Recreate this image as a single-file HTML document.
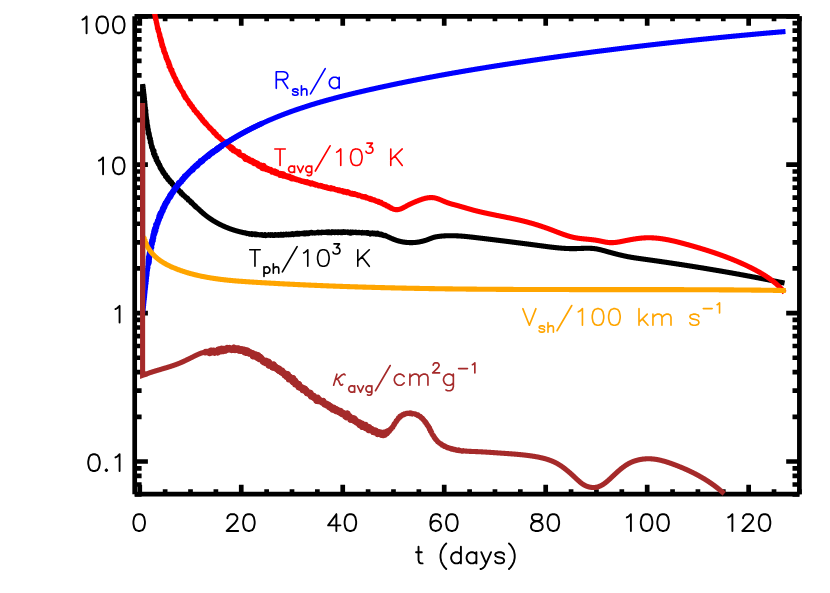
<!DOCTYPE html>
<html><head><meta charset="utf-8"><title>plot</title><style>html,body{margin:0;padding:0;background:#fff;font-family:"Liberation Sans",sans-serif;overflow:hidden}svg{display:block}</style></head><body>
<svg width="830" height="593" viewBox="0 0 830 593">
<rect width="830" height="593" fill="#fff"/>
<g stroke="#000" stroke-width="4.7" fill="none" stroke-linecap="butt">
<path d="M134.7 16.3 H799.4 M799.4 16.3 V494.2 M799.4 494.2 H134.7 M134.7 494.2 V16.3"/>
<path d="M139.77 494.2 v-9.4 M139.77 16.3 v9.4 M165.14 494.2 v-4.9 M165.14 16.3 v4.9 M190.51 494.2 v-4.9 M190.51 16.3 v4.9 M215.88 494.2 v-4.9 M215.88 16.3 v4.9 M241.25 494.2 v-9.4 M241.25 16.3 v9.4 M266.63 494.2 v-4.9 M266.63 16.3 v4.9 M292 494.2 v-4.9 M292 16.3 v4.9 M317.37 494.2 v-4.9 M317.37 16.3 v4.9 M342.74 494.2 v-9.4 M342.74 16.3 v9.4 M368.11 494.2 v-4.9 M368.11 16.3 v4.9 M393.48 494.2 v-4.9 M393.48 16.3 v4.9 M418.85 494.2 v-4.9 M418.85 16.3 v4.9 M444.22 494.2 v-9.4 M444.22 16.3 v9.4 M469.59 494.2 v-4.9 M469.59 16.3 v4.9 M494.96 494.2 v-4.9 M494.96 16.3 v4.9 M520.33 494.2 v-4.9 M520.33 16.3 v4.9 M545.7 494.2 v-9.4 M545.7 16.3 v9.4 M571.07 494.2 v-4.9 M571.07 16.3 v4.9 M596.44 494.2 v-4.9 M596.44 16.3 v4.9 M621.81 494.2 v-4.9 M621.81 16.3 v4.9 M647.18 494.2 v-9.4 M647.18 16.3 v9.4 M672.55 494.2 v-4.9 M672.55 16.3 v4.9 M697.92 494.2 v-4.9 M697.92 16.3 v4.9 M723.29 494.2 v-4.9 M723.29 16.3 v4.9 M748.66 494.2 v-9.4 M748.66 16.3 v9.4 M774.03 494.2 v-4.9 M774.03 16.3 v4.9 M799.4 494.2 v-4.9 M799.4 16.3 v4.9 M134.7 494.42 h6.9 M799.4 494.42 h-6.9 M134.7 484.49 h6.9 M799.4 484.49 h-6.9 M134.7 475.88 h6.9 M799.4 475.88 h-6.9 M134.7 468.29 h6.9 M799.4 468.29 h-6.9 M134.7 461.5 h13.2 M799.4 461.5 h-13.2 M134.7 416.83 h6.9 M799.4 416.83 h-6.9 M134.7 390.7 h6.9 M799.4 390.7 h-6.9 M134.7 372.15 h6.9 M799.4 372.15 h-6.9 M134.7 357.77 h6.9 M799.4 357.77 h-6.9 M134.7 346.02 h6.9 M799.4 346.02 h-6.9 M134.7 336.09 h6.9 M799.4 336.09 h-6.9 M134.7 327.48 h6.9 M799.4 327.48 h-6.9 M134.7 319.89 h6.9 M799.4 319.89 h-6.9 M134.7 313.1 h13.2 M799.4 313.1 h-13.2 M134.7 268.43 h6.9 M799.4 268.43 h-6.9 M134.7 242.3 h6.9 M799.4 242.3 h-6.9 M134.7 223.75 h6.9 M799.4 223.75 h-6.9 M134.7 209.37 h6.9 M799.4 209.37 h-6.9 M134.7 197.62 h6.9 M799.4 197.62 h-6.9 M134.7 187.69 h6.9 M799.4 187.69 h-6.9 M134.7 179.08 h6.9 M799.4 179.08 h-6.9 M134.7 171.49 h6.9 M799.4 171.49 h-6.9 M134.7 164.7 h13.2 M799.4 164.7 h-13.2 M134.7 120.03 h6.9 M799.4 120.03 h-6.9 M134.7 93.9 h6.9 M799.4 93.9 h-6.9 M134.7 75.35 h6.9 M799.4 75.35 h-6.9 M134.7 60.97 h6.9 M799.4 60.97 h-6.9 M134.7 49.22 h6.9 M799.4 49.22 h-6.9 M134.7 39.29 h6.9 M799.4 39.29 h-6.9 M134.7 30.68 h6.9 M799.4 30.68 h-6.9 M134.7 23.09 h6.9 M799.4 23.09 h-6.9 M134.7 16.3 h13.2 M799.4 16.3 h-13.2"/>
</g>
<defs><clipPath id="cp"><rect x="132.35" y="13.950000000000001" width="669.4000000000001" height="482.59999999999997"/></clipPath></defs>
<g clip-path="url(#cp)">
<path d="M142.6 313 L142.6 84.3 L142.93 86.1 L143 86.39 L143 86.69 L143.06 86.99 L143.15 87.28 L143.05 87.59 L143.08 87.89 L143.06 88.2 L143.21 88.48 L143.27 88.78 L143.31 89.07 L143.42 89.36 L143.28 89.68 L143.46 89.96 L143.5 90.26 L143.46 90.57 L143.37 90.88 L143.5 91.17" stroke="#000" stroke-width="5.1" fill="none" stroke-linejoin="bevel"/>
<path d="M143.28 89.68 L143.46 89.96 L143.5 90.26 L143.46 90.57 L143.37 90.88 L143.5 91.17 L143.62 91.46 L143.63 91.76 L143.57 92.07 L143.66 92.36 L143.74 92.65 L143.73 92.95 L143.68 93.26 L143.62 93.57 L143.9 93.84 L143.89 94.15 L143.93 94.44 L144.09 94.73 L144 95.04 L144.04 95.34 L143.9 95.65 L144.03 95.94 L144.19 96.23 L144.03 96.54 L144.14 96.83 L144.29 97.12 L144.23 97.43 L144.26 97.73 L144.31 98.02 L144.26 98.33 L144.49 98.61 L144.35 98.93 L144.26 99.24 L144.31 99.53 L144.31 99.83 L144.34 100.13 L144.34 100.44 L144.61 100.71 L144.45 101.03 L144.74 101.3 L144.65 101.61 L144.81 101.9 L144.55 102.22 L144.55 102.53 L144.73 102.81 L144.57 103.13 L144.84 103.4 L144.79 103.71 L144.81 104.01 L144.97 104.29 L144.85 104.61 L144.72 104.92 L145.05 105.19 L144.89 105.51 L145.03 105.8 L144.85 106.11 L145.02 106.4 L145.03 106.7 L145.06 107 L145.13 107.29 L145.34 107.57 L145.07 107.9 L145.4 108.17 L145.26 108.49 L145.25 108.79 L145.44 109.07 L145.36 109.38 L145.28 109.69 L145.44 109.98 L145.57 110.27 L145.83 110.54 L145.65 110.86 L145.63 111.16 L145.66 111.46 L145.74 111.76 L145.62 112.07 L145.76 112.36 L145.74 112.66 L145.68 112.97 L145.9 113.25 L145.86 113.55 L145.6 113.89 L145.79 114.17 L146.09 114.44 L145.97 114.75 L145.93 115.06 L145.88 115.37 L146.05 115.65 L146.17 115.94 L146.23 116.23 L146.09 116.55 L146.17 116.84 L146.31 117.13 L146.31 117.43 L146.37 117.73 L146.26 118.04 L146.48 118.32 L146.37 118.63 L146.35 118.94 L146.44 119.23 L146.66 119.5 L146.4 119.84 L146.71 120.1 L146.6 120.42 L146.8 120.7 L146.98 120.97 L146.75 121.31 L146.78 121.61 L146.87 121.9 L146.86 122.2 L147.04 122.48 L147.09 122.78 L147.05 123.08 L146.79 123.43 L146.99 123.7 L147.23 123.97 L147.12 124.29 L147.32 124.56 L147.36 124.86 L147.2 125.19 L147.46 125.45 L147.68 125.72 L147.61 126.03 L147.5 126.36 L147.54 126.65 L147.42 126.98 L147.77 127.22 L147.59 127.56 L147.69 127.85 L147.83 128.13 L147.72 128.45 L147.83 128.74 L148.1 128.99 L147.83 129.35 L148.26 129.58 L148.1 129.91 L148.16 130.2 L148.14 130.51 L148.39 130.77 L148.33 131.09 L148.4 131.38 L148.26 131.71 L148.62 131.95 L148.53 132.27 L148.64 132.55 L148.88 132.81 L148.23 133.25 L148.78 133.44 L149.1 133.69 L148.63 134.09 L149.14 134.29 L148.94 134.64 L148.91 134.95 L149.25 135.19 L149.27 135.49 L149.35 135.78 L149.34 136.09 L149.69 136.32 L149.68 136.63 L149.53 136.97 L149.37 137.31 L149.51 137.59 L149.36 137.93 L149.63 138.18 L149.94 138.41 L149.93 138.72 L150.38 138.92 L150.24 139.27 L150.32 139.55 L150.13 139.91 L150.12 140.22 L150.44 140.45 L150.52 140.74 L150.8 140.98 L150.57 141.35 L150.57 141.66 L150.6 141.96 L150.94 142.18 L150.41 142.63 L150.66 142.88 L151.02 143.09 L151.2 143.35 L151.23 143.65 L151.21 143.97 L151.32 144.25 L151.29 144.57 L151.31 144.88 L151.25 145.21 L151.38 145.49 L151.76 145.69 L151.72 146.01 L151.99 146.25 L152.13 146.52 L151.61 146.99 L152.27 147.1 L151.77 147.57 L152.42 147.68 L152.36 148.01 L152.25 148.36 L152.6 148.57 L152.6 148.88 L152.84 149.12 L152.99 149.39 L153.01 149.7 L153.22 149.94 L152.77 150.41 L153.3 150.55 L152.95 150.99 L154.09 150.92 L153.54 151.42 L153.51 151.75 L153.81 151.96 L153.59 152.36 L153.79 152.6 L154.11 152.81 L154.05 153.15 L153.59 153.64 L154.29 153.7 L154.39 153.99 L154.67 154.2 L154.64 154.54 L155.08 154.69 L154.93 155.07 L154.42 155.59 L154.85 155.74 L155.06 155.98 L155.06 156.31 L154.99 156.66 L155.4 156.82 L155.17 157.23 L155.52 157.42 L155.84 157.61 L155.6 158.04 L156.65 157.92 L156.36 158.37 L156.28 158.73 L156.67 158.89 L156.61 159.24 L156.84 159.47 L156.97 159.74 L156.32 160.35 L156.92 160.42 L157.19 160.62 L157 161.04 L157.48 161.15 L157.35 161.54 L157.6 161.76 L157.44 162.17 L158.25 162.11 L157.89 162.62 L158.16 162.82 L158.58 162.95 L158.21 163.47 L158.78 163.52 L158.35 164.07 L158.73 164.22 L158.82 164.5 L159.1 164.7 L159.05 165.07 L159.8 165.02 L159.51 165.51 L159.8 165.69 L159.74 166.06 L159.95 166.29 L159.94 166.63 L160.4 166.73 L159.96 167.31 L160 167.63 L160.69 167.59 L160.8 167.88 L160.88 168.18 L160.81 168.56 L160.82 168.9 L161.64 168.78 L161.66 169.11 L161.91 169.32 L162.07 169.57 L162.33 169.76 L162.05 170.27 L162.54 170.34 L162.12 170.94 L162.4 171.12 L162.97 171.12 L163.13 171.38 L163.2 171.69 L162.93 172.21 L163.56 172.16 L163.86 172.33 L163.71 172.78 L163.79 173.09 L164.17 173.2 L163.85 173.76 L164.31 173.82 L164.43 174.1 L164.87 174.17 L164.87 174.53 L165.06 174.77 L165.66 174.72 L165.31 175.33 L165.9 175.27 L165.71 175.77 L166.18 175.81 L165.64 176.56 L166.16 176.56 L166.23 176.88 L166.39 177.13 L167.02 177.04 L167.39 177.14 L167.18 177.67 L167.12 178.1 L167.46 178.22 L167.5 178.56 L167.65 178.82 L168.32 178.69 L168.15 179.2 L168.01 179.69 L168.69 179.54 L169.16 179.54 L169 180.06 L169.23 180.25 L169.25 180.63 L169.7 180.65 L169.7 181.04 L170.33 180.9 L169.94 181.62 L169.99 181.97 L170.24 182.15 L170.97 181.92 L170.82 182.45 L171.64 182.14 L171.22 182.9 L171.48 183.07 L171.86 183.14 L171.8 183.58 L172.04 183.77 L172.09 184.13 L172.45 184.22 L172.63 184.46 L173.23 184.31 L173.29 184.67 L173.37 185 L173.43 185.35 L173.69 185.52 L173.62 186 L174.26 185.81 L174.35 186.14 L174.47 186.44 L174.76 186.57 L174.84 186.91 L175.24 186.95 L175.09 187.51 L175.61 187.42 L175.56 187.89 L175.98 187.9 L175.92 188.38 L176.64 188.09 L176.52 188.64 L176.9 188.68 L176.99 189.01 L177.03 189.39 L177.66 189.19 L177.9 189.37 L178.06 189.64 L178.05 190.07 L178.64 189.9 L178.51 190.46 L178.97 190.42 L179.16 190.66 L179.24 191.01 L179.32 191.35 L179.72 191.37 L179.91 191.61 L180.05 191.9 L180.3 192.06 L180.94 191.83 L180.77 192.45 L180.9 192.75 L180.94 193.14 L181 193.51 L181.45 193.47 L181.77 193.57 L182.17 193.58 L182.21 193.98 L182.31 194.31 L182.45 194.61 L183.03 194.42 L183.06 194.83 L183.18 195.14 L183.22 195.53 L183.72 195.44 L184.07 195.5 L184.32 195.68 L184.48 195.94 L184.75 196.09 L184.72 196.57 L184.9 196.81 L185.18 196.95 L185.32 197.24 L185.82 197.14 L185.9 197.5 L186.25 197.56 L186.4 197.84 L186.42 198.27 L186.86 198.24 L187.39 198.1 L187.34 198.6 L187.63 198.72 L187.99 198.78 L188.09 199.11 L188.01 199.64 L188.11 199.97 L188.7 199.78 L188.67 200.26 L188.86 200.49 L189.48 200.27 L189.51 200.68 L189.73 200.88 L189.91 201.12 L190.43 201 L190.44 201.43 L190.42 201.9 L190.61 202.14 L190.73 202.45 L191.32 202.25 L191.16 202.86 L191.59 202.85 L192.15 202.68 L192.01 203.27 L192.42 203.28 L192.49 203.64 L192.81 203.73 L192.8 204.18 L193.19 204.21 L193.49 204.32 L193.51 204.74 L193.84 204.83 L194.17 204.92 L194.12 205.4 L194.6 205.34 L194.85 205.51 L195.05 205.74 L195.4 205.81 L195.48 206.15 L195.38 206.7 L195.96 206.52 L196.06 206.85 L196.42 206.91 L196.57 207.18 L196.54 207.66 L196.83 207.78 L197.22 207.81 L197.37 208.08 L197.68 208.2 L197.89 208.41 L198.12 208.6 L198.34 208.81 L198.44 209.14 L198.64 209.37 L198.87 209.56 L199.15 209.7 L199.46 209.8 L199.58 210.12 L199.86 210.25 L199.96 210.6 L200.2 210.77 L200.42 210.98 L200.71 211.11 L201.01 211.22 L201.08 211.59 L201.3 211.8 L201.66 211.85 L201.8 212.13 L201.99 212.38 L202.3 212.48 L202.43 212.79 L202.73 212.9 L202.98 213.07 L203.14 213.34 L203.4 213.51 L203.64 213.68 L203.85 213.9 L204.12 214.05 L204.31 214.29 L204.56 214.45 L204.79 214.65 L205.02 214.84 L205.26 215.02 L205.49 215.21 L205.73 215.4 L205.96 215.58 L206.2 215.77 L206.44 215.95 L206.68 216.13 L206.91 216.32 L207.15 216.5 L207.39 216.68 L207.64 216.86 L207.88 217.03 L208.12 217.21 L208.36 217.39 L208.61 217.56 L208.85 217.74 L209.09 217.91 L209.34 218.08 L209.59 218.26 L209.83 218.43 L210.08 218.6 L210.33 218.77 L210.58 218.93 L210.83 219.1 L211.08 219.27 L211.33 219.43 L211.58 219.6 L211.83 219.76 L212.08 219.92 L212.33 220.09 L212.59 220.25 L212.84 220.41 L213.09 220.57 L213.35 220.73 L213.61 220.88 L213.86 221.04 L214.12 221.19 L214.38 221.35 L214.63 221.5 L214.89 221.66 L215.15 221.81 L215.41 221.96 L215.67 222.11 L215.93 222.26 L216.19 222.41 L216.45 222.55 L216.71 222.7 L216.98 222.85 L217.24 222.99 L217.5 223.14 L217.77 223.28 L218.03 223.42 L218.3 223.56 L218.56 223.7 L218.83 223.84 L219.09 223.98 L219.36 224.12 L219.63 224.25 L219.9 224.39 L220.16 224.52 L220.43 224.66 L220.7 224.79 L220.97 224.92 L221.24 225.05 L221.51 225.18 L221.78 225.31 L222.05 225.44 L222.32 225.57 L222.6 225.7 L222.87 225.82 L223.14 225.95 L223.42 226.07 L223.69 226.2 L223.96 226.32 L224.24 226.44 L224.51 226.56 L224.79 226.68 L225.06 226.8 L225.34 226.92 L225.62 227.03 L225.89 227.15 L226.17 227.27 L226.45 227.38 L226.73 227.49 L227 227.61 L227.28 227.72 L227.56 227.83 L227.84 227.94 L228.12 228.05 L228.4 228.16 L228.68 228.26 L228.96 228.37 L229.24 228.48 L229.52 228.58 L229.8 228.68 L230.09 228.79 L230.37 228.89 L230.65 228.99 L230.93 229.09 L231.22 229.19 L231.5 229.29 L231.78 229.39 L232.07 229.48 L232.35 229.58 L232.64 229.68 L232.92 229.77 L233.21 229.86 L233.49 229.96 L233.78 230.05 L234.06 230.14 L234.35 230.23 L234.64 230.32 L234.92 230.41 L235.21 230.49 L235.5 230.58 L235.79 230.67 L236.07 230.75 L236.36 230.84 L236.65 230.92 L236.94 231 L237.23 231.08 L237.52 231.16 L237.81 231.24 L238.1 231.32 L238.39 231.4 L238.68 231.48 L238.97 231.55 L239.26 231.63 L239.55 231.7 L239.84 231.78 L240.13 231.85 L240.42 231.92 L240.71 231.99 L241 232.07 L241.3 232.11 L241.6 232.15 L241.88 232.29 L242.17 232.36 L242.48 232.35 L242.75 232.52 L243.06 232.48 L243.34 232.61 L243.66 232.57 L243.94 232.72 L244.24 232.72 L244.53 232.79 L244.81 232.92 L245.1 233.01 L245.42 232.92 L245.67 233.22 L246.01 233.03 L246.32 233 L246.59 233.19 L246.84 233.51 L247.19 233.27 L247.51 233.2 L247.79 233.34 L248.06 233.53 L248.35 233.61 L248.65 233.65 L248.93 233.8 L249.2 234.01 L249.54 233.74 L249.83 233.84 L250.14 233.82 L250.43 233.93 L250.7 234.13 L251.02 234.02 L251.36 233.78 L251.6 234.21 L251.88 234.39 L252.22 234.15 L252.47 234.55 L252.79 234.4 L253.15 233.9 L253.42 234.15 L253.74 234.04 L254.02 234.2 L254.33 234.16 L254.6 234.42 L254.89 234.54 L255.25 234.02 L255.49 234.64 L255.8 234.47 L256.08 234.74 L256.4 234.49 L256.74 234.09 L257 234.58 L257.29 234.71 L257.59 234.74 L257.89 234.67 L258.21 234.48 L258.51 234.53 L258.8 234.58 L259.11 234.55 L259.39 234.8 L259.68 234.89 L259.98 235.01 L260.28 234.93 L260.59 234.84 L260.88 235.02 L261.19 234.9 L261.5 234.71 L261.78 235.13 L262.09 234.94 L262.39 234.95 L262.67 235.25 L262.98 235.11 L263.28 235.15 L263.57 235.45 L263.88 235.29 L264.18 235.23 L264.48 235.08 L264.8 234.63 L265.1 234.54 L265.39 234.88 L265.67 235.59 L265.99 235.06 L266.29 235 L266.58 235.22 L266.88 235.36 L267.18 235.2 L267.48 235.24 L267.79 235.2 L268.09 235.05 L268.39 235.01 L268.69 234.64 L268.99 235.12 L269.29 235.12 L269.59 235.19 L269.89 235.34 L270.19 234.84 L270.49 234.87 L270.79 235.28 L271.09 234.78 L271.39 235.16 L271.69 235.12 L271.99 235.22 L272.29 234.93 L272.59 235.23 L272.88 234.84 L273.19 235.26 L273.49 235.08 L273.79 234.99 L274.09 235.11 L274.39 235.34 L274.68 234.83 L274.99 235.01 L275.28 234.78 L275.59 235.24 L275.89 235.18 L276.18 234.83 L276.49 234.96 L276.78 234.76 L277.09 235 L277.4 235.2 L277.68 234.85 L277.99 234.96 L278.28 234.59 L278.6 235.3 L278.88 234.67 L279.19 234.94 L279.48 234.82 L279.8 235.12 L280.09 234.83 L280.38 234.78 L280.67 234.56 L281 235.1 L281.27 234.45 L281.6 235.14 L281.9 235.07 L282.21 235.18 L282.48 234.57 L282.78 234.6 L283.09 234.78 L283.4 234.97 L283.67 234.49 L284 234.96 L284.27 234.44 L284.59 234.82 L284.89 234.66 L285.19 234.68 L285.48 234.61 L285.79 234.75 L286.06 234.21 L286.4 234.79 L286.68 234.43 L286.98 234.49 L287.27 234.34 L287.59 234.64 L287.89 234.56 L288.18 234.38 L288.47 234.24 L288.8 234.81 L289.08 234.35 L289.39 234.5 L289.67 234.3 L289.99 234.57 L290.3 234.62 L290.59 234.53 L290.9 234.64 L291.2 234.64 L291.44 233.8 L291.77 234.09 L292.06 233.95 L292.38 234.33 L292.68 234.24 L292.96 233.9 L293.3 234.48 L293.57 234.15 L293.9 234.44 L294.16 233.94 L294.48 234.23 L294.79 234.3 L295.06 233.94 L295.37 234.06 L295.67 233.97 L295.96 233.87 L296.27 234 L296.54 233.49 L296.88 234.04 L297.17 233.88 L297.45 233.57 L297.77 233.97 L298.03 233.38 L298.35 233.53 L298.68 234.01 L298.97 233.85 L299.25 233.57 L299.58 234 L299.86 233.6 L300.16 233.61 L300.46 233.64 L300.77 233.75 L301.07 233.7 L301.34 233.36 L301.65 233.46 L301.96 233.65 L302.27 233.75 L302.56 233.54 L302.87 233.66 L303.17 233.63 L303.44 233.21 L303.75 233.36 L304.08 233.84 L304.35 233.31 L304.66 233.51 L304.93 233.05 L305.29 233.96 L305.54 233.13 L305.86 233.42 L306.16 233.36 L306.43 232.9 L306.75 233.17 L307.06 233.44 L307.34 233.04 L307.66 233.36 L307.94 233.08 L308.26 233.39 L308.57 233.59 L308.83 232.86 L309.15 233.14 L309.44 232.91 L309.73 232.83 L310.04 233.02 L310.35 233.05 L310.65 233.08 L310.95 233.06 L311.22 232.48 L311.54 232.83 L311.82 232.46 L312.15 232.97 L312.45 233.07 L312.74 232.93 L313.04 232.74 L313.35 232.92 L313.65 233 L313.95 232.93 L314.23 232.68 L314.54 232.7 L314.85 233.04 L315.14 232.75 L315.44 232.77 L315.74 232.73 L316.05 232.84 L316.34 232.81 L316.64 232.62 L316.94 232.59 L317.24 232.59 L317.54 232.67 L317.84 232.75 L318.13 232.31 L318.45 232.93 L318.73 232.36 L319.04 232.6 L319.33 232.33 L319.63 232.44 L319.94 232.52 L320.24 232.65 L320.54 232.57 L320.84 232.69 L321.14 232.43 L321.45 232.83 L321.73 232.13 L322.04 232.52 L322.34 232.52 L322.63 232.35 L322.94 232.43 L323.23 232.24 L323.54 232.5 L323.83 232.32 L324.14 232.56 L324.44 232.47 L324.74 232.47 L325.04 232.39 L325.33 232.18 L325.64 232.51 L325.94 232.52 L326.24 232.27 L326.53 232.1 L326.83 232.19 L327.14 232.54 L327.43 231.96 L327.74 232.38 L328.04 232.22 L328.34 232.45 L328.63 231.97 L328.94 232.37 L329.23 232.05 L329.54 232.38 L329.85 232.62 L330.14 232.21 L330.45 232.65 L330.74 232.25 L331.04 232.39 L331.35 232.72 L331.64 232.44 L331.94 232.33 L332.23 231.72 L332.54 232.04 L332.84 232.29 L333.14 232.05 L333.44 232 L333.74 232.3 L334.04 231.89 L334.34 231.95 L334.64 232.34 L334.94 232.62 L335.24 232.02 L335.54 232.2 L335.84 232.3 L336.14 232.04 L336.44 231.99 L336.74 232.26 L337.04 231.94 L337.34 232.01 L337.64 232.57 L337.94 231.76 L338.24 232.58 L338.54 232.47 L338.84 232.04 L339.14 232.41 L339.44 232.21 L339.74 231.97 L340.04 232.05 L340.34 232.01 L340.64 232.5 L340.95 231.91 L341.25 231.89 L341.55 232.09 L341.85 232.03 L342.14 232.63 L342.45 232.06 L342.75 232.02 L343.05 232.01 L343.35 232 L343.65 231.74 L343.95 232.19 L344.25 232.02 L344.55 232.12 L344.84 232.44 L345.14 232.41 L345.44 232.36 L345.75 232 L346.05 232.18 L346.35 232.09 L346.65 232.14 L346.95 232.18 L347.25 232.1 L347.54 232.45 L347.85 232.07 L348.14 232.53 L348.45 232.33 L348.75 232.22 L349.05 232.36 L349.35 232.19 L349.65 232.2 L349.94 232.49 L350.25 232.23 L350.53 233.21 L350.86 232.04 L351.16 232.02 L351.44 232.59 L351.75 232.21 L352.05 232.19 L352.36 232.11 L352.65 232.29 L352.95 232.18 L353.24 232.52 L353.55 232.23 L353.85 232.37 L354.15 232.52 L354.45 232.44 L354.75 232.3 L355.06 232.19 L355.36 232.1 L355.66 232.1 L355.94 232.6 L356.25 232.33 L356.55 232.37 L356.85 232.51 L357.15 232.56 L357.44 232.72 L357.75 232.61 L358.05 232.47 L358.36 232.29 L358.64 232.65 L358.95 232.54 L359.25 232.57 L359.56 232.4 L359.85 232.67 L360.14 232.8 L360.45 232.6 L360.74 232.8 L361.05 232.68 L361.35 232.61 L361.63 232.96 L361.95 232.66 L362.24 232.79 L362.56 232.42 L362.84 232.95 L363.15 232.69 L363.45 232.77 L363.75 232.73 L364.04 232.89 L364.35 232.72 L364.66 232.63 L364.94 232.91 L365.24 232.96 L365.55 232.81 L365.83 233.08 L366.13 233.18 L366.45 232.81 L366.74 233.09 L367.04 233.11 L367.36 232.69 L367.66 232.78 L367.97 232.58 L368.22 233.38 L368.55 233.01 L368.84 233.04 L369.13 233.28 L369.41 233.51 L369.73 233.29 L370.01 233.56 L370.32 233.51 L370.58 234.06 L370.95 233.07 L371.24 233.2 L371.55 233.15 L371.82 233.48 L372.15 233.18 L372.42 233.56 L372.76 233 L373.01 233.65 L373.32 233.57 L373.6 233.81 L373.91 233.66 L374.22 233.57 L374.52 233.65 L374.87 233.16 L375.13 233.57 L375.42 233.69 L375.68 234.08 L376.01 233.75 L376.36 233.42 L376.55 234.28 L376.94 233.63 L377.21 233.89 L377.54 233.7 L377.91 233.2 L378.07 234.17 L378.41 233.94 L378.67 234.26 L379.01 234 L379.26 234.32 L379.52 234.59 L379.85 234.43 L380.18 234.32 L380.49 234.3 L380.76 234.47 L381.12 234.25 L381.34 234.62 L381.61 234.8 L382.01 234.41 L382.29 234.53 L382.42 235.26 L382.81 234.94 L382.99 235.41 L383.36 235.22 L383.64 235.33 L383.95 235.31 L384.15 235.68 L384.46 235.7 L384.83 235.53 L385.22 235.31 L385.47 235.52 L385.68 235.82 L386.01 235.79 L386.2 236.13 L386.49 236.22 L386.77 236.34 L387.04 236.46 L387.34 236.52 L387.6 236.67 L387.89 236.76 L388.23 236.73 L388.45 236.97 L388.73 237.1 L388.96 237.32 L389.29 237.31 L389.58 237.39 L389.74 237.77 L390.06 237.79 L390.32 237.94 L390.58 238.1 L390.91 238.09 L391.15 238.3 L391.45 238.37 L391.75 238.42 L391.99 238.62 L392.27 238.73 L392.54 238.87 L392.83 238.95 L393.1 239.07 L393.39 239.16 L393.65 239.33 L393.95 239.38 L394.21 239.53 L394.5 239.63 L394.78 239.74 L395.06 239.85 L395.34 239.95 L395.62 240.05 L395.91 240.14 L396.19 240.24 L396.48 240.33 L396.76 240.43 L397.05 240.52 L397.33 240.6 L397.62 240.69 L397.91 240.77 L398.2 240.86 L398.49 240.94 L398.78 241.02 L399.07 241.09 L399.36 241.17 L399.65 241.24 L399.94 241.31 L400.23 241.38 L400.53 241.45 L400.82 241.51 L401.11 241.58 L401.41 241.64 L401.7 241.7 L401.99 241.76 L402.29 241.81 L402.58 241.87 L402.88 241.92 L403.18 241.97 L403.47 242.02 L403.77 242.06 L404.07 242.11 L404.36 242.15 L404.66 242.19 L404.96 242.23 L405.26 242.27 L405.55 242.31 L405.85 242.34 L406.15 242.37 L406.45 242.4 L406.75 242.43 L407.05 242.45 L407.35 242.48 L407.65 242.5 L407.94 242.52 L408.24 242.54 L408.54 242.56 L408.84 242.57 L409.14 242.58 L409.44 242.6 L409.74 242.61 L410.04 242.61 L410.34 242.62 L410.64 242.62 L410.94 242.62 L411.24 242.62 L411.54 242.62 L411.84 242.62 L412.14 242.61 L412.44 242.6 L412.74 242.59 L413.04 242.58 L413.34 242.57 L413.64 242.55 L413.94 242.54 L414.24 242.52 L414.54 242.5 L414.84 242.47 L415.14 242.45 L415.44 242.42 L415.74 242.4 L416.04 242.36 L416.34 242.33 L416.63 242.3 L416.93 242.26 L417.23 242.22 L417.53 242.18 L417.82 242.14 L418.12 242.1 L418.42 242.05 L418.71 242.01 L419.01 241.96 L419.31 241.9 L419.6 241.85 L419.9 241.8 L420.19 241.74 L420.49 241.68 L420.78 241.62 L421.07 241.55 L421.37 241.49 L421.66 241.42 L421.95 241.35 L422.24 241.28 L422.53 241.21 L422.82 241.14 L423.12 241.06 L423.41 240.98 L423.69 240.9 L423.98 240.82 L424.27 240.74 L424.56 240.65 L424.85 240.57 L425.13 240.48 L425.42 240.39 L425.71 240.29 L425.99 240.2 L426.27 240.1 L426.56 240.01 L426.84 239.91 L427.12 239.81 L427.41 239.7 L427.69 239.6 L427.97 239.49 L428.25 239.39 L428.53 239.28 L428.81 239.17 L429.09 239.06 L429.37 238.95 L429.65 238.84 L429.93 238.73 L430.2 238.62 L430.48 238.51 L430.76 238.4 L431.04 238.29 L431.32 238.18 L431.61 238.08 L431.89 237.98 L432.17 237.88 L432.45 237.78 L432.74 237.68 L433.02 237.59 L433.31 237.5 L433.6 237.41 L433.89 237.33 L434.18 237.25 L434.47 237.18 L434.76 237.1 L435.05 237.04 L435.34 236.97 L435.64 236.91 L435.93 236.85 L436.23 236.79 L436.52 236.74 L436.82 236.69 L437.11 236.64 L437.41 236.59 L437.71 236.55 L438 236.5 L438.3 236.46 L438.6 236.42 L438.9 236.39 L439.19 236.35 L439.49 236.31 L439.79 236.28 L440.09 236.25 L440.39 236.21 L440.69 236.18 L440.98 236.15 L441.28 236.12 L441.58 236.1 L441.88 236.07 L442.18 236.04 L442.48 236.02 L442.78 235.99 L443.08 235.97 L443.38 235.95 L443.68 235.93 L443.98 235.91 L444.27 235.89 L444.57 235.87 L444.87 235.85 L445.17 235.84 L445.47 235.82 L445.77 235.81 L446.07 235.79 L446.37 235.78 L446.67 235.77 L446.97 235.76 L447.27 235.75 L447.57 235.74 L447.87 235.73 L448.17 235.72 L448.47 235.72 L448.77 235.71 L449.07 235.71 L449.37 235.7 L449.67 235.7 L449.97 235.7 L450.27 235.7 L450.57 235.7 L450.87 235.7 L451.17 235.7 L451.47 235.7 L451.78 235.7 L452.08 235.7 L452.38 235.71 L452.68 235.71 L452.98 235.72 L453.28 235.72 L453.58 235.73 L453.88 235.74 L454.18 235.74 L454.48 235.75 L454.78 235.76 L455.08 235.77 L455.38 235.78 L455.68 235.79 L455.98 235.81 L456.28 235.82 L456.58 235.83 L456.88 235.85 L457.18 235.86 L457.47 235.87 L457.77 235.89 L458.07 235.91 L458.37 235.92 L458.67 235.94 L458.97 235.96 L459.27 235.98 L459.57 235.99 L459.87 236.01 L460.17 236.03 L460.47 236.05 L460.77 236.08 L461.07 236.1 L461.37 236.12 L461.67 236.14 L461.97 236.16 L462.27 236.19 L462.57 236.21 L462.87 236.23 L463.16 236.26 L463.46 236.28 L463.76 236.31 L464.06 236.33 L464.36 236.36 L464.66 236.39 L464.96 236.41 L465.26 236.44 L465.56 236.47 L465.86 236.5 L466.15 236.53 L466.45 236.55 L466.75 236.58 L467.05 236.61 L467.35 236.64 L467.65 236.67 L467.95 236.7 L468.25 236.73 L468.54 236.76 L468.84 236.79 L469.14 236.83 L469.44 236.86 L469.74 236.89 L470.04 236.92 L470.33 236.95 L470.63 236.99 L470.93 237.02 L471.23 237.05 L471.53 237.09 L471.83 237.12 L472.12 237.15 L472.42 237.19 L472.72 237.22 L473.02 237.25 L473.32 237.29 L473.62 237.32 L473.91 237.36 L474.21 237.39 L474.51 237.43 L474.81 237.46 L475.11 237.5 L475.4 237.53 L475.7 237.57 L476 237.6 L476.3 237.64 L476.6 237.67 L476.89 237.71 L477.19 237.75 L477.49 237.78 L477.79 237.82 L478.09 237.85 L478.39 237.89 L478.68 237.92 L478.98 237.96 L479.28 238 L479.58 238.03 L479.88 238.07 L480.17 238.1 L480.47 238.14 L480.77 238.17 L481.07 238.21 L481.37 238.25 L481.66 238.28 L481.96 238.32 L482.26 238.35 L482.56 238.39 L482.86 238.43 L483.15 238.46 L483.45 238.5 L483.75 238.53 L484.05 238.57 L484.35 238.61 L484.64 238.64 L484.94 238.68 L485.24 238.71 L485.54 238.75 L485.84 238.79 L486.13 238.82 L486.43 238.86 L486.73 238.89 L487.03 238.93 L487.32 238.97 L487.62 239 L487.92 239.04 L488.22 239.07 L488.52 239.11 L488.81 239.15 L489.11 239.18 L489.41 239.22 L489.71 239.26 L490.01 239.29 L490.3 239.33 L490.6 239.37 L490.9 239.4 L491.2 239.44 L491.5 239.47 L491.79 239.51 L492.09 239.55 L492.39 239.58 L492.69 239.62 L492.99 239.66 L493.28 239.69 L493.58 239.73 L493.88 239.77 L494.18 239.8 L494.48 239.84 L494.77 239.88 L495.07 239.91 L495.37 239.95 L495.67 239.99 L495.97 240.02 L496.26 240.06 L496.56 240.1 L496.86 240.13 L497.16 240.17 L497.45 240.21 L497.75 240.24 L498.05 240.28 L498.35 240.32 L498.65 240.35 L498.94 240.39 L499.24 240.43 L499.54 240.46 L499.84 240.5 L500.14 240.54 L500.43 240.57 L500.73 240.61 L501.03 240.65 L501.33 240.68 L501.63 240.72 L501.92 240.76 L502.22 240.8 L502.52 240.83 L502.82 240.87 L503.11 240.91 L503.41 240.94 L503.71 240.98 L504.01 241.02 L504.31 241.05 L504.6 241.09 L504.9 241.13 L505.2 241.17 L505.5 241.2 L505.8 241.24 L506.09 241.28 L506.39 241.32 L506.69 241.35 L506.99 241.39 L507.28 241.43 L507.58 241.46 L507.88 241.5 L508.18 241.54 L508.48 241.58 L508.77 241.61 L509.07 241.65 L509.37 241.69 L509.67 241.73 L509.96 241.76 L510.26 241.8 L510.56 241.84 L510.86 241.88 L511.16 241.91 L511.45 241.95 L511.75 241.99 L512.05 242.03 L512.35 242.06 L512.64 242.1 L512.94 242.14 L513.24 242.18 L513.54 242.22 L513.84 242.25 L514.13 242.29 L514.43 242.33 L514.73 242.37 L515.03 242.4 L515.32 242.44 L515.62 242.48 L515.92 242.52 L516.22 242.56 L516.52 242.59 L516.81 242.63 L517.11 242.67 L517.41 242.71 L517.71 242.75 L518 242.78 L518.3 242.82 L518.6 242.86 L518.9 242.9 L519.2 242.94 L519.49 242.98 L519.79 243.01 L520.09 243.05 L520.39 243.09 L520.68 243.13 L520.98 243.17 L521.28 243.2 L521.58 243.24 L521.87 243.28 L522.17 243.32 L522.47 243.36 L522.77 243.4 L523.07 243.43 L523.36 243.47 L523.66 243.51 L523.96 243.55 L524.26 243.59 L524.55 243.63 L524.85 243.67 L525.15 243.7 L525.45 243.74 L525.74 243.78 L526.04 243.82 L526.34 243.86 L526.64 243.9 L526.94 243.94 L527.23 243.97 L527.53 244.01 L527.83 244.05 L528.13 244.09 L528.42 244.13 L528.72 244.17 L529.02 244.21 L529.32 244.25 L529.61 244.29 L529.91 244.32 L530.21 244.36 L530.51 244.4 L530.8 244.44 L531.1 244.48 L531.4 244.52 L531.7 244.56 L532 244.6 L532.29 244.64 L532.59 244.68 L532.89 244.72 L533.19 244.75 L533.48 244.79 L533.78 244.83 L534.08 244.87 L534.38 244.91 L534.67 244.95 L534.97 244.99 L535.27 245.03 L535.57 245.07 L535.86 245.11 L536.16 245.15 L536.46 245.19 L536.76 245.23 L537.05 245.27 L537.35 245.31 L537.65 245.35 L537.95 245.39 L538.24 245.42 L538.54 245.46 L538.84 245.5 L539.14 245.54 L539.43 245.58 L539.73 245.62 L540.03 245.66 L540.33 245.7 L540.62 245.74 L540.92 245.78 L541.22 245.82 L541.52 245.86 L541.81 245.9 L542.11 245.94 L542.41 245.98 L542.71 246.02 L543 246.06 L543.3 246.1 L543.6 246.14 L543.9 246.18 L544.19 246.22 L544.49 246.26 L544.79 246.3 L545.09 246.34 L545.38 246.38 L545.68 246.41 L545.98 246.45 L546.28 246.49 L546.58 246.53 L546.87 246.57 L547.17 246.61 L547.47 246.65 L547.77 246.68 L548.06 246.72 L548.36 246.76 L548.66 246.8 L548.96 246.84 L549.25 246.87 L549.55 246.91 L549.85 246.95 L550.15 246.98 L550.45 247.02 L550.74 247.06 L551.04 247.09 L551.34 247.13 L551.64 247.16 L551.94 247.2 L552.23 247.23 L552.53 247.27 L552.83 247.3 L553.13 247.34 L553.43 247.37 L553.73 247.4 L554.02 247.44 L554.32 247.47 L554.62 247.5 L554.92 247.54 L555.22 247.57 L555.52 247.6 L555.81 247.63 L556.11 247.66 L556.41 247.69 L556.71 247.72 L557.01 247.75 L557.31 247.78 L557.61 247.81 L557.91 247.84 L558.2 247.87 L558.5 247.9 L558.8 247.93 L559.1 247.95 L559.4 247.98 L559.7 248.01 L560 248.03 L560.3 248.06 L560.6 248.08 L560.89 248.11 L561.19 248.13 L561.49 248.16 L561.79 248.18 L562.09 248.2 L562.39 248.22 L562.69 248.25 L562.99 248.27 L563.29 248.29 L563.59 248.31 L563.89 248.33 L564.19 248.35 L564.49 248.36 L564.79 248.38 L565.09 248.4 L565.39 248.42 L565.69 248.43 L565.99 248.45 L566.29 248.46 L566.59 248.48 L566.89 248.49 L567.19 248.51 L567.49 248.52 L567.79 248.53 L568.08 248.54 L568.38 248.55 L568.68 248.56 L568.98 248.57 L569.28 248.58 L569.58 248.59 L569.89 248.6 L570.19 248.61 L570.49 248.61 L570.79 248.62 L571.09 248.62 L571.39 248.63 L571.69 248.63 L571.99 248.63 L572.29 248.63 L572.59 248.64 L572.89 248.64 L573.19 248.64 L573.49 248.63 L573.79 248.63 L574.09 248.63 L574.39 248.63 L574.69 248.62 L574.99 248.62 L575.29 248.61 L575.59 248.61 L575.89 248.6 L576.19 248.59 L576.49 248.58 L576.79 248.58 L577.09 248.57 L577.39 248.56 L577.69 248.55 L577.99 248.54 L578.29 248.53 L578.59 248.51 L578.89 248.5 L579.19 248.49 L579.49 248.48 L579.79 248.47 L580.09 248.46 L580.39 248.45 L580.69 248.43 L580.99 248.42 L581.29 248.41 L581.59 248.4 L581.89 248.39 L582.19 248.38 L582.49 248.37 L582.79 248.36 L583.09 248.35 L583.39 248.34 L583.69 248.33 L583.99 248.32 L584.29 248.31 L584.59 248.3 L584.89 248.29 L585.19 248.29 L585.49 248.28 L585.79 248.28 L586.09 248.27 L586.39 248.27 L586.69 248.27 L586.99 248.26 L587.29 248.26 L587.59 248.26 L587.89 248.26 L588.19 248.27 L588.49 248.27 L588.79 248.27 L589.09 248.28 L589.39 248.29 L589.69 248.3 L589.99 248.31 L590.29 248.32 L590.59 248.33 L590.89 248.34 L591.19 248.36 L591.49 248.37 L591.79 248.39 L592.09 248.41 L592.39 248.44 L592.69 248.46 L592.98 248.48 L593.28 248.51 L593.58 248.54 L593.88 248.57 L594.18 248.6 L594.48 248.64 L594.78 248.68 L595.07 248.71 L595.37 248.76 L595.67 248.8 L595.96 248.84 L596.26 248.89 L596.56 248.94 L596.85 248.99 L597.15 249.05 L597.44 249.1 L597.74 249.16 L598.03 249.22 L598.33 249.28 L598.62 249.34 L598.91 249.4 L599.21 249.47 L599.5 249.53 L599.79 249.6 L600.08 249.67 L600.37 249.74 L600.67 249.81 L600.96 249.89 L601.25 249.96 L601.54 250.03 L601.83 250.11 L602.12 250.18 L602.41 250.26 L602.7 250.34 L602.99 250.42 L603.28 250.49 L603.57 250.57 L603.86 250.65 L604.15 250.73 L604.44 250.81 L604.73 250.89 L605.02 250.97 L605.31 251.05 L605.6 251.13 L605.88 251.21 L606.17 251.29 L606.46 251.37 L606.75 251.45 L607.04 251.53 L607.33 251.61 L607.62 251.69 L607.91 251.77 L608.2 251.85 L608.49 251.93 L608.78 252.01 L609.07 252.09 L609.36 252.17 L609.65 252.25 L609.94 252.33 L610.23 252.41 L610.51 252.49 L610.8 252.57 L611.09 252.64 L611.38 252.72 L611.67 252.8 L611.96 252.88 L612.25 252.96 L612.54 253.03 L612.83 253.11 L613.12 253.19 L613.41 253.27 L613.7 253.34 L613.99 253.42 L614.28 253.5 L614.57 253.57 L614.87 253.65 L615.16 253.72 L615.45 253.8 L615.74 253.87 L616.03 253.95 L616.32 254.02 L616.61 254.1 L616.9 254.17 L617.19 254.24 L617.48 254.32 L617.77 254.39 L618.06 254.46 L618.36 254.54 L618.65 254.61 L618.94 254.68 L619.23 254.75 L619.52 254.82 L619.81 254.89 L620.11 254.96 L620.4 255.03 L620.69 255.1 L620.98 255.17 L621.27 255.24 L621.57 255.31 L621.86 255.37 L622.15 255.44 L622.44 255.51 L622.74 255.57 L623.03 255.64 L623.32 255.71 L623.62 255.77 L623.91 255.84 L624.2 255.9 L624.5 255.96 L624.79 256.03 L625.08 256.09 L625.38 256.15 L625.67 256.21 L625.96 256.27 L626.26 256.33 L626.55 256.39 L626.85 256.45 L627.14 256.51 L627.43 256.57 L627.73 256.63 L628.02 256.69 L628.32 256.74 L628.61 256.8 L628.91 256.85 L629.2 256.91 L629.5 256.96 L629.79 257.02 L630.09 257.07 L630.39 257.12 L630.68 257.17 L630.98 257.23 L631.27 257.28 L631.57 257.33 L631.86 257.38 L632.16 257.43 L632.46 257.48 L632.75 257.52 L633.05 257.57 L633.35 257.62 L633.64 257.67 L633.94 257.72 L634.23 257.76 L634.53 257.81 L634.83 257.85 L635.12 257.9 L635.42 257.94 L635.72 257.99 L636.01 258.03 L636.31 258.08 L636.61 258.12 L636.91 258.17 L637.2 258.21 L637.5 258.25 L637.8 258.3 L638.09 258.34 L638.39 258.38 L638.69 258.42 L638.98 258.47 L639.28 258.51 L639.58 258.55 L639.88 258.59 L640.17 258.63 L640.47 258.68 L640.77 258.72 L641.07 258.76 L641.36 258.8 L641.66 258.84 L641.96 258.88 L642.25 258.92 L642.55 258.96 L642.85 259 L643.15 259.05 L643.44 259.09 L643.74 259.13 L644.04 259.17 L644.34 259.21 L644.63 259.25 L644.93 259.29 L645.23 259.33 L645.53 259.37 L645.82 259.41 L646.12 259.46 L646.42 259.5 L646.72 259.54 L647.01 259.58 L647.31 259.62 L647.61 259.66 L647.9 259.7 L648.2 259.75 L648.5 259.79 L648.8 259.83 L649.09 259.87 L649.39 259.91 L649.69 259.95 L649.99 260 L650.28 260.04 L650.58 260.08 L650.88 260.12 L651.17 260.16 L651.47 260.2 L651.77 260.25 L652.07 260.29 L652.36 260.33 L652.66 260.37 L652.96 260.41 L653.25 260.46 L653.55 260.5 L653.85 260.54 L654.15 260.58 L654.44 260.63 L654.74 260.67 L655.04 260.71 L655.33 260.75 L655.63 260.8 L655.93 260.84 L656.23 260.88 L656.52 260.92 L656.82 260.97 L657.12 261.01 L657.41 261.05 L657.71 261.09 L658.01 261.14 L658.31 261.18 L658.6 261.22 L658.9 261.26 L659.2 261.31 L659.49 261.35 L659.79 261.39 L660.09 261.44 L660.39 261.48 L660.68 261.52 L660.98 261.57 L661.28 261.61 L661.57 261.65 L661.87 261.69 L662.17 261.74 L662.46 261.78 L662.76 261.82 L663.06 261.87 L663.36 261.91 L663.65 261.96 L663.95 262 L664.25 262.04 L664.54 262.09 L664.84 262.13 L665.14 262.17 L665.43 262.22 L665.73 262.26 L666.03 262.3 L666.33 262.35 L666.62 262.39 L666.92 262.44 L667.22 262.48 L667.51 262.52 L667.81 262.57 L668.11 262.61 L668.4 262.66 L668.7 262.7 L669 262.74 L669.29 262.79 L669.59 262.83 L669.89 262.88 L670.18 262.92 L670.48 262.97 L670.78 263.01 L671.08 263.05 L671.37 263.1 L671.67 263.14 L671.97 263.19 L672.26 263.23 L672.56 263.28 L672.86 263.32 L673.15 263.37 L673.45 263.41 L673.75 263.46 L674.04 263.5 L674.34 263.55 L674.64 263.59 L674.93 263.64 L675.23 263.68 L675.53 263.73 L675.82 263.77 L676.12 263.82 L676.42 263.86 L676.71 263.91 L677.01 263.95 L677.31 264 L677.6 264.04 L677.9 264.09 L678.2 264.13 L678.49 264.18 L678.79 264.22 L679.09 264.27 L679.38 264.31 L679.68 264.36 L679.98 264.41 L680.28 264.45 L680.57 264.5 L680.87 264.54 L681.16 264.59 L681.46 264.63 L681.76 264.68 L682.05 264.73 L682.35 264.77 L682.65 264.82 L682.94 264.86 L683.24 264.91 L683.54 264.96 L683.83 265 L684.13 265.05 L684.43 265.09 L684.72 265.14 L685.02 265.19 L685.32 265.23 L685.61 265.28 L685.91 265.33 L686.21 265.37 L686.5 265.42 L686.8 265.47 L687.1 265.51 L687.39 265.56 L687.69 265.6 L687.99 265.65 L688.28 265.7 L688.58 265.74 L688.88 265.79 L689.17 265.84 L689.47 265.89 L689.77 265.93 L690.06 265.98 L690.36 266.03 L690.65 266.07 L690.95 266.12 L691.25 266.17 L691.54 266.21 L691.84 266.26 L692.14 266.31 L692.43 266.36 L692.73 266.4 L693.03 266.45 L693.32 266.5 L693.62 266.55 L693.92 266.59 L694.21 266.64 L694.51 266.69 L694.8 266.74 L695.1 266.78 L695.4 266.83 L695.69 266.88 L695.99 266.93 L696.29 266.97 L696.58 267.02 L696.88 267.07 L697.17 267.12 L697.47 267.17 L697.77 267.21 L698.06 267.26 L698.36 267.31 L698.66 267.36 L698.95 267.41 L699.25 267.45 L699.55 267.5 L699.84 267.55 L700.14 267.6 L700.43 267.65 L700.73 267.7 L701.03 267.74 L701.32 267.79 L701.62 267.84 L701.92 267.89 L702.21 267.94 L702.51 267.99 L702.8 268.03 L703.1 268.08 L703.4 268.13 L703.69 268.18 L703.99 268.23 L704.28 268.28 L704.58 268.33 L704.88 268.38 L705.17 268.43 L705.47 268.47 L705.77 268.52 L706.06 268.57 L706.36 268.62 L706.65 268.67 L706.95 268.72 L707.25 268.77 L707.54 268.82 L707.84 268.87 L708.13 268.92 L708.43 268.97 L708.73 269.02 L709.02 269.07 L709.32 269.12 L709.61 269.16 L709.91 269.21 L710.21 269.26 L710.5 269.31 L710.8 269.36 L711.09 269.41 L711.39 269.46 L711.69 269.51 L711.98 269.56 L712.28 269.61 L712.57 269.66 L712.87 269.71 L713.17 269.76 L713.46 269.81 L713.76 269.86 L714.05 269.91 L714.35 269.96 L714.65 270.01 L714.94 270.06 L715.24 270.11 L715.53 270.16 L715.83 270.21 L716.13 270.27 L716.42 270.32 L716.72 270.37 L717.01 270.42 L717.31 270.47 L717.6 270.52 L717.9 270.57 L718.2 270.62 L718.49 270.67 L718.79 270.72 L719.08 270.77 L719.38 270.82 L719.68 270.87 L719.97 270.93 L720.27 270.98 L720.56 271.03 L720.86 271.08 L721.15 271.13 L721.45 271.18 L721.75 271.23 L722.04 271.28 L722.34 271.33 L722.63 271.39 L722.93 271.44 L723.22 271.49 L723.52 271.54 L723.82 271.59 L724.11 271.64 L724.41 271.69 L724.7 271.75 L725 271.8 L725.29 271.85 L725.59 271.9 L725.89 271.95 L726.18 272.01 L726.48 272.06 L726.77 272.11 L727.07 272.16 L727.36 272.21 L727.66 272.26 L727.96 272.32 L728.25 272.37 L728.55 272.42 L728.84 272.47 L729.14 272.53 L729.43 272.58 L729.73 272.63 L730.02 272.68 L730.32 272.74 L730.62 272.79 L730.91 272.84 L731.21 272.89 L731.5 272.95 L731.8 273 L732.09 273.05 L732.39 273.1 L732.68 273.16 L732.98 273.21 L733.27 273.26 L733.57 273.31 L733.87 273.37 L734.16 273.42 L734.46 273.47 L734.75 273.53 L735.05 273.58 L735.34 273.63 L735.64 273.69 L735.93 273.74 L736.23 273.79 L736.52 273.85 L736.82 273.9 L737.12 273.95 L737.41 274.01 L737.71 274.06 L738 274.11 L738.3 274.17 L738.59 274.22 L738.89 274.27 L739.18 274.33 L739.48 274.38 L739.77 274.43 L740.07 274.49 L740.36 274.54 L740.66 274.6 L740.95 274.65 L741.25 274.7 L741.55 274.76 L741.84 274.81 L742.14 274.87 L742.43 274.92 L742.73 274.97 L743.02 275.03 L743.32 275.08 L743.61 275.14 L743.91 275.19 L744.2 275.24 L744.5 275.3 L744.79 275.35 L745.09 275.41 L745.38 275.46 L745.68 275.52 L745.97 275.57 L746.27 275.63 L746.56 275.68 L746.86 275.74 L747.15 275.79 L747.45 275.85 L747.74 275.9 L748.04 275.96 L748.33 276.01 L748.63 276.06 L748.92 276.12 L749.22 276.18 L749.51 276.23 L749.81 276.29 L750.1 276.34 L750.4 276.4 L750.69 276.45 L750.99 276.51 L751.28 276.56 L751.58 276.62 L751.87 276.67 L752.17 276.73 L752.46 276.78 L752.76 276.84 L753.05 276.89 L753.35 276.95 L753.64 277.01 L753.94 277.06 L754.23 277.12 L754.53 277.17 L754.82 277.23 L755.12 277.28 L755.41 277.34 L755.71 277.4 L756 277.45 L756.3 277.51 L756.59 277.57 L756.89 277.62 L757.18 277.68 L757.48 277.73 L757.77 277.79 L758.07 277.85 L758.36 277.9 L758.66 277.96 L758.95 278.02 L759.25 278.07 L759.54 278.13 L759.84 278.18 L760.13 278.24 L760.43 278.3 L760.72 278.35 L761.02 278.41 L761.31 278.47 L761.6 278.53 L761.9 278.58 L762.19 278.64 L762.49 278.7 L762.78 278.75 L763.08 278.81 L763.37 278.87 L763.67 278.92 L763.96 278.98 L764.26 279.04 L764.55 279.1 L764.85 279.15 L765.14 279.21 L765.44 279.27 L765.73 279.33 L766.02 279.38 L766.32 279.44 L766.61 279.5 L766.91 279.56 L767.2 279.61 L767.5 279.67 L767.79 279.73 L768.09 279.79 L768.38 279.84 L768.68 279.9 L768.97 279.96 L769.27 280.02 L769.56 280.08 L769.85 280.13 L770.15 280.19 L770.44 280.25 L770.74 280.31 L771.03 280.37 L771.33 280.42 L771.62 280.48 L771.92 280.54 L772.21 280.6 L772.5 280.66 L772.8 280.72 L773.09 280.77 L773.39 280.83 L773.68 280.89 L773.98 280.95 L774.27 281.01 L774.57 281.07 L774.86 281.13 L775.15 281.18 L775.45 281.24 L775.74 281.3 L776.04 281.36 L776.33 281.42 L776.63 281.48 L776.92 281.54 L777.21 281.6 L777.51 281.66 L777.8 281.72 L778.1 281.77 L778.39 281.83 L778.69 281.89 L778.98 281.95 L779.27 282.01 L779.57 282.07 L779.86 282.13 L780.16 282.19 L780.45 282.25 L780.74 282.31 L781.04 282.37 L781.33 282.43 L781.63 282.49 L781.92 282.55 L782.22 282.61 L782.51 282.67 L782.8 282.73 L783.1 282.79 L783.39 282.85 L783.69 282.91 L783.98 282.97 L784.27 283.03 L784.57 283.09" stroke="#000" stroke-width="5.1" fill="none" stroke-linejoin="round"/>
<path d="M153.82 9.98 L154.04 10.24 L153.97 10.56 L154.1 10.84 L154.08 11.15 L154.03 11.47 L154.3 11.72 L154.36 12.01 L154.35 12.32 L154.51 12.6 L154.51 12.9 L154.43 13.22 L154.64 13.49 L154.58 13.81 L154.65 14.1 L155.05 14.33 L155 14.64 L154.87 14.97 L154.83 15.29 L155 15.56 L155.07 15.85 L155.22 16.13 L155.17 16.44 L155.27 16.73 L155.19 17.05 L155.2 17.36 L155.39 17.62 L155.75 17.85 L155.54 18.21 L155.51 18.52 L155.69 18.79 L155.54 19.13 L155.89 19.36 L156.05 19.63 L155.8 19.99 L156.06 20.24 L156.17 20.53 L156.15 20.84 L156.31 21.11 L156.28 21.42 L156.4 21.71 L156.42 22.01 L156.3 22.34 L156.64 22.57 L156.51 22.91 L156.54 23.21 L156.75 23.47 L156.94 23.74 L156.74 24.09 L156.75 24.39 L157.03 24.64 L157.1 24.93 L157.15 25.23 L157.14 25.54 L157.21 25.83 L157.34 26.11 L157.25 26.44 L157.36 26.72 L157.55 26.98 L157.37 27.33 L157.51 27.61 L157.43 27.94 L157.86 28.14 L157.6 28.52 L157.95 28.74 L158.05 29.02 L158.07 29.33 L158.43 29.55 L158.07 29.95 L158.17 30.23 L158.5 30.46 L158.48 30.77 L158.28 31.13 L158.6 31.36 L158.69 31.65 L158.61 31.98 L158.82 32.23 L159.07 32.48 L159.04 32.8 L159.31 33.04 L159.22 33.37 L159.2 33.68 L159.31 33.97 L159.39 34.26 L159.77 34.47 L159.46 34.86 L159.41 35.18 L159.7 35.42 L159.88 35.68 L159.59 36.07 L160.04 36.26 L159.77 36.64 L160.23 36.83 L160.3 37.12 L160.34 37.42 L160.03 37.82 L160.07 38.12 L160.71 38.25 L160.35 38.66 L160.36 38.97 L161.03 39.1 L160.83 39.46 L160.99 39.73 L160.58 40.16 L161.16 40.3 L161.51 40.52 L161.39 40.86 L161.08 41.26 L161.55 41.44 L161.16 41.87 L161.39 42.11 L161.35 42.44 L161.82 42.61 L161.61 42.99 L161.96 43.2 L161.96 43.51 L162.08 43.79 L161.92 44.15 L162.24 44.37 L161.8 44.81 L162.64 44.87 L162.41 45.25 L162.38 45.58 L162.68 45.8 L162.17 46.27 L162.73 46.41 L162.59 46.77 L162.76 47.03 L162.97 47.28 L163.37 47.47 L163.48 47.75 L163.55 48.04 L163.41 48.4 L163.49 48.69 L163.28 49.07 L164.03 49.15 L164.02 49.46 L163.63 49.9 L163.62 50.23 L163.97 50.43 L164.12 50.69 L163.76 51.13 L164.35 51.25 L164.44 51.54 L164.26 51.91 L164.31 52.21 L164.84 52.35 L164.45 52.8 L164.96 52.94 L164.78 53.32 L164.96 53.58 L165.5 53.71 L165.13 54.16 L165.46 54.36 L165.57 54.64 L165.68 54.92 L165.65 55.25 L165.95 55.46 L166.01 55.76 L166.09 56.04 L165.8 56.47 L166.17 56.65 L166.47 56.87 L165.97 57.36 L166.39 57.53 L166.67 57.75 L166.9 57.99 L166.83 58.33 L166.53 58.76 L167.11 58.87 L167.26 59.13 L167.35 59.42 L167.08 59.84 L167.11 60.15 L167.39 60.36 L167.41 60.67 L167.96 60.79 L167.72 61.2 L168.32 61.3 L167.91 61.77 L168.6 61.83 L168.72 62.11 L168.42 62.54 L168.51 62.83 L168.44 63.18 L168.9 63.32 L168.44 63.82 L169.29 63.81 L168.89 64.29 L169.03 64.56 L169.3 64.77 L169.58 64.98 L169.33 65.41 L169.49 65.67 L169.87 65.84 L169.53 66.3 L169.22 66.75 L170.2 66.68 L169.77 67.18 L169.86 67.46 L170.28 67.62 L170.12 68.01 L170.29 68.26 L170.6 68.46 L170.52 68.82 L171.07 68.91 L171.28 69.15 L171.3 69.46 L171.33 69.78 L170.9 70.29 L172.04 70.13 L171.41 70.72 L171.92 70.83 L171.68 71.26 L171.66 71.6 L172.2 71.69 L172.11 72.06 L172.01 72.43 L172.5 72.54 L172.86 72.71 L172.72 73.1 L172.64 73.47 L172.98 73.64 L173.27 73.84 L172.88 74.34 L173.39 74.44 L173.71 74.63 L173.88 74.88 L173.84 75.23 L173.62 75.66 L173.94 75.84 L174 76.15 L174.3 76.33 L174.36 76.64 L174.14 77.07 L174.54 77.22 L174.7 77.47 L174.69 77.81 L175.21 77.9 L175.24 78.21 L175.53 78.41 L175.27 78.86 L175.29 79.19 L175.48 79.43 L175.6 79.71 L176.17 79.76 L176.07 80.15 L175.81 80.61 L176.15 80.78 L176.04 81.17 L176.4 81.32 L176.23 81.75 L176.96 81.71 L177.31 81.87 L177.4 82.16 L177.46 82.47 L177.42 82.82 L177.61 83.06 L177.5 83.46 L177.79 83.65 L177.78 83.99 L177.69 84.38 L178.16 84.47 L178.78 84.48 L178.36 85.04 L178.43 85.35 L178.46 85.67 L178.79 85.83 L178.93 86.1 L179.12 86.34 L179.09 86.7 L179.1 87.03 L180.02 86.87 L179.79 87.34 L179.78 87.69 L180.25 87.77 L180.02 88.25 L180.17 88.5 L180.34 88.75 L180.49 89.02 L180.76 89.21 L180.95 89.44 L181.05 89.73 L181.2 89.99 L181.3 90.28 L181.4 90.57 L181.79 90.69 L181.83 91.01 L181.96 91.29 L182.31 91.43 L182.26 91.81 L182.44 92.05 L182.8 92.19 L182.71 92.59 L182.89 92.83 L183.5 92.81 L183.28 93.3 L183.48 93.52 L183.8 93.68 L183.84 94.01 L183.62 94.5 L183.61 94.85 L184.17 94.86 L184.31 95.13 L184.66 95.26 L184.88 95.48 L184.87 95.84 L185.03 96.09 L184.96 96.49 L184.82 96.94 L185.51 96.85 L185.67 97.11 L185.52 97.56 L186.17 97.5 L185.57 98.24 L186.03 98.3 L186.3 98.48 L186.43 98.76 L186.59 99.02 L186.94 99.14 L187.01 99.46 L187.04 99.8 L187.24 100.02 L187.77 100.03 L187.81 100.36 L187.87 100.69 L188.22 100.81 L188.13 101.24 L188.62 101.27 L188.59 101.65 L188.66 101.97 L188.98 102.11 L188.99 102.47 L189.47 102.5 L189.36 102.94 L189.28 103.36 L189.57 103.53 L189.45 103.98 L190.43 103.65 L190.24 104.16 L190.43 104.39 L190.43 104.76 L190.61 105 L191.16 104.98 L191.07 105.41 L191.5 105.47 L191.61 105.76 L191.75 106.03 L191.89 106.3 L192.39 106.3 L192 106.97 L192.67 106.84 L192.54 107.31 L192.65 107.6 L192.89 107.8 L192.91 108.16 L193.39 108.18 L193.45 108.51 L193.7 108.69 L193.67 109.09 L194.26 109.02 L194.19 109.45 L194.19 109.83 L194.09 110.28 L194.49 110.35 L195.16 110.22 L195.23 110.54 L195.08 111.04 L195.6 111.02 L195.85 111.2 L195.72 111.68 L195.99 111.85 L196.25 112.03 L196.21 112.45 L196.9 112.28 L197.13 112.48 L196.71 113.2 L197.49 112.96 L197.44 113.38 L197.72 113.54 L197.76 113.9 L198.11 114 L198.11 114.38 L198.11 114.77 L198.4 114.92 L198.71 115.05 L199.03 115.19 L198.88 115.7 L199.71 115.4 L199.83 115.69 L199.67 116.21 L199.91 116.4 L199.77 116.91 L200.01 117.1 L200.72 116.9 L200.71 117.3 L201.09 117.37 L200.79 118.01 L201.35 117.94 L201.41 118.28 L201.57 118.53 L201.46 119.02 L201.8 119.13 L202.32 119.08 L202.28 119.51 L202.29 119.89 L202.97 119.7 L203.02 120.06 L202.71 120.72 L203.03 120.84 L203.41 120.91 L203.66 121.09 L203.83 121.34 L204.17 121.44 L204.6 121.47 L204.13 122.27 L204.66 122.21 L205.06 122.26 L204.9 122.8 L205.46 122.71 L205.17 123.36 L205.61 123.37 L205.83 123.58 L206.34 123.52 L206.23 124.03 L206.23 124.44 L206.55 124.55 L206.95 124.59 L207.05 124.91 L207.3 125.08 L207.41 125.39 L207.61 125.61 L207.98 125.68 L207.91 126.15 L208.15 126.34 L208.48 126.45 L208.69 126.66 L208.91 126.86 L209.15 127.05 L209.49 127.15 L209.64 127.41 L209.78 127.69 L209.59 128.28 L210.35 127.98 L210.45 128.3 L210.5 128.67 L210.6 128.99 L210.97 129.05 L211.28 129.17 L211.59 129.29 L211.62 129.67 L211.66 130.05 L211.92 130.21 L212.08 130.47 L212.3 130.68 L212.46 130.94 L212.8 131.04 L213.3 130.97 L212.99 131.69 L213.18 131.92 L213.56 131.97 L214.23 131.74 L214.25 132.14 L213.94 132.86 L214.16 133.06 L214.78 132.88 L214.85 133.23 L215.28 133.22 L215.16 133.76 L215.55 133.8 L215.89 133.89 L216.27 133.93 L216 134.62 L216.51 134.54 L216.55 134.92 L216.5 135.4 L216.97 135.35 L216.91 135.84 L217.13 136.05 L217.52 136.08 L217.71 136.31 L218.02 136.43 L218.29 136.58 L218.73 136.56 L218.53 137.19 L218.97 137.17 L219.19 137.38 L219.25 137.75 L219.77 137.64 L219.81 138.03 L219.93 138.34 L220.36 138.32 L220.44 138.68 L220.8 138.73 L220.89 139.07 L221.22 139.16 L221.51 139.29 L221.6 139.63 L221.73 139.94 L222.07 140.01 L222.35 140.14 L222.56 140.36 L222.73 140.61 L222.87 140.91 L223.06 141.15 L223.15 141.49 L223.64 141.4 L223.57 141.93 L224.19 141.69 L224.61 141.67 L224.68 142.04 L224.62 142.55 L225 142.58 L225.2 142.8 L225.1 143.38 L225.73 143.1 L225.96 143.3 L225.88 143.85 L226.2 143.94 L226.42 144.15 L226.74 144.23 L226.55 144.92 L227.24 144.57 L227.76 144.43 L227.87 144.75 L228.08 144.97 L228.27 145.21 L228.37 145.56 L228.84 145.46 L228.43 146.43 L228.72 146.55 L229.67 145.87 L229.69 146.31 L229.39 147.16 L230.18 146.66 L230.08 147.27 L230.43 147.3 L230.26 148 L230.91 147.67 L231.75 147.08 L231.41 148 L231.61 148.23 L231.23 149.21 L231.94 148.78 L232.6 148.42 L232.35 149.24 L233.35 148.42 L233.44 148.8 L232.92 149.98 L233.01 150.37 L233.69 149.95 L233.36 150.9 L233.67 150.99 L234.15 150.86 L234.71 150.6 L235.08 150.6 L235.47 150.58 L235.84 150.58 L235.7 151.28 L236.06 151.29 L236.28 151.49 L236.17 152.17 L236.5 152.22 L237.19 151.77 L237.47 151.89 L237.49 152.38 L237.53 152.85 L237.79 153 L239.08 151.66 L238.16 153.52 L238.5 153.56 L238.5 154.09 L238.69 154.35 L239.12 154.25 L239.55 154.15 L239.66 154.53 L239.87 154.76 L239.94 155.19 L240.46 154.95 L240.76 155.05 L240.9 155.38 L241.35 155.23 L241.48 155.6 L241.94 155.42 L242.31 155.42 L242.53 155.62 L242.84 155.69 L243.25 155.61 L242.98 156.59 L243.25 156.72 L243.9 156.26 L244.29 156.19 L244.08 157.1 L244.41 157.13 L244.6 157.4 L244.5 158.15 L245.13 157.69 L245.53 157.61 L246.05 157.33 L245.23 159.28 L246.53 157.69 L245.76 159.57 L246.09 159.6 L247.2 158.32 L247.07 159.12 L247.74 158.57 L248.06 158.62 L248 159.32 L248.49 159.07 L248.91 158.95 L248.56 160.16 L249.14 159.74 L248.93 160.73 L249.69 160 L249.77 160.47 L250.44 159.87 L250.37 160.61 L250.48 161.03 L250.46 161.7 L251.06 161.23 L251.45 161.14 L251.74 161.24 L252.45 160.55 L251.94 162.13 L252.38 161.95 L252.49 162.37 L253.51 161.1 L253 162.71 L253.3 162.78 L253.78 162.51 L254.31 162.14 L253.85 163.67 L254.29 163.48 L255.04 162.69 L255.51 162.43 L255.36 163.38 L255.76 163.26 L255.82 163.8 L256.55 163.03 L256.43 163.92 L256.66 164.13 L256.86 164.4 L257.74 163.32 L257.37 164.73 L257.5 165.15 L257.87 165.09 L258.31 164.87 L258.45 165.26 L258.76 165.31 L258.6 166.33 L259.48 165.19 L259.69 165.45 L259.97 165.57 L260.16 165.86 L260.93 164.94 L260.9 165.71 L261.17 165.84 L260.9 167.12 L261.67 166.17 L261.35 167.57 L261.65 167.65 L262.48 166.58 L262.68 166.87 L262.21 168.6 L263.95 165.51 L263.71 166.76 L264.1 166.63 L264.48 166.51 L264.64 166.9 L264.69 167.5 L264.33 169.05 L264.97 168.36 L265.51 167.89 L265.67 168.26 L266.2 167.78 L265.97 169.07 L266.59 168.4 L266.36 169.69 L267.12 168.68 L267.6 168.33 L267.88 168.43 L267.6 169.86 L267.98 169.74 L268.17 170.04 L268.41 170.25 L268.98 169.68 L268.96 170.49 L269.38 170.29 L269.67 170.35 L270.16 169.96 L270.33 170.34 L271 169.5 L270.99 170.32 L271.02 171.02 L271.48 170.71 L271.95 170.34 L272.17 170.58 L271.81 172.29 L272.36 171.73 L272.67 171.77 L273.24 171.15 L273.31 171.78 L273.81 171.35 L274.08 171.47 L274.36 171.56 L274.91 170.98 L274.58 172.67 L275.41 171.34 L275.03 173.16 L275.54 172.69 L275.87 172.67 L276.38 172.18 L276.39 172.99 L277.13 171.89 L276.9 173.35 L277.39 172.88 L277.3 173.99 L277.93 173.16 L277.95 173.96 L278.45 173.49 L278.69 173.71 L279.07 173.52 L279.34 173.68 L279.66 173.68 L280.04 173.5 L279.88 174.82 L279.94 175.55 L280.87 173.84 L280.78 174.99 L281.57 173.67 L281.91 173.6 L281.87 174.61 L281.82 175.65 L282.42 174.87 L282.63 175.18 L283.15 174.58 L283.69 173.95 L283.22 176.22 L283.89 175.19 L283.98 175.87 L284.36 175.69 L284.75 175.48 L285 175.65 L285.43 175.33 L285.37 176.43 L285.95 175.66 L286.09 176.19 L286.24 176.69 L286.79 176 L286.83 176.82 L287.12 176.91 L287.76 175.92 L287.96 176.27 L288.21 176.48 L288.22 177.39 L288.82 176.55 L288.92 177.2 L289.56 176.19 L289.67 176.84 L289.62 177.94 L290.03 177.68 L290.17 178.23 L290.76 177.34 L290.9 177.89 L291.48 177.08 L291.65 177.54 L291.9 177.71 L291.8 179.06 L292.45 177.99 L292.67 178.28 L292.96 178.36 L293.39 177.98 L293.59 178.34 L293.85 178.51 L294.09 178.76 L294.53 178.36 L294.78 178.57 L294.99 178.9 L295.25 179.07 L295.46 179.42 L295.84 179.21 L296.04 179.57 L296.43 179.31 L296.63 179.71 L296.89 179.89 L297.16 180.02 L297.58 179.67 L297.89 179.69 L298.12 179.96 L298.49 179.76 L298.72 180.06 L299.03 180.05 L299.27 180.3 L299.49 180.64 L299.91 180.27 L300.08 180.74 L300.38 180.78 L300.67 180.89 L300.93 181.07 L301.23 181.09 L301.47 181.35 L301.92 180.86 L302.17 181.09 L302.39 181.43 L302.7 181.42 L302.97 181.59 L303.34 181.36 L303.65 181.35 L303.83 181.83 L304.27 181.39 L304.47 181.78 L304.72 181.99 L304.98 182.2 L305.46 181.58 L305.52 182.51 L305.91 182.22 L306.27 182.03 L306.49 182.37 L306.85 182.19 L307.26 181.8 L307.28 182.91 L307.69 182.53 L307.9 182.9 L308.38 182.27 L308.54 182.84 L308.93 182.52 L309.11 183.03 L309.39 183.12 L309.61 183.5 L310.08 182.87 L310.28 183.28 L310.69 182.91 L310.67 184.16 L311.11 183.68 L311.54 183.23 L311.91 182.99 L312 183.83 L312.28 183.95 L312.6 183.9 L312.86 184.1 L313.25 183.78 L313.49 184.06 L313.91 183.65 L314.15 183.92 L314.27 184.65 L314.74 184.02 L314.99 184.27 L315.19 184.71 L315.55 184.48 L315.72 185.05 L316.17 184.49 L316.36 184.95 L316.66 185.01 L316.96 185.04 L317.32 184.84 L317.58 185.04 L317.9 185.01 L318.1 185.44 L318.31 185.82 L318.76 185.25 L319.08 185.23 L319.3 185.56 L319.64 185.46 L319.87 185.79 L320.25 185.5 L320.46 185.89 L320.73 186.07 L321.08 185.89 L321.41 185.8 L321.54 186.52 L322.03 185.78 L322.29 185.99 L322.45 186.61 L322.77 186.54 L323.01 186.83 L323.4 186.51 L323.69 186.58 L324.02 186.49 L324.15 187.22 L324.49 187.11 L324.84 186.93 L325.04 187.39 L325.4 187.18 L325.67 187.35 L326.08 186.93 L326.41 186.82 L326.45 187.94 L326.9 187.36 L327.09 187.83 L327.5 187.42 L327.75 187.66 L328 187.91 L328.22 188.29 L328.64 187.83 L328.92 187.95 L329.24 187.89 L329.51 188.05 L329.75 188.33 L330.07 188.31 L330.38 188.3 L330.67 188.37 L331.15 187.68 L331.15 188.93 L331.54 188.59 L331.85 188.58 L332.17 188.55 L332.39 188.91 L332.7 188.89 L333.01 188.92 L333.34 188.81 L333.73 188.48 L333.96 188.82 L334.28 188.77 L334.56 188.88 L334.71 189.53 L335.09 189.23 L335.35 189.45 L335.57 189.82 L335.86 189.9 L336.2 189.78 L336.52 189.72 L336.86 189.59 L337.09 189.9 L337.37 190.02 L337.65 190.13 L338.03 189.84 L338.27 190.14 L338.47 190.59 L338.89 190.13 L339.11 190.51 L339.55 189.98 L339.72 190.54 L339.94 190.87 L340.28 190.75 L340.63 190.59 L340.89 190.79 L341.13 191.06 L341.51 190.79 L341.84 190.7 L342.04 191.14 L342.3 191.36 L342.75 190.8 L342.92 191.33 L343.3 191.04 L343.35 192.09 L343.75 191.72 L344.13 191.44 L344.25 192.19 L344.62 191.95 L344.91 192.05 L345.36 191.48 L345.52 192.09 L345.76 192.34 L346.14 192.07 L346.51 191.86 L346.86 191.67 L347.04 192.2 L347.18 192.87 L347.61 192.38 L347.89 192.49 L348.33 192 L348.5 192.54 L348.73 192.86 L348.99 193.06 L349.42 192.57 L349.56 193.22 L349.91 193.07 L350.08 193.63 L350.47 193.3 L350.74 193.46 L350.93 193.94 L351.39 193.35 L351.72 193.28 L351.92 193.69 L352.12 194.12 L352.59 193.52 L352.79 193.92 L353.14 193.77 L353.28 194.43 L353.79 193.68 L354.14 193.54 L354.2 194.46 L354.53 194.41 L354.83 194.45 L355.29 193.88 L355.36 194.79 L355.8 194.31 L356.02 194.64 L356.38 194.46 L356.68 194.49 L356.93 194.74 L357.15 195.07 L357.4 195.3 L357.81 194.92 L357.98 195.45 L358.25 195.57 L358.71 195.06 L359 195.11 L359.27 195.26 L359.57 195.31 L359.81 195.56 L360.09 195.68 L360.35 195.89 L360.66 195.88 L360.98 195.85 L361.2 196.16 L361.48 196.3 L361.85 196.08 L362.11 196.27 L362.22 196.96 L362.56 196.88 L362.86 196.93 L363.22 196.75 L363.42 197.15 L363.77 197.01 L364.19 196.66 L364.33 197.24 L364.79 196.73 L365.11 196.73 L365.2 197.47 L365.71 196.81 L365.82 197.5 L366.03 197.84 L366.39 197.68 L366.78 197.41 L366.99 197.77 L367.18 198.17 L367.52 198.1 L367.9 197.89 L368.07 198.33 L368.44 198.17 L368.67 198.42 L368.96 198.52 L369.27 198.52 L369.51 198.78 L369.86 198.64 L369.97 199.31 L370.54 198.49 L370.55 199.45 L371.12 198.65 L371.19 199.41 L371.63 199.04 L371.66 199.9 L371.99 199.88 L372.43 199.5 L372.58 199.98 L372.98 199.73 L373.36 199.55 L373.62 199.71 L373.86 199.93 L374.11 200.13 L374.54 199.81 L374.78 200.05 L374.9 200.62 L375.26 200.5 L375.57 200.52 L375.83 200.7 L375.96 201.19 L376.38 200.92 L376.5 201.46 L376.9 201.24 L377.25 201.17 L377.46 201.48 L377.72 201.62 L378.09 201.5 L378.32 201.73 L378.8 201.34 L378.95 201.78 L378.96 202.55 L379.53 201.94 L379.72 202.27 L379.96 202.48 L380.17 202.74 L380.63 202.44 L380.84 202.71 L381.27 202.48 L381.37 202.98 L381.59 203.23 L381.94 203.19 L382.23 203.29 L382.45 203.52 L382.69 203.71 L382.96 203.83 L383.33 203.77 L383.39 204.33 L383.84 204.09 L383.94 204.56 L384.39 204.32 L384.51 204.75 L384.83 204.79 L385.14 204.84 L385.56 204.68 L385.6 205.25 L385.9 205.33 L386.16 205.46 L386.32 205.81 L386.79 205.57 L387.13 205.59 L387.29 205.9 L387.64 205.91 L387.83 206.17 L388.01 206.45 L388.51 206.2 L388.51 206.79 L388.8 206.89 L388.99 207.16 L389.34 207.16 L389.68 207.17 L389.85 207.47 L390.06 207.72 L390.38 207.76 L390.62 207.94 L390.87 208.12 L391.12 208.28 L391.52 208.16 L391.69 208.49 L392.01 208.53 L392.26 208.7 L392.59 208.7 L392.85 208.84 L393.11 209 L393.4 209.09 L393.69 209.17 L393.96 209.32 L394.26 209.36 L394.55 209.43 L394.84 209.49 L395.14 209.55 L395.43 209.59 L395.73 209.62 L396.03 209.65 L396.33 209.66 L396.63 209.67 L396.93 209.67 L397.23 209.65 L397.53 209.63 L397.83 209.6 L398.13 209.56 L398.42 209.51 L398.72 209.45 L399.01 209.39 L399.3 209.32 L399.59 209.24 L399.88 209.16 L400.17 209.07 L400.45 208.98 L400.74 208.88 L401.02 208.77 L401.3 208.66 L401.57 208.55 L401.85 208.43 L402.12 208.3 L402.4 208.18 L402.67 208.05 L402.94 207.92 L403.21 207.78 L403.47 207.65 L403.74 207.51 L404 207.37 L404.27 207.22 L404.53 207.08 L404.79 206.94 L405.06 206.79 L405.32 206.64 L405.58 206.5 L405.84 206.35 L406.1 206.2 L406.36 206.05 L406.63 205.91 L406.89 205.76 L407.15 205.62 L407.41 205.47 L407.68 205.33 L407.94 205.18 L408.21 205.04 L408.47 204.9 L408.74 204.77 L409.01 204.63 L409.27 204.5 L409.54 204.36 L409.81 204.23 L410.08 204.1 L410.35 203.97 L410.62 203.84 L410.9 203.71 L411.17 203.58 L411.44 203.46 L411.71 203.34 L411.99 203.21 L412.26 203.09 L412.54 202.97 L412.81 202.85 L413.09 202.73 L413.36 202.61 L413.64 202.49 L413.91 202.37 L414.19 202.26 L414.47 202.14 L414.75 202.03 L415.02 201.91 L415.3 201.8 L415.58 201.68 L415.86 201.57 L416.13 201.46 L416.41 201.34 L416.69 201.23 L416.97 201.12 L417.25 201.01 L417.53 200.9 L417.8 200.79 L418.08 200.68 L418.36 200.57 L418.64 200.46 L418.92 200.35 L419.2 200.24 L419.49 200.14 L419.77 200.03 L420.05 199.93 L420.33 199.83 L420.61 199.73 L420.9 199.63 L421.18 199.53 L421.46 199.43 L421.75 199.33 L422.03 199.24 L422.32 199.15 L422.61 199.06 L422.89 198.97 L423.18 198.88 L423.47 198.8 L423.76 198.71 L424.04 198.63 L424.33 198.56 L424.62 198.48 L424.92 198.41 L425.21 198.33 L425.5 198.26 L425.79 198.2 L426.09 198.14 L426.38 198.07 L426.67 198.02 L426.97 197.96 L427.26 197.91 L427.56 197.86 L427.86 197.82 L428.15 197.78 L428.45 197.74 L428.75 197.7 L429.05 197.67 L429.35 197.65 L429.65 197.62 L429.95 197.6 L430.25 197.59 L430.55 197.58 L430.85 197.57 L431.15 197.57 L431.45 197.57 L431.75 197.58 L432.05 197.59 L432.35 197.61 L432.65 197.63 L432.95 197.66 L433.24 197.69 L433.54 197.72 L433.84 197.77 L434.14 197.81 L434.43 197.86 L434.73 197.92 L435.02 197.98 L435.31 198.04 L435.61 198.11 L435.9 198.18 L436.19 198.26 L436.48 198.34 L436.76 198.43 L437.05 198.52 L437.34 198.61 L437.62 198.7 L437.91 198.8 L438.19 198.9 L438.47 199 L438.75 199.1 L439.03 199.21 L439.31 199.32 L439.59 199.43 L439.87 199.54 L440.15 199.65 L440.43 199.77 L440.7 199.89 L440.98 200 L441.26 200.12 L441.53 200.24 L441.81 200.36 L442.08 200.48 L442.36 200.6 L442.63 200.72 L442.91 200.84 L443.18 200.96 L443.46 201.08 L443.73 201.2 L444.01 201.32 L444.28 201.44 L444.56 201.56 L444.84 201.67 L445.11 201.79 L445.39 201.9 L445.67 202.02 L445.95 202.13 L446.23 202.24 L446.51 202.35 L446.79 202.45 L447.07 202.56 L447.35 202.66 L447.63 202.76 L447.92 202.86 L448.2 202.96 L448.48 203.05 L448.77 203.15 L449.06 203.24 L449.34 203.33 L449.63 203.42 L449.92 203.5 L450.2 203.59 L450.49 203.68 L450.78 203.76 L451.07 203.84 L451.36 203.93 L451.64 204.01 L451.93 204.09 L452.22 204.17 L452.51 204.25 L452.8 204.33 L453.09 204.4 L453.38 204.48 L453.67 204.56 L453.96 204.64 L454.25 204.71 L454.54 204.79 L454.83 204.87 L455.12 204.94 L455.41 205.02 L455.7 205.1 L455.99 205.17 L456.28 205.25 L456.57 205.33 L456.86 205.41 L457.15 205.49 L457.44 205.56 L457.73 205.64 L458.02 205.72 L458.31 205.8 L458.6 205.89 L458.89 205.97 L459.18 206.05 L459.47 206.13 L459.75 206.21 L460.04 206.3 L460.33 206.38 L460.62 206.46 L460.91 206.54 L461.2 206.63 L461.48 206.71 L461.77 206.8 L462.06 206.88 L462.35 206.97 L462.64 207.05 L462.92 207.13 L463.21 207.22 L463.5 207.3 L463.79 207.39 L464.08 207.47 L464.36 207.56 L464.65 207.64 L464.94 207.73 L465.23 207.81 L465.52 207.9 L465.8 207.98 L466.09 208.07 L466.38 208.15 L466.67 208.24 L466.96 208.32 L467.24 208.41 L467.53 208.49 L467.82 208.57 L468.11 208.66 L468.4 208.74 L468.68 208.83 L468.97 208.91 L469.26 208.99 L469.55 209.07 L469.84 209.16 L470.13 209.24 L470.42 209.32 L470.71 209.4 L471 209.48 L471.28 209.56 L471.57 209.64 L471.86 209.72 L472.15 209.8 L472.44 209.88 L472.73 209.96 L473.02 210.03 L473.31 210.11 L473.6 210.19 L473.89 210.26 L474.18 210.34 L474.47 210.42 L474.76 210.49 L475.05 210.57 L475.35 210.64 L475.64 210.72 L475.93 210.79 L476.22 210.86 L476.51 210.94 L476.8 211.01 L477.09 211.08 L477.38 211.15 L477.67 211.23 L477.97 211.3 L478.26 211.37 L478.55 211.44 L478.84 211.51 L479.13 211.58 L479.42 211.65 L479.72 211.72 L480.01 211.79 L480.3 211.86 L480.59 211.93 L480.88 212 L481.18 212.06 L481.47 212.13 L481.76 212.2 L482.05 212.27 L482.35 212.33 L482.64 212.4 L482.93 212.47 L483.23 212.53 L483.52 212.6 L483.81 212.67 L484.1 212.73 L484.4 212.8 L484.69 212.86 L484.98 212.93 L485.28 212.99 L485.57 213.06 L485.86 213.12 L486.16 213.18 L486.45 213.25 L486.74 213.31 L487.04 213.37 L487.33 213.44 L487.62 213.5 L487.92 213.56 L488.21 213.63 L488.5 213.69 L488.8 213.75 L489.09 213.81 L489.38 213.88 L489.68 213.94 L489.97 214 L490.27 214.06 L490.56 214.12 L490.85 214.18 L491.15 214.24 L491.44 214.3 L491.73 214.37 L492.03 214.43 L492.32 214.49 L492.62 214.55 L492.91 214.61 L493.2 214.67 L493.5 214.73 L493.79 214.79 L494.09 214.85 L494.38 214.91 L494.68 214.97 L494.97 215.03 L495.26 215.09 L495.56 215.15 L495.85 215.21 L496.15 215.26 L496.44 215.32 L496.73 215.38 L497.03 215.44 L497.32 215.5 L497.62 215.56 L497.91 215.62 L498.21 215.68 L498.5 215.74 L498.79 215.8 L499.09 215.86 L499.38 215.91 L499.68 215.97 L499.97 216.03 L500.27 216.09 L500.56 216.15 L500.86 216.21 L501.15 216.27 L501.44 216.33 L501.74 216.38 L502.03 216.44 L502.33 216.5 L502.62 216.56 L502.92 216.62 L503.21 216.68 L503.5 216.74 L503.8 216.8 L504.09 216.86 L504.39 216.92 L504.68 216.98 L504.98 217.03 L505.27 217.09 L505.56 217.15 L505.86 217.21 L506.15 217.27 L506.45 217.33 L506.74 217.39 L507.03 217.45 L507.33 217.51 L507.62 217.57 L507.92 217.63 L508.21 217.69 L508.5 217.75 L508.8 217.81 L509.09 217.87 L509.39 217.93 L509.68 218 L509.97 218.06 L510.27 218.12 L510.56 218.18 L510.86 218.24 L511.15 218.3 L511.44 218.36 L511.74 218.43 L512.03 218.49 L512.32 218.55 L512.62 218.61 L512.91 218.67 L513.21 218.74 L513.5 218.8 L513.79 218.86 L514.09 218.93 L514.38 218.99 L514.67 219.05 L514.97 219.12 L515.26 219.18 L515.55 219.25 L515.85 219.31 L516.14 219.38 L516.43 219.44 L516.72 219.51 L517.02 219.57 L517.31 219.64 L517.6 219.7 L517.9 219.77 L518.19 219.84 L518.48 219.9 L518.77 219.97 L519.07 220.04 L519.36 220.11 L519.65 220.17 L519.94 220.24 L520.24 220.31 L520.53 220.38 L520.82 220.45 L521.11 220.52 L521.4 220.59 L521.7 220.66 L521.99 220.73 L522.28 220.8 L522.57 220.87 L522.86 220.94 L523.15 221.01 L523.45 221.08 L523.74 221.16 L524.03 221.23 L524.32 221.3 L524.61 221.37 L524.9 221.45 L525.19 221.52 L525.48 221.6 L525.77 221.67 L526.06 221.75 L526.35 221.82 L526.65 221.9 L526.94 221.97 L527.23 222.05 L527.52 222.13 L527.81 222.2 L528.1 222.28 L528.39 222.36 L528.68 222.44 L528.96 222.52 L529.25 222.6 L529.54 222.68 L529.83 222.76 L530.12 222.84 L530.41 222.92 L530.7 223 L530.99 223.08 L531.28 223.16 L531.57 223.24 L531.86 223.33 L532.14 223.41 L532.43 223.49 L532.72 223.58 L533.01 223.66 L533.3 223.74 L533.58 223.83 L533.87 223.91 L534.16 224 L534.45 224.09 L534.74 224.17 L535.02 224.26 L535.31 224.34 L535.6 224.43 L535.88 224.52 L536.17 224.61 L536.46 224.7 L536.74 224.78 L537.03 224.87 L537.32 224.96 L537.6 225.05 L537.89 225.14 L538.18 225.23 L538.46 225.32 L538.75 225.42 L539.04 225.51 L539.32 225.6 L539.61 225.69 L539.89 225.78 L540.18 225.88 L540.46 225.97 L540.75 226.06 L541.03 226.16 L541.32 226.25 L541.6 226.35 L541.89 226.44 L542.17 226.54 L542.46 226.63 L542.74 226.73 L543.03 226.82 L543.31 226.92 L543.59 227.02 L543.88 227.11 L544.16 227.21 L544.45 227.31 L544.73 227.41 L545.01 227.51 L545.3 227.61 L545.58 227.7 L545.86 227.8 L546.15 227.9 L546.43 228 L546.71 228.11 L546.99 228.21 L547.28 228.31 L547.56 228.41 L547.84 228.51 L548.12 228.61 L548.41 228.72 L548.69 228.82 L548.97 228.92 L549.25 229.02 L549.53 229.13 L549.81 229.23 L550.1 229.34 L550.38 229.44 L550.66 229.55 L550.94 229.65 L551.22 229.76 L551.5 229.86 L551.78 229.97 L552.06 230.08 L552.34 230.18 L552.62 230.29 L552.9 230.4 L553.18 230.5 L553.46 230.61 L553.74 230.72 L554.02 230.83 L554.3 230.94 L554.58 231.04 L554.86 231.15 L555.14 231.26 L555.42 231.37 L555.7 231.48 L555.98 231.59 L556.26 231.7 L556.54 231.8 L556.82 231.91 L557.1 232.02 L557.38 232.13 L557.66 232.24 L557.94 232.34 L558.22 232.45 L558.5 232.56 L558.78 232.67 L559.06 232.77 L559.35 232.88 L559.63 232.99 L559.91 233.09 L560.19 233.2 L560.47 233.3 L560.75 233.41 L561.03 233.51 L561.31 233.62 L561.59 233.72 L561.88 233.83 L562.16 233.93 L562.44 234.03 L562.72 234.13 L563 234.23 L563.29 234.34 L563.57 234.44 L563.85 234.54 L564.14 234.63 L564.42 234.73 L564.7 234.83 L564.99 234.93 L565.27 235.02 L565.56 235.12 L565.84 235.22 L566.13 235.31 L566.41 235.4 L566.7 235.49 L566.98 235.59 L567.27 235.68 L567.56 235.77 L567.84 235.86 L568.13 235.94 L568.42 236.03 L568.7 236.12 L568.99 236.2 L569.28 236.29 L569.57 236.37 L569.86 236.45 L570.15 236.53 L570.44 236.61 L570.73 236.69 L571.02 236.76 L571.31 236.84 L571.6 236.91 L571.89 236.99 L572.18 237.06 L572.47 237.13 L572.76 237.2 L573.06 237.27 L573.35 237.33 L573.64 237.4 L573.94 237.46 L574.23 237.52 L574.52 237.59 L574.82 237.64 L575.11 237.7 L575.41 237.76 L575.7 237.81 L576 237.87 L576.29 237.92 L576.59 237.97 L576.89 238.02 L577.18 238.06 L577.48 238.11 L577.77 238.16 L578.07 238.2 L578.37 238.24 L578.67 238.29 L578.96 238.33 L579.26 238.37 L579.56 238.41 L579.86 238.45 L580.15 238.48 L580.45 238.52 L580.75 238.55 L581.05 238.59 L581.35 238.62 L581.64 238.66 L581.94 238.69 L582.24 238.72 L582.54 238.75 L582.84 238.79 L583.14 238.82 L583.44 238.85 L583.73 238.88 L584.03 238.91 L584.33 238.94 L584.63 238.96 L584.93 238.99 L585.23 239.02 L585.53 239.05 L585.83 239.08 L586.12 239.11 L586.42 239.13 L586.72 239.16 L587.02 239.19 L587.32 239.22 L587.62 239.25 L587.92 239.28 L588.22 239.3 L588.51 239.33 L588.81 239.36 L589.11 239.39 L589.41 239.42 L589.71 239.45 L590.01 239.48 L590.31 239.51 L590.61 239.54 L590.9 239.57 L591.2 239.61 L591.5 239.64 L591.8 239.67 L592.1 239.71 L592.4 239.74 L592.69 239.78 L592.99 239.81 L593.29 239.85 L593.59 239.89 L593.88 239.93 L594.18 239.97 L594.48 240.01 L594.78 240.05 L595.07 240.09 L595.37 240.13 L595.67 240.18 L595.96 240.22 L596.26 240.27 L596.56 240.32 L596.85 240.37 L597.15 240.42 L597.44 240.47 L597.74 240.52 L598.04 240.58 L598.33 240.63 L598.62 240.69 L598.92 240.75 L599.21 240.81 L599.51 240.87 L599.8 240.93 L600.1 240.99 L600.39 241.05 L600.68 241.12 L600.98 241.18 L601.27 241.24 L601.56 241.3 L601.86 241.37 L602.15 241.43 L602.44 241.49 L602.74 241.55 L603.03 241.61 L603.33 241.68 L603.62 241.74 L603.91 241.79 L604.21 241.85 L604.5 241.91 L604.8 241.97 L605.09 242.02 L605.39 242.08 L605.68 242.13 L605.98 242.18 L606.28 242.23 L606.57 242.27 L606.87 242.32 L607.17 242.36 L607.46 242.4 L607.76 242.44 L608.06 242.47 L608.36 242.51 L608.66 242.54 L608.96 242.56 L609.25 242.59 L609.55 242.61 L609.85 242.63 L610.15 242.64 L610.45 242.65 L610.75 242.66 L611.05 242.66 L611.35 242.67 L611.65 242.66 L611.95 242.66 L612.25 242.65 L612.55 242.64 L612.85 242.63 L613.15 242.62 L613.45 242.6 L613.75 242.58 L614.05 242.56 L614.35 242.53 L614.65 242.51 L614.95 242.48 L615.25 242.45 L615.55 242.42 L615.84 242.38 L616.14 242.34 L616.44 242.31 L616.74 242.27 L617.03 242.23 L617.33 242.18 L617.63 242.14 L617.93 242.09 L618.22 242.04 L618.52 242 L618.81 241.95 L619.11 241.9 L619.41 241.84 L619.7 241.79 L620 241.74 L620.29 241.68 L620.59 241.63 L620.88 241.57 L621.18 241.51 L621.47 241.46 L621.76 241.4 L622.06 241.34 L622.35 241.28 L622.65 241.22 L622.94 241.16 L623.24 241.1 L623.53 241.04 L623.82 240.98 L624.12 240.92 L624.41 240.86 L624.71 240.8 L625 240.74 L625.3 240.68 L625.59 240.62 L625.88 240.56 L626.18 240.51 L626.47 240.45 L626.77 240.39 L627.06 240.33 L627.36 240.27 L627.65 240.21 L627.94 240.16 L628.24 240.1 L628.53 240.04 L628.83 239.99 L629.12 239.93 L629.42 239.88 L629.71 239.82 L630.01 239.77 L630.3 239.71 L630.6 239.66 L630.9 239.6 L631.19 239.55 L631.49 239.5 L631.78 239.45 L632.08 239.4 L632.37 239.34 L632.67 239.29 L632.97 239.24 L633.26 239.19 L633.56 239.15 L633.85 239.1 L634.15 239.05 L634.45 239 L634.74 238.96 L635.04 238.91 L635.34 238.87 L635.63 238.82 L635.93 238.78 L636.23 238.73 L636.52 238.69 L636.82 238.65 L637.12 238.61 L637.42 238.57 L637.71 238.53 L638.01 238.49 L638.31 238.45 L638.61 238.42 L638.91 238.38 L639.2 238.35 L639.5 238.31 L639.8 238.28 L640.1 238.25 L640.4 238.21 L640.7 238.18 L640.99 238.15 L641.29 238.13 L641.59 238.1 L641.89 238.07 L642.19 238.05 L642.49 238.02 L642.79 238 L643.09 237.97 L643.39 237.95 L643.69 237.93 L643.99 237.91 L644.29 237.9 L644.59 237.88 L644.88 237.86 L645.18 237.85 L645.48 237.83 L645.78 237.82 L646.08 237.81 L646.38 237.8 L646.68 237.79 L646.98 237.78 L647.28 237.78 L647.58 237.77 L647.88 237.77 L648.18 237.77 L648.49 237.77 L648.79 237.77 L649.09 237.77 L649.39 237.77 L649.69 237.77 L649.99 237.78 L650.29 237.78 L650.59 237.79 L650.89 237.8 L651.19 237.8 L651.49 237.81 L651.79 237.83 L652.09 237.84 L652.39 237.85 L652.69 237.86 L652.99 237.88 L653.29 237.9 L653.58 237.91 L653.88 237.93 L654.18 237.95 L654.48 237.97 L654.78 237.99 L655.08 238.02 L655.38 238.04 L655.68 238.06 L655.98 238.09 L656.28 238.12 L656.58 238.14 L656.88 238.17 L657.18 238.2 L657.47 238.23 L657.77 238.26 L658.07 238.29 L658.37 238.33 L658.67 238.36 L658.97 238.39 L659.26 238.43 L659.56 238.47 L659.86 238.5 L660.16 238.54 L660.45 238.58 L660.75 238.62 L661.05 238.66 L661.35 238.7 L661.64 238.74 L661.94 238.79 L662.24 238.83 L662.54 238.87 L662.83 238.92 L663.13 238.97 L663.42 239.01 L663.72 239.06 L664.02 239.11 L664.31 239.16 L664.61 239.21 L664.91 239.26 L665.2 239.31 L665.5 239.36 L665.79 239.41 L666.09 239.46 L666.38 239.52 L666.68 239.57 L666.97 239.63 L667.27 239.68 L667.56 239.74 L667.86 239.8 L668.15 239.85 L668.45 239.91 L668.74 239.97 L669.04 240.03 L669.33 240.09 L669.62 240.15 L669.92 240.21 L670.21 240.27 L670.51 240.33 L670.8 240.4 L671.09 240.46 L671.39 240.52 L671.68 240.59 L671.97 240.65 L672.27 240.72 L672.56 240.78 L672.85 240.85 L673.14 240.91 L673.44 240.98 L673.73 241.05 L674.02 241.12 L674.31 241.18 L674.61 241.25 L674.9 241.32 L675.19 241.39 L675.48 241.46 L675.77 241.53 L676.07 241.6 L676.36 241.67 L676.65 241.75 L676.94 241.82 L677.23 241.89 L677.52 241.96 L677.81 242.03 L678.1 242.11 L678.4 242.18 L678.69 242.26 L678.98 242.33 L679.27 242.4 L679.56 242.48 L679.85 242.55 L680.14 242.63 L680.43 242.7 L680.72 242.78 L681.01 242.86 L681.3 242.93 L681.59 243.01 L681.88 243.09 L682.17 243.16 L682.46 243.24 L682.75 243.32 L683.04 243.4 L683.33 243.47 L683.62 243.55 L683.91 243.63 L684.2 243.71 L684.49 243.79 L684.78 243.87 L685.07 243.95 L685.36 244.02 L685.65 244.1 L685.94 244.18 L686.23 244.26 L686.52 244.34 L686.81 244.42 L687.1 244.5 L687.39 244.58 L687.67 244.66 L687.96 244.74 L688.25 244.82 L688.54 244.9 L688.83 244.98 L689.12 245.07 L689.41 245.15 L689.7 245.23 L689.99 245.31 L690.28 245.39 L690.57 245.47 L690.85 245.55 L691.14 245.63 L691.43 245.72 L691.72 245.8 L692.01 245.88 L692.3 245.96 L692.59 246.04 L692.88 246.13 L693.16 246.21 L693.45 246.29 L693.74 246.37 L694.03 246.46 L694.32 246.54 L694.61 246.62 L694.89 246.71 L695.18 246.79 L695.47 246.87 L695.76 246.96 L696.05 247.04 L696.34 247.13 L696.62 247.21 L696.91 247.29 L697.2 247.38 L697.49 247.46 L697.78 247.55 L698.06 247.63 L698.35 247.72 L698.64 247.8 L698.93 247.89 L699.21 247.98 L699.5 248.06 L699.79 248.15 L700.08 248.23 L700.36 248.32 L700.65 248.41 L700.94 248.49 L701.23 248.58 L701.51 248.67 L701.8 248.75 L702.09 248.84 L702.38 248.93 L702.66 249.02 L702.95 249.1 L703.24 249.19 L703.52 249.28 L703.81 249.37 L704.1 249.46 L704.38 249.55 L704.67 249.64 L704.96 249.72 L705.24 249.81 L705.53 249.9 L705.82 249.99 L706.1 250.08 L706.39 250.17 L706.68 250.26 L706.96 250.35 L707.25 250.44 L707.53 250.54 L707.82 250.63 L708.11 250.72 L708.39 250.81 L708.68 250.9 L708.96 250.99 L709.25 251.08 L709.53 251.18 L709.82 251.27 L710.11 251.36 L710.39 251.45 L710.68 251.55 L710.96 251.64 L711.25 251.73 L711.53 251.83 L711.82 251.92 L712.1 252.02 L712.39 252.11 L712.67 252.21 L712.96 252.3 L713.24 252.4 L713.53 252.49 L713.81 252.59 L714.1 252.68 L714.38 252.78 L714.66 252.87 L714.95 252.97 L715.23 253.07 L715.52 253.16 L715.8 253.26 L716.08 253.36 L716.37 253.45 L716.65 253.55 L716.94 253.65 L717.22 253.75 L717.5 253.85 L717.79 253.95 L718.07 254.04 L718.35 254.14 L718.64 254.24 L718.92 254.34 L719.2 254.44 L719.49 254.54 L719.77 254.64 L720.05 254.74 L720.33 254.84 L720.62 254.95 L720.9 255.05 L721.18 255.15 L721.46 255.25 L721.75 255.35 L722.03 255.45 L722.31 255.56 L722.59 255.66 L722.88 255.76 L723.16 255.87 L723.44 255.97 L723.72 256.07 L724 256.18 L724.28 256.28 L724.56 256.39 L724.85 256.49 L725.13 256.6 L725.41 256.7 L725.69 256.81 L725.97 256.91 L726.25 257.02 L726.53 257.13 L726.81 257.23 L727.09 257.34 L727.37 257.45 L727.65 257.55 L727.93 257.66 L728.21 257.77 L728.49 257.88 L728.77 257.99 L729.05 258.1 L729.33 258.2 L729.61 258.31 L729.89 258.42 L730.17 258.53 L730.45 258.64 L730.73 258.75 L731.01 258.87 L731.29 258.98 L731.57 259.09 L731.84 259.2 L732.12 259.31 L732.4 259.42 L732.68 259.54 L732.96 259.65 L733.24 259.76 L733.51 259.88 L733.79 259.99 L734.07 260.1 L734.35 260.22 L734.62 260.33 L734.9 260.45 L735.18 260.56 L735.46 260.68 L735.73 260.79 L736.01 260.91 L736.29 261.03 L736.56 261.14 L736.84 261.26 L737.11 261.38 L737.39 261.49 L737.67 261.61 L737.94 261.73 L738.22 261.85 L738.49 261.97 L738.77 262.09 L739.05 262.21 L739.32 262.33 L739.6 262.45 L739.87 262.57 L740.15 262.69 L740.42 262.81 L740.7 262.93 L740.97 263.05 L741.24 263.17 L741.52 263.29 L741.79 263.42 L742.07 263.54 L742.34 263.66 L742.61 263.79 L742.89 263.91 L743.16 264.03 L743.43 264.16 L743.71 264.28 L743.98 264.41 L744.25 264.53 L744.52 264.66 L744.8 264.79 L745.07 264.91 L745.34 265.04 L745.61 265.17 L745.88 265.29 L746.16 265.42 L746.43 265.55 L746.7 265.68 L746.97 265.81 L747.24 265.93 L747.51 266.06 L747.78 266.19 L748.05 266.32 L748.32 266.45 L748.59 266.58 L748.86 266.71 L749.13 266.85 L749.4 266.98 L749.67 267.11 L749.94 267.24 L750.21 267.37 L750.48 267.51 L750.75 267.64 L751.02 267.77 L751.29 267.91 L751.56 268.04 L751.82 268.18 L752.09 268.31 L752.36 268.45 L752.63 268.58 L752.9 268.72 L753.16 268.86 L753.43 268.99 L753.7 269.13 L753.96 269.27 L754.23 269.41 L754.5 269.55 L754.76 269.69 L755.03 269.83 L755.29 269.97 L755.56 270.11 L755.82 270.25 L756.09 270.39 L756.35 270.53 L756.62 270.67 L756.88 270.82 L757.14 270.96 L757.41 271.1 L757.67 271.25 L757.93 271.39 L758.2 271.54 L758.46 271.68 L758.72 271.83 L758.98 271.98 L759.24 272.12 L759.5 272.27 L759.77 272.42 L760.03 272.57 L760.29 272.72 L760.55 272.87 L760.81 273.02 L761.07 273.17 L761.32 273.32 L761.58 273.48 L761.84 273.63 L762.1 273.78 L762.36 273.94 L762.61 274.09 L762.87 274.25 L763.13 274.4 L763.38 274.56 L763.64 274.72 L763.89 274.88 L764.15 275.03 L764.4 275.19 L764.66 275.35 L764.91 275.51 L765.16 275.68 L765.42 275.84 L765.67 276 L765.92 276.16 L766.17 276.33 L766.42 276.49 L766.67 276.66 L766.92 276.82 L767.17 276.99 L767.42 277.16 L767.67 277.33 L767.92 277.49 L768.17 277.66 L768.41 277.83 L768.66 278.01 L768.91 278.18 L769.15 278.35 L769.4 278.52 L769.64 278.7 L769.88 278.87 L770.13 279.05 L770.37 279.22 L770.61 279.4 L770.86 279.58 L771.1 279.76 L771.34 279.94 L771.58 280.12 L771.82 280.3 L772.05 280.48 L772.29 280.66 L772.53 280.85 L772.77 281.03 L773 281.22 L773.24 281.4 L773.47 281.59 L773.71 281.78 L773.94 281.97 L774.17 282.16 L774.41 282.35 L774.64 282.54 L774.87 282.73 L775.1 282.92 L775.33 283.11 L775.56 283.31 L775.79 283.5 L776.01 283.7 L776.24 283.9 L776.46 284.1 L776.69 284.29 L776.91 284.49 L777.14 284.69 L777.36 284.9 L777.58 285.1 L777.8 285.3 L778.02 285.51 L778.24 285.71 L778.46 285.92 L778.68 286.12 L778.89 286.33 L779.11 286.54 L779.32 286.75 L779.54 286.96 L779.75 287.17 L779.96 287.38 L780.17 287.6 L780.38 287.81 L780.59 288.03 L780.8 288.24 L781.01 288.46 L781.22 288.68 L781.42 288.9 L781.63 289.12 L781.83 289.34 L782.03 289.56 L782.23 289.78 L782.43 290 L782.63 290.23 L782.83 290.45 L783.03 290.68 L783.23 290.91 L783.42 291.13 L783.62 291.36 L783.81 291.59 L784 291.82 L784.19 292.06 L784.38 292.29 L784.57 292.52" stroke="#f00" stroke-width="5.1" fill="none" stroke-linejoin="round"/>
<path d="M142.6 312.78 L142.74 312.39 L142.73 311.98 L142.83 311.59 L142.89 311.2 L142.84 310.79 L142.98 310.4 L143.08 310.01 L143.04 309.6 L143.12 309.21 L143.02 308.79 L143.24 308.42 L143.23 308.01 L143.37 307.63 L143.4 307.23 L143.4 306.82 L143.36 306.42 L143.41 306.02 L143.46 305.62 L143.67 305.24 L143.62 304.83 L143.61 304.43 L143.57 304.02 L143.72 303.64 L143.75 303.24 L143.89 302.85 L143.76 302.43 L143.9 302.05 L143.85 301.64 L144 301.25 L143.99 300.85 L144 300.45 L144.11 300.06 L144.15 299.66 L144.33 299.27 L144.15 298.85 L144.31 298.47 L144.29 298.06 L144.41 297.67 L144.32 297.26 L144.56 296.88 L144.44 296.47 L144.6 296.08 L144.57 295.68 L144.53 295.27 L144.7 294.89 L144.55 294.47 L144.77 294.09 L144.68 293.68 L144.74 293.28 L144.92 292.9 L144.91 292.49 L144.95 292.09 L145.02 291.7 L145.01 291.3 L145.02 290.9 L145 290.49 L145.18 290.11 L145.18 289.7 L145.34 289.32 L145.24 288.91 L145.25 288.5 L145.2 288.1 L145.47 287.72 L145.55 287.33 L145.52 286.92 L145.58 286.53 L145.61 286.13 L145.49 285.71 L145.59 285.32 L145.57 284.92 L145.82 284.54 L145.83 284.14 L145.73 283.73 L146.05 283.36 L145.88 282.94 L145.87 282.53 L145.91 282.13 L146.02 281.74 L145.93 281.33 L146.32 280.97 L146.16 280.55 L146.14 280.15 L146.23 279.75 L146.28 279.36 L146.35 278.96 L146.44 278.57 L146.53 278.18 L146.52 277.77 L146.42 277.36 L146.46 276.96 L146.39 276.55 L146.52 276.16 L146.85 275.8 L146.86 275.39 L146.93 275 L146.71 274.57 L146.97 274.2 L147.02 273.8 L147 273.4 L147.11 273.01 L147.08 272.6 L146.98 272.18 L146.95 271.78 L147.01 271.38 L147.29 271.01 L147.36 270.62 L147.46 270.23 L147.49 269.83 L147.47 269.42 L147.39 269.01 L147.69 268.64 L147.72 268.24 L147.91 267.86 L147.95 267.47 L147.81 267.04 L147.75 266.63 L147.72 266.22 L147.9 265.84 L148.02 265.46 L148.07 265.06 L148.31 264.69 L148.23 264.27 L148.33 263.88 L148.26 263.47 L148.37 263.08 L148.66 262.72 L148.48 262.29 L148.37 261.87 L148.34 261.46 L148.82 261.12 L148.68 260.7 L148.83 260.32 L148.65 259.88 L148.81 259.5 L148.98 259.12 L148.82 258.7 L148.93 258.31 L148.97 257.91 L149.2 257.54 L148.91 257.09 L149.23 256.73 L149.25 256.33 L149.36 255.94 L149.69 255.59 L149.62 255.17 L149.5 254.75 L149.82 254.4 L150.1 254.04 L149.77 253.58 L149.7 253.16 L149.91 252.79 L150.18 252.43 L150.35 252.05 L150.29 251.64 L150.05 251.19 L150.59 250.88 L150.51 250.46 L150.31 250.01 L150.27 249.6 L150.53 249.24 L150.41 248.81 L150.8 248.48 L150.75 248.06 L150.85 247.67 L151.24 247.34 L150.87 246.86 L150.99 246.47 L150.91 246.05 L151.07 245.67 L151.3 245.31 L151.54 244.95 L151.58 244.55 L151.42 244.11 L151.8 243.78 L151.48 243.3 L151.85 242.97 L151.84 242.56 L152.07 242.2 L151.97 241.77 L152.38 241.45 L152.62 241.09 L152.75 240.71 L152.34 240.21 L152.72 239.88 L152.55 239.44 L152.65 239.05 L152.71 238.65 L153.08 238.33 L153.29 237.97 L153.13 237.51 L153.16 237.11 L153.27 236.73 L153.34 236.33 L153.32 235.91 L153.59 235.57 L153.59 235.15 L153.49 234.71 L154.01 234.43 L154.11 234.05 L154.35 233.7 L154.11 233.22 L154.58 232.93 L154.55 232.51 L154.63 232.12 L154.31 231.61 L154.77 231.32 L154.71 230.89 L155.39 230.67 L154.71 230.06 L155.38 229.83 L155.16 229.35 L155.43 229.02 L155.18 228.52 L155.7 228.26 L155.65 227.83 L156.16 227.56 L155.9 227.07 L156.21 226.74 L156.23 226.33 L156.31 225.93 L156.62 225.62 L156.53 225.16 L156.25 224.65 L156.7 224.38 L156.93 224.03 L157.31 223.74 L157.49 223.37 L157.3 222.89 L157.73 222.61 L157.6 222.14 L157.67 221.75 L157.94 221.42 L157.85 220.96 L158.3 220.7 L158.51 220.35 L158.75 220.01 L158.6 219.53 L158.87 219.2 L159.05 218.84 L159.03 218.4 L159.05 217.99 L159.46 217.71 L159.56 217.33 L159.64 216.93 L160.14 216.69 L159.52 216.01 L160.22 215.86 L159.99 215.34 L160.26 215.02 L160.2 214.56 L160.94 214.43 L160.41 213.78 L161.08 213.63 L160.85 213.09 L161.62 212.99 L161.49 212.5 L161.52 212.07 L161.77 211.75 L162.13 211.47 L162.19 211.06 L162.2 210.62 L162.81 210.46 L162.72 209.98 L162.78 209.57 L162.79 209.13 L163.03 208.8 L163.07 208.38 L163.18 207.98 L163.66 207.77 L164.09 207.54 L163.99 207.04 L164.16 206.68 L164.55 206.43 L164.35 205.88 L164.71 205.61 L164.79 205.21 L164.79 204.75 L165.36 204.6 L165.52 204.23 L165.72 203.89 L165.87 203.51 L165.75 202.99 L166.29 202.83 L166.4 202.43 L166.7 202.14 L166.8 201.74 L166.87 201.32 L167.48 201.21 L167.37 200.69 L167.41 200.25 L167.75 199.98 L167.83 199.56 L168.17 199.3 L168.38 198.96 L168.43 198.52 L168.85 198.31 L169.16 198.03 L169.33 197.67 L169.44 197.26 L169.95 197.11 L169.77 196.53 L170.04 196.22 L169.99 195.71 L170.37 195.48 L170.91 195.35 L170.65 194.71 L171.06 194.5 L171.37 194.22 L171.77 194.01 L171.75 193.51 L171.88 193.11 L172.25 192.89 L172.61 192.65 L172.93 192.38 L172.95 191.91 L173.01 191.46 L173.16 191.08 L173.64 190.93 L173.91 190.63 L173.95 190.17 L174.33 189.95 L174.28 189.41 L174.83 189.32 L174.88 188.86 L175.35 188.71 L175.56 188.37 L175.58 187.88 L175.67 187.45 L176.43 187.52 L176.55 187.11 L176.76 186.77 L176.89 186.36 L176.98 185.92 L177.46 185.79 L177.77 185.52 L177.65 184.92 L178.07 184.74 L178.36 184.45 L178.53 184.09 L179.01 183.95 L179.07 183.49 L178.94 182.86 L179.7 182.97 L180 182.69 L179.98 182.16 L180.45 182.03 L180.76 181.77 L181.26 181.66 L181.32 181.19 L181.64 180.94 L181.74 180.5 L182.06 180.25 L182.1 179.75 L182.35 179.44 L182.95 179.43 L183.15 179.07 L183.25 178.63 L183.4 178.23 L183.74 177.99 L184.11 177.79 L184.38 177.49 L184.75 177.28 L185.01 176.98 L184.87 176.31 L185.55 176.4 L185.81 176.08 L185.73 175.47 L186.13 175.29 L186.59 175.18 L186.93 174.95 L187.08 174.53 L187.21 174.11 L187.65 173.97 L187.94 173.69 L188.35 173.54 L188.47 173.1 L188.87 172.93 L189.01 172.5 L189.38 172.3 L189.45 171.81 L189.87 171.66 L190.34 171.56 L190.48 171.14 L190.7 170.79 L191.04 170.56 L191.21 170.16 L191.54 169.94 L192.02 169.85 L192.57 169.85 L192.53 169.22 L192.6 168.72 L193.08 168.64 L193.5 168.5 L193.53 167.96 L194.03 167.9 L194.09 167.38 L194.53 167.26 L194.83 166.99 L194.94 166.53 L195.49 166.53 L195.79 166.26 L195.88 165.77 L196.45 165.8 L196.45 165.2 L197.03 165.25 L197.2 164.84 L197.83 164.96 L197.78 164.29 L198.15 164.11 L198.17 163.52 L198.64 163.45 L198.99 163.24 L199.42 163.12 L199.57 162.69 L199.76 162.29 L200.41 162.44 L200.42 161.84 L200.89 161.77 L200.77 161.01 L201.67 161.45 L201.95 161.16 L201.96 160.56 L202.51 160.59 L202.53 159.99 L202.84 159.74 L203.29 159.65 L203.59 159.38 L203.9 159.14 L204.23 158.9 L204.32 158.38 L204.78 158.31 L205.09 158.06 L205.31 157.69 L205.89 157.78 L206.04 157.33 L206.29 156.99 L206.63 156.77 L206.93 156.52 L207.47 156.55 L207.59 156.06 L208.14 156.11 L208.11 155.42 L208.71 155.54 L209.01 155.27 L209.43 155.16 L209.4 154.47 L209.91 154.48 L210.23 154.24 L210.31 153.68 L210.66 153.47 L211.11 153.41 L211.19 152.85 L211.59 152.72 L212.13 152.76 L212.59 152.71 L212.65 152.12 L213.17 152.15 L213.33 151.7 L213.61 151.4 L213.93 151.16 L214.24 150.9 L214.78 150.97 L215.08 150.7 L215.41 150.48 L215.85 150.4 L215.91 149.8 L216.23 149.56 L216.49 149.24 L217.13 149.44 L217.2 148.85 L217.72 148.9 L217.85 148.39 L218.1 148.03 L218.55 147.99 L218.95 147.86 L219.41 147.82 L219.55 147.32 L219.91 147.13 L220.18 146.82 L220.42 146.46 L220.86 146.4 L221.12 146.07 L221.64 146.12 L221.8 145.65 L222.19 145.5 L222.44 145.16 L222.79 144.96 L223.13 144.76 L223.42 144.47 L223.86 144.4 L224.22 144.23 L224.6 144.07 L224.76 143.59 L225.11 143.39 L225.44 143.17 L225.93 143.18 L226.34 143.08 L226.55 142.66 L226.88 142.44 L227.17 142.15 L227.57 142.02 L227.91 141.83 L228.16 141.46 L228.6 141.42 L228.96 141.23 L229.24 140.93 L229.61 140.77 L229.99 140.62 L230.3 140.35 L230.57 140.03 L230.96 139.91 L231.37 139.81 L231.62 139.44 L232.04 139.36 L232.33 139.08 L232.66 138.85 L232.99 138.61 L233.37 138.47 L233.7 138.25 L234.05 138.05 L234.39 137.84 L234.74 137.64 L235.08 137.44 L235.43 137.24 L235.77 137.03 L236.12 136.83 L236.47 136.63 L236.81 136.43 L237.16 136.23 L237.5 136.03 L237.85 135.83 L238.2 135.63 L238.55 135.43 L238.89 135.23 L239.24 135.04 L239.59 134.84 L239.94 134.64 L240.29 134.45 L240.64 134.25 L240.99 134.06 L241.34 133.86 L241.69 133.67 L242.04 133.47 L242.39 133.28 L242.74 133.09 L243.09 132.9 L243.44 132.7 L243.79 132.51 L244.14 132.32 L244.5 132.13 L244.85 131.94 L245.2 131.75 L245.55 131.57 L245.91 131.38 L246.26 131.19 L246.62 131 L246.97 130.81 L247.32 130.63 L247.68 130.44 L248.03 130.26 L248.39 130.07 L248.74 129.89 L249.1 129.7 L249.45 129.52 L249.81 129.34 L250.17 129.15 L250.52 128.97 L250.88 128.79 L251.24 128.61 L251.59 128.43 L251.95 128.25 L252.31 128.07 L252.67 127.89 L253.02 127.71 L253.38 127.53 L253.74 127.36 L254.1 127.18 L254.46 127 L254.82 126.82 L255.18 126.65 L255.54 126.47 L255.9 126.3 L256.26 126.12 L256.62 125.95 L256.98 125.77 L257.34 125.6 L257.7 125.43 L258.06 125.26 L258.42 125.08 L258.78 124.91 L259.15 124.74 L259.51 124.57 L259.87 124.4 L260.23 124.23 L260.6 124.06 L260.96 123.89 L261.32 123.73 L261.69 123.56 L262.05 123.39 L262.41 123.22 L262.78 123.06 L263.14 122.89 L263.51 122.72 L263.87 122.56 L264.23 122.39 L264.6 122.23 L264.97 122.07 L265.33 121.9 L265.7 121.74 L266.06 121.58 L266.43 121.42 L266.79 121.25 L267.16 121.09 L267.53 120.93 L267.89 120.77 L268.26 120.61 L268.63 120.45 L268.99 120.29 L269.36 120.13 L269.73 119.98 L270.1 119.82 L270.47 119.66 L270.83 119.5 L271.2 119.35 L271.57 119.19 L271.94 119.03 L272.31 118.88 L272.68 118.72 L273.05 118.57 L273.42 118.42 L273.79 118.26 L274.15 118.11 L274.52 117.96 L274.89 117.8 L275.27 117.65 L275.64 117.5 L276.01 117.35 L276.38 117.2 L276.75 117.05 L277.12 116.9 L277.49 116.75 L277.86 116.6 L278.23 116.45 L278.6 116.3 L278.98 116.15 L279.35 116 L279.72 115.86 L280.09 115.71 L280.47 115.56 L280.84 115.42 L281.21 115.27 L281.58 115.13 L281.96 114.98 L282.33 114.84 L282.7 114.69 L283.08 114.55 L283.45 114.41 L283.83 114.26 L284.2 114.12 L284.57 113.98 L284.95 113.84 L285.32 113.7 L285.7 113.55 L286.07 113.41 L286.45 113.27 L286.82 113.13 L287.2 112.99 L287.57 112.85 L287.95 112.72 L288.32 112.58 L288.7 112.44 L289.07 112.3 L289.45 112.16 L289.83 112.03 L290.2 111.89 L290.58 111.75 L290.96 111.62 L291.33 111.48 L291.71 111.35 L292.09 111.21 L292.46 111.08 L292.84 110.94 L293.22 110.81 L293.59 110.68 L293.97 110.54 L294.35 110.41 L294.73 110.28 L295.1 110.15 L295.48 110.02 L295.86 109.88 L296.24 109.75 L296.62 109.62 L297 109.49 L297.37 109.36 L297.75 109.23 L298.13 109.1 L298.51 108.97 L298.89 108.85 L299.27 108.72 L299.65 108.59 L300.03 108.46 L300.41 108.33 L300.79 108.21 L301.17 108.08 L301.55 107.95 L301.93 107.83 L302.31 107.7 L302.69 107.58 L303.07 107.45 L303.45 107.33 L303.83 107.2 L304.21 107.08 L304.59 106.96 L304.97 106.83 L305.35 106.71 L305.73 106.59 L306.11 106.46 L306.49 106.34 L306.88 106.22 L307.26 106.1 L307.64 105.98 L308.02 105.86 L308.4 105.74 L308.78 105.62 L309.16 105.5 L309.55 105.38 L309.93 105.26 L310.31 105.14 L310.69 105.02 L311.08 104.9 L311.46 104.78 L311.84 104.67 L312.22 104.55 L312.61 104.43 L312.99 104.31 L313.37 104.2 L313.75 104.08 L314.14 103.96 L314.52 103.85 L314.9 103.73 L315.29 103.62 L315.67 103.5 L316.05 103.39 L316.44 103.27 L316.82 103.16 L317.2 103.05 L317.59 102.93 L317.97 102.82 L318.36 102.71 L318.74 102.59 L319.12 102.48 L319.51 102.37 L319.89 102.26 L320.28 102.14 L320.66 102.03 L321.05 101.92 L321.43 101.81 L321.82 101.7 L322.2 101.59 L322.59 101.48 L322.97 101.37 L323.36 101.26 L323.74 101.15 L324.13 101.04 L324.51 100.93 L324.9 100.82 L325.28 100.72 L325.67 100.61 L326.05 100.5 L326.44 100.39 L326.82 100.29 L327.21 100.18 L327.59 100.07 L327.98 99.96 L328.37 99.86 L328.75 99.75 L329.14 99.65 L329.52 99.54 L329.91 99.43 L330.3 99.33 L330.68 99.22 L331.07 99.12 L331.46 99.02 L331.84 98.91 L332.23 98.81 L332.61 98.7 L333 98.6 L333.39 98.5 L333.77 98.39 L334.16 98.29 L334.55 98.19 L334.94 98.09 L335.32 97.98 L335.71 97.88 L336.1 97.78 L336.48 97.68 L336.87 97.58 L337.26 97.47 L337.65 97.37 L338.03 97.27 L338.42 97.17 L338.81 97.07 L339.19 96.97 L339.58 96.87 L339.97 96.77 L340.36 96.67 L340.75 96.57 L341.13 96.47 L341.52 96.37 L341.91 96.28 L342.3 96.18 L342.69 96.08 L343.07 95.98 L343.46 95.88 L343.85 95.79 L344.24 95.69 L344.63 95.59 L345.01 95.49 L345.4 95.4 L345.79 95.3 L346.18 95.2 L346.57 95.11 L346.96 95.01 L347.34 94.91 L347.73 94.82 L348.12 94.72 L348.51 94.63 L348.9 94.53 L349.29 94.44 L349.68 94.34 L350.07 94.25 L350.45 94.15 L350.84 94.06 L351.23 93.96 L351.62 93.87 L352.01 93.77 L352.4 93.68 L352.79 93.59 L353.18 93.49 L353.57 93.4 L353.96 93.3 L354.35 93.21 L354.73 93.12 L355.12 93.03 L355.51 92.93 L355.9 92.84 L356.29 92.75 L356.68 92.66 L357.07 92.56 L357.46 92.47 L357.85 92.38 L358.24 92.29 L358.63 92.2 L359.02 92.11 L359.41 92.01 L359.8 91.92 L360.19 91.83 L360.58 91.74 L360.97 91.65 L361.36 91.56 L361.75 91.47 L362.14 91.38 L362.53 91.29 L362.92 91.2 L363.31 91.11 L363.7 91.02 L364.09 90.93 L364.48 90.84 L364.87 90.75 L365.26 90.66 L365.65 90.57 L366.04 90.48 L366.43 90.39 L366.82 90.3 L367.21 90.22 L367.6 90.13 L367.99 90.04 L368.38 89.95 L368.77 89.86 L369.16 89.77 L369.55 89.69 L369.94 89.6 L370.33 89.51 L370.72 89.42 L371.11 89.33 L371.5 89.25 L371.9 89.16 L372.29 89.07 L372.68 88.98 L373.07 88.9 L373.46 88.81 L373.85 88.72 L374.24 88.64 L374.63 88.55 L375.02 88.46 L375.41 88.38 L375.8 88.29 L376.19 88.2 L376.58 88.12 L376.97 88.03 L377.37 87.95 L377.76 87.86 L378.15 87.77 L378.54 87.69 L378.93 87.6 L379.32 87.52 L379.71 87.43 L380.1 87.35 L380.49 87.26 L380.88 87.18 L381.28 87.09 L381.67 87.01 L382.06 86.92 L382.45 86.84 L382.84 86.75 L383.23 86.67 L383.62 86.58 L384.01 86.5 L384.41 86.41 L384.8 86.33 L385.19 86.25 L385.58 86.16 L385.97 86.08 L386.36 85.99 L386.75 85.91 L387.15 85.83 L387.54 85.74 L387.93 85.66 L388.32 85.58 L388.71 85.49 L389.1 85.41 L389.49 85.33 L389.89 85.24 L390.28 85.16 L390.67 85.08 L391.06 85 L391.45 84.91 L391.84 84.83 L392.24 84.75 L392.63 84.67 L393.02 84.59 L393.41 84.5 L393.8 84.42 L394.19 84.34 L394.59 84.26 L394.98 84.18 L395.37 84.09 L395.76 84.01 L396.15 83.93 L396.55 83.85 L396.94 83.77 L397.33 83.69 L397.72 83.61 L398.11 83.53 L398.51 83.45 L398.9 83.36 L399.29 83.28 L399.68 83.2 L400.07 83.12 L400.47 83.04 L400.86 82.96 L401.25 82.88 L401.64 82.8 L402.03 82.72 L402.43 82.64 L402.82 82.56 L403.21 82.48 L403.6 82.4 L404 82.32 L404.39 82.24 L404.78 82.16 L405.17 82.09 L405.57 82.01 L405.96 81.93 L406.35 81.85 L406.74 81.77 L407.13 81.69 L407.53 81.61 L407.92 81.53 L408.31 81.45 L408.7 81.38 L409.1 81.3 L409.49 81.22 L409.88 81.14 L410.27 81.06 L410.67 80.99 L411.06 80.91 L411.45 80.83 L411.85 80.75 L412.24 80.67 L412.63 80.6 L413.02 80.52 L413.42 80.44 L413.81 80.36 L414.2 80.29 L414.59 80.21 L414.99 80.13 L415.38 80.06 L415.77 79.98 L416.17 79.9 L416.56 79.83 L416.95 79.75 L417.34 79.67 L417.74 79.6 L418.13 79.52 L418.52 79.44 L418.92 79.37 L419.31 79.29 L419.7 79.21 L420.09 79.14 L420.49 79.06 L420.88 78.99 L421.27 78.91 L421.67 78.84 L422.06 78.76 L422.45 78.68 L422.85 78.61 L423.24 78.53 L423.63 78.46 L424.03 78.38 L424.42 78.31 L424.81 78.23 L425.2 78.16 L425.6 78.08 L425.99 78.01 L426.38 77.94 L426.78 77.86 L427.17 77.79 L427.56 77.71 L427.96 77.64 L428.35 77.56 L428.74 77.49 L429.14 77.42 L429.53 77.34 L429.92 77.27 L430.32 77.19 L430.71 77.12 L431.1 77.05 L431.5 76.97 L431.89 76.9 L432.29 76.83 L432.68 76.75 L433.07 76.68 L433.47 76.61 L433.86 76.53 L434.25 76.46 L434.65 76.39 L435.04 76.31 L435.43 76.24 L435.83 76.17 L436.22 76.1 L436.61 76.02 L437.01 75.95 L437.4 75.88 L437.8 75.81 L438.19 75.73 L438.58 75.66 L438.98 75.59 L439.37 75.52 L439.76 75.45 L440.16 75.37 L440.55 75.3 L440.95 75.23 L441.34 75.16 L441.73 75.09 L442.13 75.02 L442.52 74.94 L442.91 74.87 L443.31 74.8 L443.7 74.73 L444.1 74.66 L444.49 74.59 L444.88 74.52 L445.28 74.45 L445.67 74.38 L446.07 74.31 L446.46 74.23 L446.85 74.16 L447.25 74.09 L447.64 74.02 L448.04 73.95 L448.43 73.88 L448.82 73.81 L449.22 73.74 L449.61 73.67 L450.01 73.6 L450.4 73.53 L450.79 73.46 L451.19 73.39 L451.58 73.32 L451.98 73.25 L452.37 73.18 L452.77 73.11 L453.16 73.05 L453.55 72.98 L453.95 72.91 L454.34 72.84 L454.74 72.77 L455.13 72.7 L455.52 72.63 L455.92 72.56 L456.31 72.49 L456.71 72.42 L457.1 72.36 L457.5 72.29 L457.89 72.22 L458.28 72.15 L458.68 72.08 L459.07 72.01 L459.47 71.94 L459.86 71.88 L460.26 71.81 L460.65 71.74 L461.05 71.67 L461.44 71.6 L461.83 71.54 L462.23 71.47 L462.62 71.4 L463.02 71.33 L463.41 71.27 L463.81 71.2 L464.2 71.13 L464.6 71.06 L464.99 71 L465.39 70.93 L465.78 70.86 L466.17 70.79 L466.57 70.73 L466.96 70.66 L467.36 70.59 L467.75 70.53 L468.15 70.46 L468.54 70.39 L468.94 70.33 L469.33 70.26 L469.73 70.19 L470.12 70.13 L470.52 70.06 L470.91 69.99 L471.31 69.93 L471.7 69.86 L472.09 69.8 L472.49 69.73 L472.88 69.66 L473.28 69.6 L473.67 69.53 L474.07 69.47 L474.46 69.4 L474.86 69.33 L475.25 69.27 L475.65 69.2 L476.04 69.14 L476.44 69.07 L476.83 69.01 L477.23 68.94 L477.62 68.88 L478.02 68.81 L478.41 68.75 L478.81 68.68 L479.2 68.61 L479.6 68.55 L479.99 68.49 L480.39 68.42 L480.78 68.36 L481.18 68.29 L481.57 68.23 L481.97 68.16 L482.36 68.1 L482.76 68.03 L483.15 67.97 L483.55 67.9 L483.94 67.84 L484.34 67.78 L484.73 67.71 L485.13 67.65 L485.52 67.58 L485.92 67.52 L486.31 67.45 L486.71 67.39 L487.1 67.33 L487.5 67.26 L487.89 67.2 L488.29 67.14 L488.68 67.07 L489.08 67.01 L489.47 66.95 L489.87 66.88 L490.26 66.82 L490.66 66.75 L491.05 66.69 L491.45 66.63 L491.85 66.57 L492.24 66.5 L492.64 66.44 L493.03 66.38 L493.43 66.31 L493.82 66.25 L494.22 66.19 L494.61 66.12 L495.01 66.06 L495.4 66 L495.8 65.94 L496.19 65.87 L496.59 65.81 L496.98 65.75 L497.38 65.69 L497.78 65.62 L498.17 65.56 L498.57 65.5 L498.96 65.44 L499.36 65.38 L499.75 65.31 L500.15 65.25 L500.54 65.19 L500.94 65.13 L501.33 65.07 L501.73 65 L502.12 64.94 L502.52 64.88 L502.92 64.82 L503.31 64.76 L503.71 64.7 L504.1 64.63 L504.5 64.57 L504.89 64.51 L505.29 64.45 L505.68 64.39 L506.08 64.33 L506.48 64.27 L506.87 64.21 L507.27 64.14 L507.66 64.08 L508.06 64.02 L508.45 63.96 L508.85 63.9 L509.24 63.84 L509.64 63.78 L510.04 63.72 L510.43 63.66 L510.83 63.6 L511.22 63.54 L511.62 63.48 L512.01 63.41 L512.41 63.35 L512.81 63.29 L513.2 63.23 L513.6 63.17 L513.99 63.11 L514.39 63.05 L514.78 62.99 L515.18 62.93 L515.58 62.87 L515.97 62.81 L516.37 62.75 L516.76 62.69 L517.16 62.63 L517.55 62.57 L517.95 62.51 L518.35 62.45 L518.74 62.39 L519.14 62.33 L519.53 62.27 L519.93 62.21 L520.32 62.15 L520.72 62.1 L521.12 62.04 L521.51 61.98 L521.91 61.92 L522.3 61.86 L522.7 61.8 L523.1 61.74 L523.49 61.68 L523.89 61.62 L524.28 61.56 L524.68 61.5 L525.07 61.44 L525.47 61.38 L525.87 61.33 L526.26 61.27 L526.66 61.21 L527.05 61.15 L527.45 61.09 L527.85 61.03 L528.24 60.97 L528.64 60.91 L529.03 60.86 L529.43 60.8 L529.83 60.74 L530.22 60.68 L530.62 60.62 L531.01 60.56 L531.41 60.51 L531.81 60.45 L532.2 60.39 L532.6 60.33 L532.99 60.27 L533.39 60.22 L533.79 60.16 L534.18 60.1 L534.58 60.04 L534.97 59.98 L535.37 59.93 L535.77 59.87 L536.16 59.81 L536.56 59.75 L536.95 59.69 L537.35 59.64 L537.75 59.58 L538.14 59.52 L538.54 59.46 L538.93 59.41 L539.33 59.35 L539.73 59.29 L540.12 59.23 L540.52 59.18 L540.92 59.12 L541.31 59.06 L541.71 59.01 L542.1 58.95 L542.5 58.89 L542.9 58.83 L543.29 58.78 L543.69 58.72 L544.08 58.66 L544.48 58.61 L544.88 58.55 L545.27 58.49 L545.67 58.44 L546.07 58.38 L546.46 58.32 L546.86 58.27 L547.25 58.21 L547.65 58.15 L548.05 58.1 L548.44 58.04 L548.84 57.98 L549.24 57.93 L549.63 57.87 L550.03 57.82 L550.42 57.76 L550.82 57.7 L551.22 57.65 L551.61 57.59 L552.01 57.53 L552.41 57.48 L552.8 57.42 L553.2 57.37 L553.6 57.31 L553.99 57.26 L554.39 57.2 L554.78 57.14 L555.18 57.09 L555.58 57.03 L555.97 56.98 L556.37 56.92 L556.77 56.87 L557.16 56.81 L557.56 56.75 L557.96 56.7 L558.35 56.64 L558.75 56.59 L559.14 56.53 L559.54 56.48 L559.94 56.42 L560.33 56.37 L560.73 56.31 L561.13 56.26 L561.52 56.2 L561.92 56.15 L562.32 56.09 L562.71 56.04 L563.11 55.98 L563.51 55.93 L563.9 55.87 L564.3 55.82 L564.7 55.76 L565.09 55.71 L565.49 55.66 L565.88 55.6 L566.28 55.55 L566.68 55.49 L567.07 55.44 L567.47 55.38 L567.87 55.33 L568.26 55.27 L568.66 55.22 L569.06 55.17 L569.45 55.11 L569.85 55.06 L570.25 55 L570.64 54.95 L571.04 54.9 L571.44 54.84 L571.83 54.79 L572.23 54.73 L572.63 54.68 L573.02 54.63 L573.42 54.57 L573.82 54.52 L574.21 54.47 L574.61 54.41 L575.01 54.36 L575.4 54.3 L575.8 54.25 L576.2 54.2 L576.59 54.14 L576.99 54.09 L577.39 54.04 L577.78 53.98 L578.18 53.93 L578.58 53.88 L578.97 53.82 L579.37 53.77 L579.77 53.72 L580.16 53.67 L580.56 53.61 L580.96 53.56 L581.35 53.51 L581.75 53.45 L582.15 53.4 L582.54 53.35 L582.94 53.3 L583.34 53.24 L583.73 53.19 L584.13 53.14 L584.53 53.09 L584.93 53.03 L585.32 52.98 L585.72 52.93 L586.12 52.88 L586.51 52.82 L586.91 52.77 L587.31 52.72 L587.7 52.67 L588.1 52.61 L588.5 52.56 L588.89 52.51 L589.29 52.46 L589.69 52.41 L590.08 52.35 L590.48 52.3 L590.88 52.25 L591.27 52.2 L591.67 52.15 L592.07 52.09 L592.47 52.04 L592.86 51.99 L593.26 51.94 L593.66 51.89 L594.05 51.84 L594.45 51.78 L594.85 51.73 L595.24 51.68 L595.64 51.63 L596.04 51.58 L596.43 51.53 L596.83 51.48 L597.23 51.43 L597.63 51.37 L598.02 51.32 L598.42 51.27 L598.82 51.22 L599.21 51.17 L599.61 51.12 L600.01 51.07 L600.4 51.02 L600.8 50.97 L601.2 50.92 L601.6 50.86 L601.99 50.81 L602.39 50.76 L602.79 50.71 L603.18 50.66 L603.58 50.61 L603.98 50.56 L604.37 50.51 L604.77 50.46 L605.17 50.41 L605.57 50.36 L605.96 50.31 L606.36 50.26 L606.76 50.21 L607.15 50.16 L607.55 50.11 L607.95 50.06 L608.35 50.01 L608.74 49.96 L609.14 49.91 L609.54 49.86 L609.93 49.81 L610.33 49.76 L610.73 49.71 L611.13 49.66 L611.52 49.61 L611.92 49.56 L612.32 49.51 L612.71 49.46 L613.11 49.41 L613.51 49.36 L613.91 49.31 L614.3 49.26 L614.7 49.21 L615.1 49.16 L615.49 49.11 L615.89 49.06 L616.29 49.01 L616.69 48.97 L617.08 48.92 L617.48 48.87 L617.88 48.82 L618.28 48.77 L618.67 48.72 L619.07 48.67 L619.47 48.62 L619.86 48.57 L620.26 48.52 L620.66 48.48 L621.06 48.43 L621.45 48.38 L621.85 48.33 L622.25 48.28 L622.65 48.23 L623.04 48.18 L623.44 48.13 L623.84 48.09 L624.23 48.04 L624.63 47.99 L625.03 47.94 L625.43 47.89 L625.82 47.84 L626.22 47.8 L626.62 47.75 L627.02 47.7 L627.41 47.65 L627.81 47.6 L628.21 47.56 L628.61 47.51 L629 47.46 L629.4 47.41 L629.8 47.36 L630.19 47.32 L630.59 47.27 L630.99 47.22 L631.39 47.17 L631.78 47.12 L632.18 47.08 L632.58 47.03 L632.98 46.98 L633.37 46.93 L633.77 46.89 L634.17 46.84 L634.57 46.79 L634.96 46.74 L635.36 46.7 L635.76 46.65 L636.16 46.6 L636.55 46.55 L636.95 46.51 L637.35 46.46 L637.75 46.41 L638.14 46.37 L638.54 46.32 L638.94 46.27 L639.34 46.23 L639.73 46.18 L640.13 46.13 L640.53 46.08 L640.93 46.04 L641.32 45.99 L641.72 45.94 L642.12 45.9 L642.52 45.85 L642.91 45.8 L643.31 45.76 L643.71 45.71 L644.11 45.66 L644.5 45.62 L644.9 45.57 L645.3 45.53 L645.7 45.48 L646.09 45.43 L646.49 45.39 L646.89 45.34 L647.29 45.29 L647.68 45.25 L648.08 45.2 L648.48 45.16 L648.88 45.11 L649.27 45.06 L649.67 45.02 L650.07 44.97 L650.47 44.93 L650.87 44.88 L651.26 44.83 L651.66 44.79 L652.06 44.74 L652.46 44.7 L652.85 44.65 L653.25 44.61 L653.65 44.56 L654.05 44.52 L654.44 44.47 L654.84 44.42 L655.24 44.38 L655.64 44.33 L656.03 44.29 L656.43 44.24 L656.83 44.2 L657.23 44.15 L657.63 44.11 L658.02 44.06 L658.42 44.02 L658.82 43.97 L659.22 43.93 L659.61 43.88 L660.01 43.84 L660.41 43.79 L660.81 43.75 L661.21 43.7 L661.6 43.66 L662 43.61 L662.4 43.57 L662.8 43.52 L663.19 43.48 L663.59 43.43 L663.99 43.39 L664.39 43.35 L664.79 43.3 L665.18 43.26 L665.58 43.21 L665.98 43.17 L666.38 43.12 L666.77 43.08 L667.17 43.03 L667.57 42.99 L667.97 42.95 L668.37 42.9 L668.76 42.86 L669.16 42.81 L669.56 42.77 L669.96 42.73 L670.35 42.68 L670.75 42.64 L671.15 42.59 L671.55 42.55 L671.95 42.51 L672.34 42.46 L672.74 42.42 L673.14 42.38 L673.54 42.33 L673.94 42.29 L674.33 42.24 L674.73 42.2 L675.13 42.16 L675.53 42.11 L675.92 42.07 L676.32 42.03 L676.72 41.98 L677.12 41.94 L677.52 41.9 L677.91 41.85 L678.31 41.81 L678.71 41.77 L679.11 41.72 L679.51 41.68 L679.9 41.64 L680.3 41.6 L680.7 41.55 L681.1 41.51 L681.5 41.47 L681.89 41.42 L682.29 41.38 L682.69 41.34 L683.09 41.3 L683.49 41.25 L683.88 41.21 L684.28 41.17 L684.68 41.12 L685.08 41.08 L685.48 41.04 L685.87 41 L686.27 40.95 L686.67 40.91 L687.07 40.87 L687.47 40.83 L687.86 40.79 L688.26 40.74 L688.66 40.7 L689.06 40.66 L689.46 40.62 L689.85 40.57 L690.25 40.53 L690.65 40.49 L691.05 40.45 L691.45 40.41 L691.84 40.36 L692.24 40.32 L692.64 40.28 L693.04 40.24 L693.44 40.2 L693.83 40.16 L694.23 40.11 L694.63 40.07 L695.03 40.03 L695.43 39.99 L695.82 39.95 L696.22 39.91 L696.62 39.86 L697.02 39.82 L697.42 39.78 L697.82 39.74 L698.21 39.7 L698.61 39.66 L699.01 39.62 L699.41 39.57 L699.81 39.53 L700.2 39.49 L700.6 39.45 L701 39.41 L701.4 39.37 L701.8 39.33 L702.19 39.29 L702.59 39.25 L702.99 39.21 L703.39 39.16 L703.79 39.12 L704.19 39.08 L704.58 39.04 L704.98 39 L705.38 38.96 L705.78 38.92 L706.18 38.88 L706.57 38.84 L706.97 38.8 L707.37 38.76 L707.77 38.72 L708.17 38.68 L708.57 38.64 L708.96 38.6 L709.36 38.56 L709.76 38.52 L710.16 38.48 L710.56 38.44 L710.96 38.39 L711.35 38.35 L711.75 38.31 L712.15 38.27 L712.55 38.23 L712.95 38.19 L713.34 38.15 L713.74 38.11 L714.14 38.07 L714.54 38.04 L714.94 38 L715.34 37.96 L715.73 37.92 L716.13 37.88 L716.53 37.84 L716.93 37.8 L717.33 37.76 L717.73 37.72 L718.12 37.68 L718.52 37.64 L718.92 37.6 L719.32 37.56 L719.72 37.52 L720.12 37.48 L720.51 37.44 L720.91 37.4 L721.31 37.36 L721.71 37.32 L722.11 37.28 L722.51 37.25 L722.9 37.21 L723.3 37.17 L723.7 37.13 L724.1 37.09 L724.5 37.05 L724.9 37.01 L725.29 36.97 L725.69 36.93 L726.09 36.89 L726.49 36.86 L726.89 36.82 L727.29 36.78 L727.68 36.74 L728.08 36.7 L728.48 36.66 L728.88 36.62 L729.28 36.59 L729.68 36.55 L730.07 36.51 L730.47 36.47 L730.87 36.43 L731.27 36.39 L731.67 36.36 L732.07 36.32 L732.47 36.28 L732.86 36.24 L733.26 36.2 L733.66 36.16 L734.06 36.13 L734.46 36.09 L734.86 36.05 L735.25 36.01 L735.65 35.97 L736.05 35.94 L736.45 35.9 L736.85 35.86 L737.25 35.82 L737.65 35.78 L738.04 35.75 L738.44 35.71 L738.84 35.67 L739.24 35.63 L739.64 35.6 L740.04 35.56 L740.43 35.52 L740.83 35.48 L741.23 35.45 L741.63 35.41 L742.03 35.37 L742.43 35.33 L742.83 35.3 L743.22 35.26 L743.62 35.22 L744.02 35.18 L744.42 35.15 L744.82 35.11 L745.22 35.07 L745.62 35.04 L746.01 35 L746.41 34.96 L746.81 34.93 L747.21 34.89 L747.61 34.85 L748.01 34.81 L748.41 34.78 L748.8 34.74 L749.2 34.7 L749.6 34.67 L750 34.63 L750.4 34.59 L750.8 34.56 L751.2 34.52 L751.59 34.48 L751.99 34.45 L752.39 34.41 L752.79 34.37 L753.19 34.34 L753.59 34.3 L753.99 34.27 L754.38 34.23 L754.78 34.19 L755.18 34.16 L755.58 34.12 L755.98 34.08 L756.38 34.05 L756.78 34.01 L757.17 33.98 L757.57 33.94 L757.97 33.9 L758.37 33.87 L758.77 33.83 L759.17 33.8 L759.57 33.76 L759.96 33.72 L760.36 33.69 L760.76 33.65 L761.16 33.62 L761.56 33.58 L761.96 33.54 L762.36 33.51 L762.76 33.47 L763.15 33.44 L763.55 33.4 L763.95 33.37 L764.35 33.33 L764.75 33.3 L765.15 33.26 L765.55 33.23 L765.94 33.19 L766.34 33.15 L766.74 33.12 L767.14 33.08 L767.54 33.05 L767.94 33.01 L768.34 32.98 L768.74 32.94 L769.13 32.91 L769.53 32.87 L769.93 32.84 L770.33 32.8 L770.73 32.77 L771.13 32.73 L771.53 32.7 L771.93 32.66 L772.32 32.63 L772.72 32.59 L773.12 32.56 L773.52 32.52 L773.92 32.49 L774.32 32.46 L774.72 32.42 L775.12 32.39 L775.51 32.35 L775.91 32.32 L776.31 32.28 L776.71 32.25 L777.11 32.21 L777.51 32.18 L777.91 32.14 L778.31 32.11 L778.7 32.08 L779.1 32.04 L779.5 32.01 L779.9 31.97 L780.3 31.94 L780.7 31.91 L781.1 31.87 L781.5 31.84 L781.9 31.8 L782.29 31.77 L782.69 31.74 L783.09 31.7 L783.49 31.67 L783.89 31.63 L784.29 31.6 L784.69 31.57 L785.09 31.53 L785.48 31.5" stroke="#00f" stroke-width="5.1" fill="none" stroke-linejoin="round"/>
<path d="M148.66 262.72 L148.82 261.12 L148.68 260.7 L148.83 260.32 L148.65 259.88 L148.81 259.5 L148.98 259.12 L148.82 258.7 L148.93 258.31 L148.97 257.91 L149.2 257.54 L148.91 257.09 L149.23 256.73 L149.25 256.33 L149.36 255.94 L149.69 255.59 L149.62 255.17 L149.5 254.75 L149.82 254.4 L150.1 254.04 L149.77 253.58 L149.7 253.16 L149.91 252.79 L150.18 252.43 L150.35 252.05 L150.29 251.64 L150.05 251.19 L150.59 250.88 L150.51 250.46 L150.31 250.01 L150.27 249.6 L150.53 249.24 L150.41 248.81 L150.8 248.48 L150.75 248.06 L150.85 247.67 L151.24 247.34 L150.87 246.86 L150.99 246.47 L150.91 246.05 L151.07 245.67 L151.3 245.31 L151.54 244.95 L151.58 244.55 L151.42 244.11 L151.8 243.78 L151.48 243.3 L151.85 242.97 L151.84 242.56 L152.07 242.2 L151.97 241.77 L152.38 241.45 L152.62 241.09 L152.75 240.71 L152.34 240.21 L152.72 239.88 L152.55 239.44 L152.65 239.05 L152.71 238.65 L153.08 238.33 L153.29 237.97 L153.13 237.51 L153.16 237.11 L153.27 236.73 L153.34 236.33 L153.32 235.91 L153.59 235.57 L153.59 235.15 L153.49 234.71 L154.01 234.43 L154.11 234.05 L154.35 233.7 L154.11 233.22 L154.58 232.93 L154.55 232.51 L154.63 232.12 L154.31 231.61 L154.77 231.32 L154.71 230.89 L155.39 230.67 L154.71 230.06 L155.38 229.83 L155.16 229.35 L155.43 229.02 L155.18 228.52 L155.7 228.26 L155.65 227.83 L156.16 227.56 L155.9 227.07 L156.21 226.74 L156.23 226.33 L156.31 225.93 L156.62 225.62 L156.53 225.16 L156.25 224.65 L156.7 224.38 L156.93 224.03 L157.31 223.74 L157.49 223.37 L157.3 222.89 L157.73 222.61 L157.6 222.14 L157.67 221.75 L157.94 221.42 L157.85 220.96 L158.3 220.7 L158.51 220.35 L158.75 220.01 L158.6 219.53 L158.87 219.2 L159.05 218.84 L159.03 218.4 L159.05 217.99 L159.46 217.71 L159.56 217.33 L159.64 216.93 L160.14 216.69 L159.52 216.01 L160.22 215.86 L159.99 215.34 L160.26 215.02 L160.2 214.56 L160.94 214.43 L160.41 213.78 L161.08 213.63 L160.85 213.09 L161.62 212.99 L161.49 212.5 L161.52 212.07 L161.77 211.75 L162.13 211.47 L162.19 211.06 L162.2 210.62 L162.81 210.46 L162.72 209.98 L162.78 209.57 L162.79 209.13 L163.03 208.8 L163.07 208.38 L163.18 207.98 L163.66 207.77 L164.09 207.54 L163.99 207.04 L164.16 206.68 L164.55 206.43 L164.35 205.88 L164.71 205.61 L164.79 205.21 L164.79 204.75 L165.36 204.6 L165.52 204.23 L165.72 203.89 L165.87 203.51 L165.75 202.99 L166.29 202.83 L166.4 202.43 L166.7 202.14 L166.8 201.74 L166.87 201.32 L167.48 201.21 L167.37 200.69 L167.41 200.25 L167.75 199.98 L167.83 199.56 L168.17 199.3 L168.38 198.96 L168.43 198.52 L168.85 198.31 L169.16 198.03 L169.33 197.67 L169.44 197.26 L169.95 197.11 L169.77 196.53 L170.04 196.22 L169.99 195.71 L170.37 195.48 L170.91 195.35 L170.65 194.71 L171.06 194.5 L171.37 194.22 L171.77 194.01 L171.75 193.51 L171.88 193.11 L172.25 192.89 L172.61 192.65 L172.93 192.38 L172.95 191.91 L173.01 191.46 L173.16 191.08 L173.64 190.93 L173.91 190.63 L173.95 190.17 L174.33 189.95 L174.28 189.41 L174.83 189.32 L174.88 188.86 L175.35 188.71 L175.56 188.37 L175.58 187.88 L175.67 187.45 L176.43 187.52 L176.55 187.11 L176.76 186.77 L176.89 186.36 L176.98 185.92 L177.46 185.79 L177.77 185.52 L177.65 184.92 L178.07 184.74 L178.36 184.45 L178.53 184.09 L179.01 183.95 L179.07 183.49 L178.94 182.86 L179.7 182.97 L180 182.69 L179.98 182.16 L180.45 182.03 L180.76 181.77 L181.26 181.66 L181.32 181.19 L181.64 180.94 L181.74 180.5 L182.06 180.25 L182.1 179.75 L182.35 179.44 L182.95 179.43 L183.15 179.07 L183.25 178.63 L183.4 178.23 L183.74 177.99 L184.11 177.79 L184.38 177.49 L184.75 177.28 L185.01 176.98 L184.87 176.31 L185.55 176.4 L185.81 176.08 L185.73 175.47 L186.13 175.29 L186.59 175.18 L186.93 174.95 L187.08 174.53 L187.21 174.11 L187.65 173.97 L187.94 173.69 L188.35 173.54 L188.47 173.1 L188.87 172.93 L189.01 172.5 L189.38 172.3 L189.45 171.81 L189.87 171.66 L190.34 171.56 L190.48 171.14 L190.7 170.79 L191.04 170.56 L191.21 170.16 L191.54 169.94 L192.02 169.85 L192.57 169.85 L192.53 169.22 L192.6 168.72 L193.08 168.64 L193.5 168.5 L193.53 167.96 L194.03 167.9 L194.09 167.38 L194.53 167.26 L194.83 166.99 L194.94 166.53 L195.49 166.53 L195.79 166.26 L195.88 165.77 L196.45 165.8 L196.45 165.2 L197.03 165.25 L197.2 164.84 L197.83 164.96 L197.78 164.29 L198.15 164.11 L198.17 163.52 L198.64 163.45 L198.99 163.24 L199.42 163.12 L199.57 162.69 L199.76 162.29 L200.41 162.44 L200.42 161.84 L200.89 161.77 L200.77 161.01 L201.67 161.45 L201.95 161.16 L201.96 160.56 L202.51 160.59 L202.53 159.99 L202.84 159.74 L203.29 159.65 L203.59 159.38 L203.9 159.14 L204.23 158.9 L204.32 158.38 L204.78 158.31 L205.09 158.06 L205.31 157.69 L205.89 157.78 L206.04 157.33 L206.29 156.99 L206.63 156.77 L206.93 156.52 L207.47 156.55 L207.59 156.06 L208.14 156.11 L208.11 155.42 L208.71 155.54 L209.01 155.27 L209.43 155.16 L209.4 154.47 L209.91 154.48 L210.23 154.24 L210.31 153.68 L210.66 153.47 L211.11 153.41 L211.19 152.85 L211.59 152.72 L212.13 152.76 L212.59 152.71 L212.65 152.12 L213.17 152.15 L213.33 151.7 L213.61 151.4 L213.93 151.16 L214.24 150.9 L214.78 150.97 L215.08 150.7 L215.41 150.48 L215.85 150.4 L215.91 149.8 L216.23 149.56 L216.49 149.24 L217.13 149.44 L217.2 148.85 L217.72 148.9 L217.85 148.39 L218.1 148.03 L218.55 147.99 L218.95 147.86 L219.41 147.82 L219.55 147.32 L219.91 147.13 L220.18 146.82 L220.42 146.46 L220.86 146.4 L221.12 146.07 L221.64 146.12 L221.8 145.65" stroke="#00f" stroke-width="6.0" fill="none" stroke-linejoin="round" stroke-linecap="round"/>
<path d="M212.13 152.76 L212.59 152.71 L212.65 152.12 L213.17 152.15 L213.33 151.7 L213.61 151.4 L213.93 151.16 L214.24 150.9 L214.78 150.97 L215.08 150.7 L215.41 150.48 L215.85 150.4 L215.91 149.8 L216.23 149.56 L216.49 149.24 L217.13 149.44 L217.2 148.85 L217.72 148.9 L217.85 148.39 L218.1 148.03 L218.55 147.99 L218.95 147.86 L219.41 147.82 L219.55 147.32 L219.91 147.13 L220.18 146.82 L220.42 146.46 L220.86 146.4 L221.12 146.07 L221.64 146.12 L221.8 145.65 L222.19 145.5 L222.44 145.16 L222.79 144.96 L223.13 144.76 L223.42 144.47 L223.86 144.4 L224.22 144.23 L224.6 144.07 L224.76 143.59 L225.11 143.39 L225.44 143.17 L225.93 143.18 L226.34 143.08 L226.55 142.66 L226.88 142.44 L227.17 142.15 L227.57 142.02 L227.91 141.83 L228.16 141.46 L228.6 141.42 L228.96 141.23 L229.24 140.93 L229.61 140.77 L229.99 140.62 L230.3 140.35 L230.57 140.03 L230.96 139.91 L231.37 139.81 L231.62 139.44 L232.04 139.36 L232.33 139.08 L232.66 138.85 L232.99 138.61 L233.37 138.47 L233.7 138.25 L234.05 138.05 L234.39 137.84 L234.74 137.64 L235.08 137.44 L235.43 137.24 L235.77 137.03 L236.12 136.83 L236.47 136.63 L236.81 136.43 L237.16 136.23 L237.5 136.03 L237.85 135.83 L238.2 135.63 L238.55 135.43 L238.89 135.23 L239.24 135.04 L239.59 134.84 L239.94 134.64 L240.29 134.45 L240.64 134.25 L240.99 134.06 L241.34 133.86 L241.69 133.67 L242.04 133.47 L242.39 133.28 L242.74 133.09 L243.09 132.9 L243.44 132.7 L243.79 132.51 L244.14 132.32 L244.5 132.13 L244.85 131.94 L245.2 131.75 L245.55 131.57 L245.91 131.38 L246.26 131.19 L246.62 131 L246.97 130.81 L247.32 130.63 L247.68 130.44 L248.03 130.26 L248.39 130.07 L248.74 129.89 L249.1 129.7 L249.45 129.52 L249.81 129.34 L250.17 129.15 L250.52 128.97 L250.88 128.79 L251.24 128.61 L251.59 128.43 L251.95 128.25 L252.31 128.07 L252.67 127.89 L253.02 127.71 L253.38 127.53 L253.74 127.36 L254.1 127.18 L254.46 127 L254.82 126.82 L255.18 126.65 L255.54 126.47 L255.9 126.3 L256.26 126.12 L256.62 125.95 L256.98 125.77 L257.34 125.6 L257.7 125.43 L258.06 125.26 L258.42 125.08 L258.78 124.91 L259.15 124.74 L259.51 124.57 L259.87 124.4 L260.23 124.23 L260.6 124.06 L260.96 123.89 L261.32 123.73 L261.69 123.56" stroke="#00f" stroke-width="5.5" fill="none" stroke-linejoin="round" stroke-linecap="round"/>
<path d="M142.6 290 L142.6 237.2 L144.17 237.64 L144.32 238.23 L144.47 238.81 L144.63 239.39 L144.8 239.96 L144.98 240.54" stroke="#ffa500" stroke-width="5.1" fill="none" stroke-linejoin="bevel"/>
<path d="M144.63 239.39 L144.8 239.96 L144.98 240.54 L145.16 241.11 L145.36 241.68 L145.56 242.24 L145.78 242.8 L146 243.36 L146.23 243.91 L146.47 244.47 L146.72 245.01 L146.98 245.55 L147.25 246.09 L147.53 246.62 L147.82 247.15 L148.11 247.68 L148.41 248.19 L148.73 248.71 L149.05 249.22 L149.38 249.72 L149.71 250.22 L150.06 250.71 L150.41 251.19 L150.77 251.67 L151.14 252.15 L151.52 252.61 L151.91 253.08 L152.3 253.53 L152.7 253.98 L153.1 254.43 L153.51 254.86 L153.93 255.29 L154.36 255.72 L154.79 256.14 L155.22 256.55 L155.67 256.95 L156.12 257.35 L156.57 257.75 L157.03 258.14 L157.49 258.52 L157.96 258.89 L158.44 259.26 L158.91 259.63 L159.4 259.98 L159.88 260.34 L160.37 260.68 L160.87 261.02 L161.37 261.36 L161.87 261.69 L162.38 262.01 L162.88 262.33 L163.4 262.65 L163.91 262.96 L164.43 263.26 L164.95 263.56 L165.47 263.85 L166 264.14 L166.53 264.43 L167.06 264.71 L167.6 264.99 L168.13 265.26 L168.67 265.53 L169.21 265.79 L169.75 266.05 L170.29 266.31 L170.84 266.56 L171.39 266.81 L171.94 267.05 L172.49 267.29 L173.04 267.53 L173.59 267.76 L174.15 268 L174.7 268.22 L175.26 268.45 L175.82 268.67 L176.38 268.89 L176.94 269.11 L177.5 269.32 L178.06 269.53 L178.62 269.74 L179.19 269.95 L179.75 270.15 L180.32 270.35 L180.89 270.55 L181.45 270.75 L182.02 270.94 L182.59 271.13 L183.16 271.32 L183.73 271.51 L184.3 271.7 L184.88 271.88 L185.45 272.06 L186.02 272.24 L186.6 272.41 L187.17 272.59 L187.75 272.76 L188.33 272.93 L188.9 273.1 L189.48 273.26 L190.06 273.43 L190.64 273.59 L191.22 273.75 L191.8 273.9 L192.38 274.06 L192.96 274.21 L193.54 274.36 L194.12 274.51 L194.71 274.65 L195.29 274.8 L195.87 274.94 L196.46 275.08 L197.04 275.22 L197.63 275.36 L198.21 275.49 L198.8 275.62 L199.38 275.75 L199.97 275.88 L200.56 276.01 L201.15 276.13 L201.73 276.26 L202.32 276.38 L202.91 276.5 L203.5 276.62 L204.09 276.73 L204.68 276.85 L205.27 276.96 L205.86 277.07 L206.45 277.18 L207.04 277.29 L207.63 277.39 L208.23 277.5 L208.82 277.6 L209.41 277.7 L210 277.8 L210.6 277.9 L211.19 278 L211.78 278.09 L212.38 278.19 L212.97 278.28 L213.56 278.37 L214.16 278.46 L214.75 278.55 L215.35 278.63 L215.94 278.72 L216.54 278.8 L217.13 278.89 L217.73 278.97 L218.32 279.05 L218.92 279.13 L219.51 279.2 L220.11 279.28 L220.71 279.35 L221.3 279.43 L221.9 279.5 L222.49 279.57 L223.09 279.64 L223.69 279.71 L224.29 279.78 L224.88 279.85 L225.48 279.91 L226.08 279.98 L226.67 280.04 L227.27 280.1 L227.87 280.17 L228.47 280.23 L229.07 280.29 L229.66 280.35 L230.26 280.4 L230.86 280.46 L231.46 280.52 L232.06 280.57 L232.65 280.63 L233.25 280.68 L233.85 280.74 L234.45 280.79 L235.05 280.84 L235.65 280.89 L236.25 280.94 L236.84 280.99 L237.44 281.04 L238.04 281.09 L238.64 281.13 L239.24 281.18 L239.84 281.23 L240.44 281.27 L241.04 281.32 L241.64 281.36 L242.24 281.41 L242.84 281.45 L243.44 281.49 L244.03 281.53 L244.63 281.58 L245.23 281.62 L245.83 281.66 L246.43 281.7 L247.03 281.74 L247.63 281.78 L248.23 281.82 L248.83 281.86 L249.43 281.9 L250.03 281.94 L250.63 281.97 L251.23 282.01 L251.83 282.05 L252.43 282.09 L253.03 282.13 L253.63 282.16 L254.23 282.2 L254.83 282.24 L255.43 282.27 L256.03 282.31 L256.63 282.35 L257.23 282.38 L257.83 282.42 L258.43 282.46 L259.03 282.49 L259.62 282.53 L260.22 282.56 L260.82 282.6 L261.42 282.63 L262.02 282.67 L262.62 282.7 L263.22 282.74 L263.82 282.78 L264.42 282.81 L265.02 282.85 L265.62 282.88 L266.22 282.91 L266.82 282.95 L267.42 282.98 L268.02 283.02 L268.62 283.05 L269.22 283.09 L269.82 283.12 L270.42 283.15 L271.02 283.19 L271.62 283.22 L272.22 283.25 L272.82 283.29 L273.42 283.32 L274.02 283.35 L274.62 283.39 L275.22 283.42 L275.82 283.45 L276.42 283.48 L277.02 283.52 L277.62 283.55 L278.22 283.58 L278.82 283.61 L279.42 283.65 L280.02 283.68 L280.62 283.71 L281.22 283.74 L281.82 283.77 L282.42 283.8 L283.02 283.84 L283.62 283.87 L284.22 283.9 L284.82 283.93 L285.42 283.96 L286.02 283.99 L286.62 284.02 L287.22 284.05 L287.82 284.08 L288.42 284.11 L289.02 284.14 L289.62 284.17 L290.22 284.2 L290.82 284.23 L291.42 284.26 L292.02 284.29 L292.62 284.32 L293.22 284.35 L293.82 284.38 L294.42 284.41 L295.02 284.44 L295.62 284.47 L296.22 284.5 L296.82 284.53 L297.42 284.56 L298.02 284.58 L298.62 284.61 L299.22 284.64 L299.82 284.67 L300.42 284.7 L301.03 284.73 L301.63 284.75 L302.23 284.78 L302.83 284.81 L303.43 284.84 L304.03 284.86 L304.63 284.89 L305.23 284.92 L305.83 284.95 L306.43 284.97 L307.03 285 L307.63 285.03 L308.23 285.05 L308.83 285.08 L309.43 285.11 L310.03 285.13 L310.63 285.16 L311.23 285.19 L311.83 285.21 L312.43 285.24 L313.03 285.26 L313.63 285.29 L314.23 285.32 L314.83 285.34 L315.43 285.37 L316.03 285.39 L316.63 285.42 L317.23 285.44 L317.83 285.47 L318.43 285.49 L319.03 285.52 L319.63 285.54 L320.23 285.57 L320.83 285.59 L321.43 285.62 L322.03 285.64 L322.64 285.67 L323.24 285.69 L323.84 285.71 L324.44 285.74 L325.04 285.76 L325.64 285.79 L326.24 285.81 L326.84 285.83 L327.44 285.86 L328.04 285.88 L328.64 285.9 L329.24 285.93 L329.84 285.95 L330.44 285.97 L331.04 286 L331.64 286.02 L332.24 286.04 L332.84 286.06 L333.44 286.09 L334.04 286.11 L334.64 286.13 L335.24 286.15 L335.84 286.18 L336.44 286.2 L337.04 286.22 L337.65 286.24 L338.25 286.26 L338.85 286.29 L339.45 286.31 L340.05 286.33 L340.65 286.35 L341.25 286.37 L341.85 286.39 L342.45 286.41 L343.05 286.43 L343.65 286.46 L344.25 286.48 L344.85 286.5 L345.45 286.52 L346.05 286.54 L346.65 286.56 L347.25 286.58 L347.85 286.6 L348.45 286.62 L349.05 286.64 L349.66 286.66 L350.26 286.68 L350.86 286.7 L351.46 286.72 L352.06 286.74 L352.66 286.76 L353.26 286.78 L353.86 286.8 L354.46 286.82 L355.06 286.84 L355.66 286.86 L356.26 286.87 L356.86 286.89 L357.46 286.91 L358.06 286.93 L358.66 286.95 L359.26 286.97 L359.86 286.99 L360.47 287.01 L361.07 287.02 L361.67 287.04 L362.27 287.06 L362.87 287.08 L363.47 287.1 L364.07 287.11 L364.67 287.13 L365.27 287.15 L365.87 287.17 L366.47 287.18 L367.07 287.2 L367.67 287.22 L368.27 287.24 L368.87 287.25 L369.47 287.27 L370.07 287.29 L370.68 287.31 L371.28 287.32 L371.88 287.34 L372.48 287.36 L373.08 287.37 L373.68 287.39 L374.28 287.41 L374.88 287.42 L375.48 287.44 L376.08 287.45 L376.68 287.47 L377.28 287.49 L377.88 287.5 L378.48 287.52 L379.08 287.53 L379.68 287.55 L380.29 287.57 L380.89 287.58 L381.49 287.6 L382.09 287.61 L382.69 287.63 L383.29 287.64 L383.89 287.66 L384.49 287.67 L385.09 287.69 L385.69 287.7 L386.29 287.72 L386.89 287.73 L387.49 287.75 L388.09 287.76 L388.69 287.78 L389.3 287.79 L389.9 287.81 L390.5 287.82 L391.1 287.83 L391.7 287.85 L392.3 287.86 L392.9 287.88 L393.5 287.89 L394.1 287.9 L394.7 287.92 L395.3 287.93 L395.9 287.95 L396.5 287.96 L397.1 287.97 L397.7 287.99 L398.31 288 L398.91 288.01 L399.51 288.03 L400.11 288.04 L400.71 288.05 L401.31 288.06 L401.91 288.08 L402.51 288.09 L403.11 288.1 L403.71 288.12 L404.31 288.13 L404.91 288.14 L405.51 288.15 L406.11 288.17 L406.72 288.18 L407.32 288.19 L407.92 288.2 L408.52 288.21 L409.12 288.23 L409.72 288.24 L410.32 288.25 L410.92 288.26 L411.52 288.27 L412.12 288.29 L412.72 288.3 L413.32 288.31 L413.92 288.32 L414.53 288.33 L415.13 288.34 L415.73 288.35 L416.33 288.37 L416.93 288.38 L417.53 288.39 L418.13 288.4 L418.73 288.41 L419.33 288.42 L419.93 288.43 L420.53 288.44 L421.13 288.45 L421.73 288.46 L422.33 288.47 L422.94 288.48 L423.54 288.49 L424.14 288.5 L424.74 288.51 L425.34 288.52 L425.94 288.54 L426.54 288.55 L427.14 288.56 L427.74 288.57 L428.34 288.57 L428.94 288.58 L429.54 288.59 L430.14 288.6 L430.75 288.61 L431.35 288.62 L431.95 288.63 L432.55 288.64 L433.15 288.65 L433.75 288.66 L434.35 288.67 L434.95 288.68 L435.55 288.69 L436.15 288.7 L436.75 288.71 L437.35 288.72 L437.96 288.72 L438.56 288.73 L439.16 288.74 L439.76 288.75 L440.36 288.76 L440.96 288.77 L441.56 288.78 L442.16 288.78 L442.76 288.79 L443.36 288.8 L443.96 288.81 L444.56 288.82 L445.16 288.83 L445.77 288.83 L446.37 288.84 L446.97 288.85 L447.57 288.86 L448.17 288.87 L448.77 288.87 L449.37 288.88 L449.97 288.89 L450.57 288.9 L451.17 288.9 L451.77 288.91 L452.37 288.92 L452.97 288.93 L453.58 288.93 L454.18 288.94 L454.78 288.95 L455.38 288.96 L455.98 288.96 L456.58 288.97 L457.18 288.98 L457.78 288.98 L458.38 288.99 L458.98 289 L459.58 289 L460.18 289.01 L460.79 289.02 L461.39 289.02 L461.99 289.03 L462.59 289.04 L463.19 289.04 L463.79 289.05 L464.39 289.06 L464.99 289.06 L465.59 289.07 L466.19 289.08 L466.79 289.08 L467.39 289.09 L468 289.09 L468.6 289.1 L469.2 289.11 L469.8 289.11 L470.4 289.12 L471 289.12 L471.6 289.13 L472.2 289.14 L472.8 289.14 L473.4 289.15 L474 289.15 L474.6 289.16 L475.21 289.16 L475.81 289.17 L476.41 289.17 L477.01 289.18 L477.61 289.19 L478.21 289.19 L478.81 289.2 L479.41 289.2 L480.01 289.21 L480.61 289.21 L481.21 289.22 L481.81 289.22 L482.42 289.23 L483.02 289.23 L483.62 289.24 L484.22 289.24 L484.82 289.25 L485.42 289.25 L486.02 289.26 L486.62 289.26 L487.22 289.26 L487.82 289.27 L488.42 289.27 L489.02 289.28 L489.63 289.28 L490.23 289.29 L490.83 289.29 L491.43 289.3 L492.03 289.3 L492.63 289.3 L493.23 289.31 L493.83 289.31 L494.43 289.32 L495.03 289.32 L495.63 289.32 L496.23 289.33 L496.84 289.33 L497.44 289.34 L498.04 289.34 L498.64 289.34 L499.24 289.35 L499.84 289.35 L500.44 289.36 L501.04 289.36 L501.64 289.36 L502.24 289.37 L502.84 289.37 L503.44 289.37 L504.05 289.38 L504.65 289.38 L505.25 289.38 L505.85 289.39 L506.45 289.39 L507.05 289.39 L507.65 289.4 L508.25 289.4 L508.85 289.4 L509.45 289.41 L510.05 289.41 L510.65 289.41 L511.26 289.42 L511.86 289.42 L512.46 289.42 L513.06 289.42 L513.66 289.43 L514.26 289.43 L514.86 289.43 L515.46 289.44 L516.06 289.44 L516.66 289.44 L517.26 289.44 L517.86 289.45 L518.47 289.45 L519.07 289.45 L519.67 289.45 L520.27 289.46 L520.87 289.46 L521.47 289.46 L522.07 289.46 L522.67 289.47 L523.27 289.47 L523.87 289.47 L524.47 289.47 L525.07 289.48 L525.68 289.48 L526.28 289.48 L526.88 289.48 L527.48 289.48 L528.08 289.49 L528.68 289.49 L529.28 289.49 L529.88 289.49 L530.48 289.49 L531.08 289.5 L531.68 289.5 L532.29 289.5 L532.89 289.5 L533.49 289.5 L534.09 289.51 L534.69 289.51 L535.29 289.51 L535.89 289.51 L536.49 289.51 L537.09 289.52 L537.69 289.52 L538.29 289.52 L538.89 289.52 L539.5 289.52 L540.1 289.52 L540.7 289.53 L541.3 289.53 L541.9 289.53 L542.5 289.53 L543.1 289.53 L543.7 289.53 L544.3 289.53 L544.9 289.54 L545.5 289.54 L546.1 289.54 L546.71 289.54 L547.31 289.54 L547.91 289.54 L548.51 289.54 L549.11 289.54 L549.71 289.55 L550.31 289.55 L550.91 289.55 L551.51 289.55 L552.11 289.55 L552.71 289.55 L553.31 289.55 L553.92 289.55 L554.52 289.55 L555.12 289.56 L555.72 289.56 L556.32 289.56 L556.92 289.56 L557.52 289.56 L558.12 289.56 L558.72 289.56 L559.32 289.56 L559.92 289.56 L560.53 289.56 L561.13 289.57 L561.73 289.57 L562.33 289.57 L562.93 289.57 L563.53 289.57 L564.13 289.57 L564.73 289.57 L565.33 289.57 L565.93 289.57 L566.53 289.57 L567.13 289.57 L567.74 289.57 L568.34 289.57 L568.94 289.57 L569.54 289.58 L570.14 289.58 L570.74 289.58 L571.34 289.58 L571.94 289.58 L572.54 289.58 L573.14 289.58 L573.74 289.58 L574.34 289.58 L574.95 289.58 L575.55 289.58 L576.15 289.58 L576.75 289.58 L577.35 289.58 L577.95 289.58 L578.55 289.58 L579.15 289.58 L579.75 289.58 L580.35 289.58 L580.95 289.58 L581.55 289.58 L582.16 289.59 L582.76 289.59 L583.36 289.59 L583.96 289.59 L584.56 289.59 L585.16 289.59 L585.76 289.59 L586.36 289.59 L586.96 289.59 L587.56 289.59 L588.16 289.59 L588.77 289.59 L589.37 289.59 L589.97 289.59 L590.57 289.59 L591.17 289.59 L591.77 289.59 L592.37 289.59 L592.97 289.59 L593.57 289.59 L594.17 289.59 L594.77 289.59 L595.37 289.59 L595.98 289.59 L596.58 289.59 L597.18 289.59 L597.78 289.59 L598.38 289.59 L598.98 289.59 L599.58 289.59 L600.18 289.59 L600.78 289.59 L601.38 289.59 L601.98 289.59 L602.58 289.59 L603.19 289.59 L603.79 289.59 L604.39 289.59 L604.99 289.59 L605.59 289.59 L606.19 289.59 L606.79 289.59 L607.39 289.59 L607.99 289.59 L608.59 289.59 L609.19 289.59 L609.79 289.59 L610.4 289.6 L611 289.6 L611.6 289.6 L612.2 289.6 L612.8 289.6 L613.4 289.6 L614 289.6 L614.6 289.6 L615.2 289.6 L615.8 289.6 L616.4 289.6 L617.01 289.6 L617.61 289.6 L618.21 289.6 L618.81 289.6 L619.41 289.6 L620.01 289.6 L620.61 289.6 L621.21 289.6 L621.81 289.6 L622.41 289.6 L623.01 289.6 L623.61 289.6 L624.22 289.6 L624.82 289.6 L625.42 289.6 L626.02 289.6 L626.62 289.6 L627.22 289.6 L627.82 289.6 L628.42 289.6 L629.02 289.6 L629.62 289.6 L630.22 289.6 L630.82 289.6 L631.43 289.6 L632.03 289.6 L632.63 289.6 L633.23 289.6 L633.83 289.6 L634.43 289.6 L635.03 289.6 L635.63 289.6 L636.23 289.6 L636.83 289.6 L637.43 289.6 L638.03 289.6 L638.64 289.6 L639.24 289.61 L639.84 289.61 L640.44 289.61 L641.04 289.61 L641.64 289.61 L642.24 289.61 L642.84 289.61 L643.44 289.61 L644.04 289.61 L644.64 289.61 L645.25 289.61 L645.85 289.61 L646.45 289.61 L647.05 289.61 L647.65 289.61 L648.25 289.61 L648.85 289.61 L649.45 289.61 L650.05 289.61 L650.65 289.61 L651.25 289.61 L651.85 289.62 L652.46 289.62 L653.06 289.62 L653.66 289.62 L654.26 289.62 L654.86 289.62 L655.46 289.62 L656.06 289.62 L656.66 289.62 L657.26 289.62 L657.86 289.62 L658.46 289.62 L659.06 289.62 L659.67 289.62 L660.27 289.63 L660.87 289.63 L661.47 289.63 L662.07 289.63 L662.67 289.63 L663.27 289.63 L663.87 289.63 L664.47 289.63 L665.07 289.63 L665.67 289.63 L666.27 289.64 L666.88 289.64 L667.48 289.64 L668.08 289.64 L668.68 289.64 L669.28 289.64 L669.88 289.64 L670.48 289.64 L671.08 289.64 L671.68 289.65 L672.28 289.65 L672.88 289.65 L673.49 289.65 L674.09 289.65 L674.69 289.65 L675.29 289.65 L675.89 289.65 L676.49 289.66 L677.09 289.66 L677.69 289.66 L678.29 289.66 L678.89 289.66 L679.49 289.66 L680.09 289.66 L680.7 289.67 L681.3 289.67 L681.9 289.67 L682.5 289.67 L683.1 289.67 L683.7 289.67 L684.3 289.68 L684.9 289.68 L685.5 289.68 L686.1 289.68 L686.7 289.68 L687.3 289.69 L687.91 289.69 L688.51 289.69 L689.11 289.69 L689.71 289.69 L690.31 289.69 L690.91 289.7 L691.51 289.7 L692.11 289.7 L692.71 289.7 L693.31 289.7 L693.91 289.71 L694.51 289.71 L695.12 289.71 L695.72 289.71 L696.32 289.72 L696.92 289.72 L697.52 289.72 L698.12 289.72 L698.72 289.73 L699.32 289.73 L699.92 289.73 L700.52 289.73 L701.12 289.74 L701.73 289.74 L702.33 289.74 L702.93 289.74 L703.53 289.75 L704.13 289.75 L704.73 289.75 L705.33 289.75 L705.93 289.76 L706.53 289.76 L707.13 289.76 L707.73 289.76 L708.33 289.77 L708.94 289.77 L709.54 289.77 L710.14 289.78 L710.74 289.78 L711.34 289.78 L711.94 289.79 L712.54 289.79 L713.14 289.79 L713.74 289.8 L714.34 289.8 L714.94 289.8 L715.54 289.81 L716.15 289.81 L716.75 289.81 L717.35 289.82 L717.95 289.82 L718.55 289.82 L719.15 289.83 L719.75 289.83 L720.35 289.83 L720.95 289.84 L721.55 289.84 L722.15 289.84 L722.75 289.85 L723.36 289.85 L723.96 289.86 L724.56 289.86 L725.16 289.86 L725.76 289.87 L726.36 289.87 L726.96 289.88 L727.56 289.88 L728.16 289.88 L728.76 289.89 L729.36 289.89 L729.96 289.9 L730.57 289.9 L731.17 289.91 L731.77 289.91 L732.37 289.91 L732.97 289.92 L733.57 289.92 L734.17 289.93 L734.77 289.93 L735.37 289.94 L735.97 289.94 L736.57 289.95 L737.17 289.95 L737.78 289.96 L738.38 289.96 L738.98 289.97 L739.58 289.97 L740.18 289.98 L740.78 289.98 L741.38 289.99 L741.98 289.99 L742.58 290 L743.18 290 L743.78 290.01 L744.38 290.01 L744.99 290.02 L745.59 290.02 L746.19 290.03 L746.79 290.03 L747.39 290.04 L747.99 290.05 L748.59 290.05 L749.19 290.06 L749.79 290.06 L750.39 290.07 L750.99 290.07 L751.59 290.08 L752.2 290.09 L752.8 290.09 L753.4 290.1 L754 290.1 L754.6 290.11 L755.2 290.12 L755.8 290.12 L756.4 290.13 L757 290.14 L757.6 290.14 L758.2 290.15 L758.8 290.15 L759.41 290.16 L760.01 290.17 L760.61 290.17 L761.21 290.18 L761.81 290.19 L762.41 290.19 L763.01 290.2 L763.61 290.21 L764.21 290.22 L764.81 290.22 L765.41 290.23 L766.01 290.24 L766.61 290.24 L767.22 290.25 L767.82 290.26 L768.42 290.27 L769.02 290.27 L769.62 290.28 L770.22 290.29 L770.82 290.3 L771.42 290.3 L772.02 290.31 L772.62 290.32 L773.22 290.33 L773.82 290.33 L774.43 290.34 L775.03 290.35 L775.63 290.36 L776.23 290.37 L776.83 290.37 L777.43 290.38 L778.03 290.39 L778.63 290.4 L779.23 290.41 L779.83 290.42 L780.43 290.42 L781.03 290.43 L781.63 290.44 L782.24 290.45 L782.84 290.46 L783.44 290.47 L784.04 290.48 L784.64 290.49 L785.24 290.49 L785.84 290.5" stroke="#ffa500" stroke-width="5.1" fill="none" stroke-linejoin="round"/>
<path d="M142.6 103.1 L142.6 375.4 L143.17 375.21 L143.45 375.09 L143.73 374.98 L144.01 374.87 L144.29 374.76 L144.57 374.65 L144.85 374.54 L145.13 374.43 L145.41 374.32 L145.69 374.22 L145.97 374.11 L146.25 374.01 L146.53 373.9 L146.81 373.8" stroke="#a52a2a" stroke-width="5.1" fill="none" stroke-linejoin="miter" stroke-miterlimit="10"/>
<path d="M145.41 374.32 L145.69 374.22 L145.97 374.11 L146.25 374.01 L146.53 373.9 L146.81 373.8 L147.1 373.7 L147.38 373.59 L147.66 373.49 L147.94 373.39 L148.23 373.29 L148.51 373.19 L148.79 373.09 L149.08 372.99 L149.36 372.9 L149.64 372.8 L149.93 372.7 L150.21 372.61 L150.5 372.51 L150.78 372.42 L151.07 372.32 L151.35 372.23 L151.64 372.14 L151.92 372.04 L152.21 371.95 L152.5 371.86 L152.78 371.77 L153.07 371.68 L153.35 371.59 L153.64 371.5 L153.93 371.41 L154.21 371.32 L154.5 371.23 L154.79 371.14 L155.07 371.05 L155.36 370.96 L155.65 370.88 L155.94 370.79 L156.22 370.7 L156.51 370.61 L156.8 370.53 L157.08 370.44 L157.37 370.35 L157.66 370.27 L157.95 370.18 L158.24 370.1 L158.52 370.01 L158.81 369.93 L159.1 369.84 L159.39 369.76 L159.67 369.67 L159.96 369.59 L160.25 369.5 L160.54 369.42 L160.83 369.33 L161.11 369.25 L161.4 369.16 L161.69 369.08 L161.98 368.99 L162.27 368.91 L162.55 368.82 L162.84 368.74 L163.13 368.65 L163.42 368.57 L163.71 368.48 L163.99 368.4 L164.28 368.31 L164.57 368.23 L164.86 368.14 L165.15 368.05 L165.43 367.97 L165.72 367.88 L166.01 367.8 L166.3 367.71 L166.58 367.62 L166.87 367.54 L167.16 367.45 L167.44 367.36 L167.73 367.27 L168.02 367.18 L168.31 367.1 L168.59 367.01 L168.88 366.92 L169.17 366.83 L169.45 366.74 L169.74 366.65 L170.02 366.56 L170.31 366.46 L170.6 366.37 L170.88 366.28 L171.17 366.19 L171.45 366.09 L171.74 366 L172.02 365.91 L172.31 365.81 L172.59 365.72 L172.88 365.62 L173.16 365.53 L173.45 365.43 L173.73 365.33 L174.01 365.23 L174.3 365.13 L174.58 365.03 L174.86 364.93 L175.15 364.83 L175.43 364.73 L175.71 364.63 L175.99 364.53 L176.28 364.42 L176.56 364.32 L176.84 364.21 L177.12 364.11 L177.4 364 L177.68 363.9 L177.96 363.79 L178.24 363.68 L178.52 363.57 L178.8 363.46 L179.08 363.35 L179.36 363.23 L179.63 363.12 L179.91 363.01 L180.19 362.89 L180.47 362.78 L180.74 362.66 L181.02 362.54 L181.3 362.42 L181.57 362.3 L181.85 362.18 L182.12 362.06 L182.4 361.94 L182.67 361.82 L182.94 361.7 L183.22 361.57 L183.49 361.45 L183.76 361.32 L184.04 361.2 L184.31 361.07 L184.58 360.95 L184.85 360.82 L185.12 360.69 L185.4 360.56 L185.67 360.43 L185.94 360.3 L186.21 360.17 L186.48 360.04 L186.75 359.91 L187.02 359.78 L187.29 359.65 L187.56 359.52 L187.83 359.39 L188.1 359.26 L188.37 359.12 L188.64 358.99 L188.91 358.86 L189.18 358.72 L189.45 358.59 L189.71 358.46 L189.98 358.32 L190.25 358.19 L190.52 358.06 L190.79 357.92 L191.06 357.79 L191.33 357.65 L191.59 357.52 L191.86 357.38 L192.13 357.25 L192.4 357.12 L192.67 356.98 L192.94 356.85 L193.21 356.71 L193.47 356.58 L193.74 356.44 L194.01 356.31 L194.28 356.18 L194.55 356.04 L194.82 355.91 L195.09 355.78 L195.36 355.64 L195.63 355.51 L195.9 355.38 L196.17 355.25 L196.44 355.12 L196.71 354.99 L196.98 354.86 L197.25 354.73 L197.52 354.61 L197.8 354.48 L198.07 354.36 L198.35 354.24 L198.62 354.12 L198.9 354.01 L199.18 353.89 L199.45 353.78 L199.73 353.67 L200.01 353.56 L200.29 353.45 L200.58 353.35 L200.86 353.25 L201.14 353.15 L201.43 353.06 L201.71 352.97 L202 352.88 L202.29 352.8 L202.58 352.72 L202.87 352.64 L203.16 352.58 L203.46 352.52 L203.74 352.43 L204.05 352.43 L204.34 352.32 L204.63 352.26 L204.95 352.37 L205.26 352.44 L205.5 351.94 L205.85 352.43 L206.12 352.06 L206.41 351.84 L206.73 352.15 L207.02 352 L207.32 352.13 L207.63 351.9 L207.93 352.07 L208.23 352.08 L208.53 351.82 L208.81 352.58 L209.13 352.03 L209.39 353.09 L209.7 352.72 L210.02 352.43 L210.3 353 L210.66 350.52 L210.92 352.29 L211.22 351.65 L211.53 352.37 L211.77 350.62 L212.12 351.98 L212.4 351.79 L212.76 352.41 L213.06 352.36 L213.25 351.52 L213.5 351.25 L213.65 350.46 L214.31 352.41 L214.71 352.78 L214.95 352.4 L215.04 351.48 L215.39 351.67 L215.69 351.63 L215.94 351.37 L216.12 350.93 L216.4 350.83 L216.84 351.26 L217.17 351.31 L217.85 352.58 L217.73 351.11 L218.08 351.24 L218.57 351.86 L218.2 349.42 L218.71 350.12 L218.9 349.67 L219.34 350.13 L219.65 350.15 L220.1 350.7 L220.59 351.43 L220.53 349.93 L220.71 349.37 L221.32 350.66 L221.22 348.85 L221.62 349.27 L221.8 348.63 L222.4 350.02 L222.67 349.88 L223.22 351.15 L223.47 350.86 L223.48 349.31 L223.69 348.73 L224.19 349.86 L224.47 349.74 L224.78 349.76 L224.95 348.93 L225.23 348.75 L225.81 350.71 L225.82 348.56 L226.18 349.01 L226.43 348.54 L226.82 349.33 L227.04 348.49 L227.28 347.84 L227.63 348.34 L228 349.1 L228.27 348.7 L228.59 348.96 L228.84 348.06 L229.23 349.6 L229.48 348.59 L229.75 347.99 L230.08 348.45 L230.38 348.34 L230.69 348.71 L230.99 348.89 L231.29 349.28 L231.59 349.49 L231.87 350.04 L232.2 348.46 L232.5 348.38 L232.81 348.32 L233.1 348.63 L233.41 348.61 L233.78 347.47 L233.91 350.05 L234.28 349.03 L234.61 348.77 L234.82 349.68 L235.09 349.98 L235.43 349.51 L235.8 348.98 L236.1 348.99 L236.28 349.94 L236.61 349.69 L237.12 348.25 L237.27 349.31 L237.52 349.66 L237.79 349.82 L238.04 350.14 L238.65 348.44 L238.7 349.82 L239.03 349.69 L239.36 349.55 L239.39 350.85 L240.03 349.3 L240.32 349.39 L240.46 350.15 L240.57 350.96 L241.19 349.66 L241.34 350.34 L241.96 349.14 L242.09 349.82 L242.18 350.63 L242.66 350.04 L242.68 351.06 L243.43 349.58 L243.29 351.1 L244.06 349.6 L244.27 349.95 L244.63 349.85 L244.52 351.18 L244.71 351.54 L244.71 352.49 L245.28 351.74 L245.7 351.42 L245.97 351.58 L245.79 352.96 L247.06 350.32 L246.89 351.66 L247.18 351.74 L247.34 352.19 L247.5 352.59 L248.44 351.01 L248.45 351.81 L248.56 352.36 L249.05 351.95 L249.14 352.54 L248.97 353.72 L249.71 352.72 L250.24 352.26 L250.27 352.95 L250.47 353.25 L251.05 352.67 L251.14 353.22 L251.64 352.84 L251.49 353.91 L251.83 353.89 L252.36 353.46 L252.63 353.59 L252.67 354.22 L253.33 353.54 L252.91 355.1 L253.51 354.55 L252.88 356.51 L253.94 355.04 L254.31 354.97 L254.92 354.42 L254.79 355.34 L254.95 355.69 L255.93 354.44 L255.67 355.61 L255.87 355.89 L255.78 356.7 L256.25 356.44 L256.62 356.38 L256.45 357.35 L256.76 357.39 L258.31 355.16 L257.14 357.95 L258.17 356.68 L257.77 358.04 L258.27 357.75 L258.71 357.56 L258.88 357.89 L258.73 358.77 L260.23 356.69 L259.22 359.11 L259.98 358.36 L260.62 357.86 L260.63 358.44 L261.33 357.83 L261.2 358.65 L261.72 358.35 L261.49 359.35 L261.73 359.53 L262.33 359.11 L262.44 359.51 L262.59 359.85 L262.51 360.58 L262.55 361.09 L262.64 361.53 L263.53 360.62 L263.91 360.56 L263.72 361.48 L264.6 360.57 L263.8 362.51 L265.25 360.66 L265.65 360.58 L265.56 361.32 L265.93 361.28 L266.35 361.18 L265.51 363.14 L266.4 362.24 L266.98 361.87 L266.36 363.46 L267.48 362.21 L267.52 362.71 L268.57 361.57 L267.82 363.38 L267.97 363.7 L268.16 363.96 L268.63 363.78 L269.66 362.68 L269.37 363.72 L269.71 363.73 L268.8 365.77 L270.36 363.83 L270.27 364.54 L270.39 364.92 L270.8 364.83 L270.43 365.98 L271.41 364.99 L271.96 364.68 L271.4 366.13 L272.09 365.59 L272.43 365.62 L272.43 366.18 L273.85 364.53 L272.74 366.81 L272.52 367.69 L273.43 366.84 L273.6 367.13 L274.22 366.72 L274.63 366.65 L274.19 367.86 L274.93 367.28 L275.76 366.58 L275.02 368.24 L275.51 368.04 L276.41 367.23 L275.84 368.63 L276.2 368.63 L276.41 368.85 L276.79 368.82 L277.81 367.85 L276.99 369.59 L277.93 368.74 L277.66 369.68 L277.86 369.92 L278 370.24 L279.42 368.71 L278.57 370.46 L278.82 370.64 L278.96 370.95 L279.75 370.35 L279.88 370.69 L280.16 370.81 L280.29 371.14 L280.92 370.77 L280.72 371.57 L280.78 372.01 L280.9 372.35 L282.41 370.77 L281.63 372.37 L282.1 372.23 L282.18 372.63 L282.85 372.21 L283.28 372.15 L283.16 372.81 L282.93 373.63 L283.52 373.34 L283.96 373.25 L283.7 374.1 L283.95 374.26 L284.13 374.53 L285.08 373.76 L285.56 373.62 L285.36 374.38 L284.84 375.56 L285.54 375.14 L285.27 375.99 L286.15 375.33 L286.27 375.67 L287.85 374.11 L286.55 376.29 L286.43 376.93 L288.05 375.34 L288 375.89 L287.92 376.48 L288.16 376.67 L287.87 377.51 L288.68 376.98 L288.37 377.84 L289.57 376.82 L289.98 376.79 L289.25 378.18 L288.97 379.01 L288.92 379.56 L290.26 378.36 L290.63 378.39 L290.59 378.91 L291.45 378.33 L290.73 379.69 L290.99 379.85 L292.27 378.75 L293.2 378.08 L291.63 380.49 L292.08 380.41 L292.25 380.67 L292.62 380.7 L293.74 379.8 L292.47 381.83 L293.51 381.04 L292.86 382.29 L294.42 380.88 L294.71 380.98 L295.34 380.7 L294.12 382.65 L294.77 382.33 L295.03 382.49 L294.74 383.32 L295.92 382.35 L295.79 382.98 L295.34 384 L295.31 384.51 L296.31 383.78 L297.2 383.16 L296.6 384.36 L297.32 383.96 L297.72 383.95 L297.59 384.58 L297.69 384.93 L298.02 384.99 L299.15 384.1 L297.9 386.09 L298.34 386.03 L299.19 385.47 L298.67 386.58 L298.5 387.26 L299.64 386.34 L299.95 386.43 L299.95 386.91 L299.59 387.83 L299.98 387.83 L301.08 386.94 L300.57 388.05 L300.95 388.06 L301.42 387.96 L302.26 387.4 L301.53 388.78 L301.84 388.88 L302.48 388.56 L302.91 388.5 L303.41 388.36 L302.83 389.56 L302.67 390.25 L304.48 388.46 L304.12 389.39 L304.33 389.61 L305.26 388.91 L305.19 389.48 L304.79 390.48 L305.18 390.47 L305.56 390.48 L305.55 390.97 L305.59 391.4 L306.68 390.5 L306.41 391.33 L306.55 391.64 L307.18 391.32 L307.06 391.96 L306.65 393 L306.82 393.26 L307.26 393.18 L307.81 392.95 L307.69 393.62 L308.79 392.66 L308.76 393.19 L308.99 393.38 L309.84 392.74 L309.18 394.14 L309.65 394.01 L310.76 393 L309.96 394.6 L310.41 394.49 L310.55 394.81 L310.77 395.02 L311.2 394.94 L311.58 394.93 L310.94 396.34 L311.53 396.03 L311.46 396.65 L312.2 396.12 L312.16 396.71 L313.26 395.65 L312.83 396.8 L313.87 395.82 L313.71 396.58 L313.26 397.77 L313.94 397.3 L313.95 397.83 L314.14 398.08 L314.84 397.59 L314.66 398.39 L315.66 397.43 L315.15 398.76 L316.02 397.97 L315.89 398.72 L315.64 399.67 L316.61 398.71 L316.99 398.67 L317.95 397.73 L317.53 398.94 L316.56 401.04 L318.33 398.8 L318.65 398.85 L318.18 400.17 L318.63 400.01 L318.93 400.09 L318.54 401.3 L319.46 400.38 L319.71 400.54 L320.28 400.18 L320.43 400.51 L320.75 400.56 L321.02 400.69 L321.1 401.15 L321.15 401.64 L321.56 401.54 L321.85 401.63 L321.82 402.28 L322.46 401.78 L323.37 400.82 L323.09 401.89 L323.14 402.39 L323.27 402.77 L323.65 402.72 L323.52 403.54 L323.96 403.38 L324.53 402.98 L324.61 403.45 L324.92 403.51 L324.59 404.7 L325.28 404.1 L325.94 403.54 L325.89 404.24 L325.79 405.04 L326.23 404.86 L327.13 403.87 L326.8 405.07 L327.15 405.06 L327.12 405.73 L327.99 404.78 L327.85 405.66 L328.74 404.66 L328.63 405.49 L328.77 405.86 L328.78 406.45 L328.98 406.71 L329.82 405.82 L329.28 407.42 L330.41 405.98 L330.13 407.12 L330.5 407.06 L331.12 406.56 L331.36 406.75 L331.48 407.16 L331.71 407.36 L332.04 407.38 L331.56 408.9 L331.9 408.89 L332.3 408.79 L332.38 409.28 L332.51 409.66 L333.96 407.61 L333.66 408.8 L334.01 408.78 L334.34 408.8 L334.22 409.65 L334.71 409.38 L334.88 409.69 L335.11 409.9 L335.54 409.74 L335.76 409.97 L336.55 409.13 L335.82 411.13 L336.72 410.08 L337.16 409.9 L337.14 410.56 L337.82 409.94 L337.34 411.46 L337.74 411.35 L338.42 410.73 L338.8 410.66 L338.36 412.09 L339.38 410.86 L339.14 411.92 L339.73 411.46 L340.35 410.96 L340.27 411.73 L340.96 411.1 L340.33 412.88 L340.5 413.18 L340.89 413.1 L341.24 413.09 L341.46 413.31 L342.18 412.62 L342.56 412.56 L342.58 413.14 L342.29 414.29 L342.84 413.91 L342.88 414.45 L343.95 413.15 L343.71 414.21 L344.36 413.64 L344.3 414.37 L344.37 414.86 L345.2 414 L344.71 415.47 L345.32 415.02 L345.69 414.97 L346.1 414.86 L345.43 416.64 L347.59 413.45 L346.94 415.2 L346.9 415.87 L346.39 417.37 L347.46 416.11 L347.76 416.18 L347.86 416.62 L348 416.98 L348.55 416.63 L348.76 416.86 L348.92 417.19 L349.83 416.2 L349.9 416.69 L349.39 418.16 L350.05 417.63 L350.21 417.95 L350.78 417.57 L350.61 418.46 L351.14 418.15 L350.51 419.82 L351.33 419.01 L351.17 419.87 L351.92 419.19 L352.59 418.63 L353.15 418.28 L353.24 418.71 L353.13 419.5 L353.18 420 L353.96 419.27 L354.69 418.62 L354.46 419.61 L354.8 419.62 L354.27 421.1 L355.07 420.35 L355.68 419.9 L355.25 421.22 L355.88 420.75 L355.94 421.23 L355.96 421.79 L356.64 421.23 L356.53 422.01 L356.6 422.48 L357.46 421.62 L357.11 422.8 L357.69 422.41 L357.59 423.16 L358.07 422.94 L358.73 422.41 L358.4 423.55 L358.72 423.61 L359.79 422.39 L359.54 423.41 L359.86 423.45 L360.15 423.56 L359.56 425.14 L361.08 423.15 L360.8 424.23 L360.92 424.62 L361.1 424.9 L361.36 425.04 L362.45 423.79 L362.13 424.93 L362.68 424.58 L361.87 426.54 L362.05 426.84 L363.1 425.64 L363.53 425.5 L363.14 426.76 L364.08 425.74 L363.77 426.87 L365.05 425.29 L365.68 424.8 L365.47 425.76 L365.3 426.64 L365.56 426.78 L365.93 426.75 L366.54 426.31 L365.71 428.32 L366.34 427.83 L366.75 427.72 L366.86 428.14 L367.08 428.35 L367.48 428.27 L368.52 427.08 L368.18 428.25 L369.2 427.1 L368.29 429.26 L369.04 428.57 L368.48 430.14 L369.4 429.14 L369.15 430.17 L370.16 429.03 L369.91 430.06 L370.7 429.3 L370.64 430 L371.65 428.85 L371.5 429.71 L371.53 430.26 L371.77 430.45 L372.28 430.16 L372.38 430.58 L372.49 430.99 L372.7 431.24 L372.84 431.63 L373 431.97 L373.69 431.32 L374.09 431.19 L373.85 432.31 L375.11 430.47 L374.88 431.6 L374.74 432.58 L375.27 432.16 L375.86 431.57 L376.41 431.04 L376.45 431.68 L376.32 432.75 L376.99 431.85 L376.86 433.01 L377.59 431.85 L377.47 433.09 L377.67 433.47 L377.78 434.16 L378.36 433.25 L378.66 433.26 L378.88 433.62 L379.47 432.22 L379.5 433.6 L379.82 433.45 L380.1 433.57 L380.37 433.8 L380.76 432.45 L380.94 434.77 L381.27 434.85 L381.54 432.88 L381.84 433.35 L382.15 433.59 L382.49 433.94 L382.82 434.08 L383.35 435.25 L383.18 432.8 L383.77 434.05 L383.74 432.74 L384.24 433.43 L384.4 432.96 L385.29 434.58 L385.48 434.15 L385.21 432.62 L385.85 433.37 L385.89 432.7 L386.14 432.55 L386.89 433.32 L386.52 431.99 L386.84 431.96 L387.52 432.5 L387.18 431.41 L388.02 432.14 L388.32 432.03 L388.39 431.59 L388.69 431.48 L388.59 430.86 L388.71 430.54 L389.04 430.47 L389.78 430.85 L389.53 430.13 L390.11 430.3 L389.71 429.47 L390.15 429.48 L390.4 429.31 L390.66 429.14 L390.72 428.8 L391.35 428.95 L391.48 428.66 L391.34 428.15 L391.46 427.86 L391.93 427.85 L392.04 427.56 L392.4 427.46 L392.38 427.06 L392.96 427.12 L392.96 426.74 L392.8 426.26 L393.06 426.07 L393.41 425.95 L393.55 425.68 L393.53 425.3 L393.68 425.04 L393.7 424.69 L394.37 424.78 L394.36 424.42 L394.39 424.07 L394.75 423.95 L394.44 423.39 L394.95 423.36 L395.15 423.14 L395.35 422.91 L395.48 422.63 L395.49 422.28 L395.77 422.11 L395.89 421.82 L395.97 421.52 L396 421.17 L396.53 421.17 L396.4 420.72 L396.61 420.5 L396.84 420.29 L397.26 420.22 L397.4 419.95 L397.41 419.58 L397.76 419.47 L397.87 419.18 L397.92 418.83 L398.37 418.81 L398.31 418.38 L398.72 418.33 L398.58 417.81 L399.01 417.79 L399.37 417.72 L399.37 417.3 L399.67 417.17 L399.89 416.97 L400.33 417.01 L400.05 416.25 L400.55 416.36 L400.71 416.09 L400.96 415.92 L401.08 415.58 L401.63 415.82 L401.74 415.46 L401.89 415.14 L402.2 415.07 L402.51 415 L402.61 414.56 L402.96 414.58 L403.43 414.87 L403.5 414.31 L403.8 414.23 L404.13 414.27 L404.33 413.95 L404.79 414.35 L404.99 414.02 L405.24 413.81 L405.55 413.81 L405.81 413.64 L406.1 413.56 L406.34 413.2 L406.67 413.28 L407.02 413.61 L407.3 413.44 L407.58 413.27 L407.87 413.1 L408.2 413.45 L408.49 413.25 L408.79 413.42 L409.09 413.46 L409.39 413.16 L409.69 413.09 L409.98 413.51 L410.3 412.96 L410.58 413.46 L410.89 413.29 L411.2 413.19 L411.45 413.68 L411.78 413.41 L412.06 413.59 L412.3 413.96 L412.66 413.63 L412.94 413.75 L413.25 413.72 L413.57 413.64 L413.86 413.72 L414.14 413.84 L414.43 413.94 L414.76 413.86 L415.09 413.83 L415.34 414.04 L415.59 414.24 L415.82 414.5 L416.17 414.41 L416.33 414.82 L416.66 414.81 L416.95 414.9 L417.19 415.08 L417.48 415.17 L417.96 414.88 L417.84 415.77 L418.26 415.62 L418.63 415.57 L418.86 415.78 L419.09 415.97 L419.39 416.07 L419.65 416.22 L419.78 416.56 L420.29 416.36 L420.47 416.63 L420.74 416.78 L420.81 417.18 L421.06 417.34 L421.07 417.8 L421.29 418 L421.65 418.04 L422.1 417.99 L422.16 418.37 L422.63 418.32 L422.74 418.64 L422.92 418.89 L422.98 419.25 L423.02 419.62 L423.42 419.65 L423.8 419.71 L423.84 420.08 L423.96 420.37 L424.14 420.62 L424.41 420.78 L424.74 420.9 L424.71 421.3 L424.66 421.72 L425.34 421.58 L425.48 421.85 L425.69 422.06 L425.52 422.56 L425.91 422.65 L425.78 423.11 L426.34 423.09 L426.17 423.56 L426.49 423.71 L426.87 423.81 L426.94 424.13 L426.83 424.56 L427.25 424.64 L427.42 424.89 L427.63 425.11 L427.47 425.57 L427.76 425.74 L428.2 425.83 L428.19 426.18 L428.25 426.49 L428.61 426.63 L428.47 427.06 L428.97 427.12 L428.98 427.46 L429.15 427.71 L429.55 427.83 L429.42 428.25 L429.52 428.53 L429.57 428.85 L429.44 429.25 L429.98 429.31 L430.12 429.58 L430.37 429.78 L430.43 430.09 L430.49 430.4 L430.75 430.6 L430.98 430.82 L430.54 431.39 L431.01 431.48 L431.01 431.82 L431.37 431.97 L431.63 432.18 L431.68 432.48 L431.75 432.79 L431.7 433.15 L431.91 433.38 L431.85 433.76 L432.21 433.9 L432.27 434.22 L432.4 434.49 L432.52 434.76 L432.69 435.01 L432.84 435.27 L432.94 435.57 L433.5 435.59 L433.49 435.94 L433.65 436.2 L433.95 436.36 L434.06 436.64 L434.11 436.97 L434.08 437.34 L434.3 437.56 L434.33 437.9 L434.87 437.9 L434.91 438.24 L435.29 438.34 L435.45 438.59 L435.6 438.84 L435.43 439.36 L435.63 439.58 L436.08 439.61 L436.14 439.95 L436.59 439.96 L436.66 440.3 L436.83 440.54 L437.09 440.71 L437.3 440.92 L437.33 441.31 L437.56 441.51 L437.62 441.89 L438.07 441.85 L438.29 442.06 L438.41 442.37 L438.77 442.42 L439.01 442.6 L439.23 442.8 L439.35 443.13 L439.79 443.05 L439.98 443.3 L440.18 443.54 L440.48 443.63 L440.6 443.98 L441.03 443.88 L441.08 444.34 L441.5 444.26 L441.7 444.49 L441.9 444.75 L442.06 445.07 L442.56 444.81 L442.74 445.08 L443 445.24 L443.23 445.44 L443.5 445.57 L443.71 445.81 L444.06 445.79 L444.28 446.02 L444.41 446.44 L444.88 446.16 L445.05 446.5 L445.36 446.54 L445.61 446.73 L445.95 446.7 L446.22 446.82 L446.45 447.04 L446.73 447.16 L446.9 447.54 L447.35 447.22 L447.62 447.36 L447.82 447.66 L448.02 447.98 L448.41 447.81 L448.76 447.73 L448.97 448.02 L449.24 448.15 L449.59 448.07 L449.85 448.23 L450.08 448.5 L450.43 448.4 L450.74 448.4 L451.02 448.51 L451.33 448.5 L451.48 449.08 L451.86 448.82 L452.15 448.93 L452.51 448.73 L452.81 448.74 L452.98 449.3 L453.28 449.32 L453.59 449.34 L453.81 449.71 L454.12 449.71 L454.43 449.73 L454.8 449.44 L455.03 449.78 L455.34 449.78 L455.68 449.63 L455.88 450.13 L456.2 450.09 L456.51 450.07 L456.83 449.99 L457.08 450.26 L457.43 450.03 L457.7 450.25 L458 450.26 L458.34 450.03 L458.67 449.85 L458.93 450.12 L459.18 450.51 L459.5 450.36 L459.75 450.78 L460.06 450.71 L460.37 450.68 L460.67 450.7 L460.95 450.88 L461.25 450.86 L461.53 451.07 L461.85 450.92 L462.17 450.81 L462.47 450.78 L462.78 450.76 L463.05 451.03 L463.38 450.73 L463.66 450.95 L463.97 450.93 L464.26 451.03 L464.56 450.98 L464.86 451.07 L465.16 451.04 L465.46 451.09 L465.76 451.05 L466.06 451.11 L466.36 451.07 L466.66 451.15 L466.96 451.18 L467.26 451.23 L467.55 451.29 L467.85 451.31 L468.15 451.29 L468.45 451.3 L468.75 451.32 L469.06 451.28 L469.35 451.34 L469.65 451.35 L469.95 451.36 L470.25 451.37 L470.55 451.39 L470.85 451.4 L471.15 451.41 L471.45 451.43 L471.75 451.44 L472.05 451.45 L472.35 451.46 L472.65 451.47 L472.95 451.49 L473.25 451.5 L473.55 451.51 L473.85 451.52 L474.15 451.53 L474.45 451.54 L474.75 451.55 L475.05 451.56 L475.35 451.57 L475.65 451.59 L475.95 451.6 L476.25 451.61 L476.55 451.62 L476.85 451.63 L477.15 451.64 L477.45 451.66 L477.75 451.67 L478.05 451.68 L478.35 451.69 L478.65 451.71 L478.95 451.72 L479.25 451.74 L479.55 451.75 L479.85 451.76 L480.15 451.78 L480.45 451.79 L480.75 451.81 L481.05 451.82 L481.35 451.84 L481.65 451.86 L481.95 451.87 L482.25 451.89 L482.55 451.9 L482.85 451.92 L483.15 451.94 L483.45 451.96 L483.75 451.97 L484.05 451.99 L484.35 452.01 L484.65 452.03 L484.95 452.04 L485.25 452.06 L485.55 452.08 L485.85 452.1 L486.15 452.12 L486.45 452.14 L486.75 452.15 L487.05 452.17 L487.35 452.19 L487.65 452.21 L487.95 452.23 L488.25 452.25 L488.55 452.27 L488.85 452.29 L489.15 452.31 L489.44 452.33 L489.74 452.35 L490.04 452.37 L490.34 452.39 L490.64 452.41 L490.94 452.43 L491.24 452.45 L491.54 452.47 L491.84 452.49 L492.14 452.52 L492.44 452.54 L492.74 452.56 L493.04 452.58 L493.34 452.6 L493.64 452.62 L493.94 452.64 L494.24 452.66 L494.54 452.68 L494.84 452.7 L495.14 452.73 L495.44 452.75 L495.73 452.77 L496.03 452.79 L496.33 452.81 L496.63 452.83 L496.93 452.85 L497.23 452.87 L497.53 452.89 L497.83 452.92 L498.13 452.94 L498.43 452.96 L498.73 452.98 L499.03 453 L499.33 453.02 L499.63 453.04 L499.93 453.06 L500.23 453.08 L500.53 453.1 L500.83 453.13 L501.13 453.15 L501.43 453.17 L501.72 453.19 L502.02 453.21 L502.32 453.23 L502.62 453.25 L502.92 453.27 L503.22 453.29 L503.52 453.31 L503.82 453.33 L504.12 453.35 L504.42 453.37 L504.72 453.39 L505.02 453.41 L505.32 453.43 L505.62 453.45 L505.92 453.47 L506.22 453.5 L506.52 453.52 L506.82 453.54 L507.12 453.56 L507.42 453.58 L507.72 453.6 L508.01 453.62 L508.31 453.64 L508.61 453.66 L508.91 453.68 L509.21 453.71 L509.51 453.73 L509.81 453.75 L510.11 453.77 L510.41 453.79 L510.71 453.81 L511.01 453.84 L511.31 453.86 L511.61 453.88 L511.91 453.9 L512.21 453.93 L512.51 453.95 L512.81 453.97 L513.1 454 L513.4 454.02 L513.7 454.04 L514 454.07 L514.3 454.09 L514.6 454.11 L514.9 454.14 L515.2 454.16 L515.5 454.19 L515.8 454.21 L516.1 454.24 L516.4 454.26 L516.7 454.29 L516.99 454.31 L517.29 454.34 L517.59 454.37 L517.89 454.39 L518.19 454.42 L518.49 454.45 L518.79 454.48 L519.09 454.5 L519.39 454.53 L519.69 454.56 L519.98 454.59 L520.28 454.62 L520.58 454.65 L520.88 454.68 L521.18 454.7 L521.48 454.73 L521.78 454.77 L522.08 454.8 L522.37 454.83 L522.67 454.86 L522.97 454.89 L523.27 454.92 L523.57 454.95 L523.87 454.99 L524.17 455.02 L524.46 455.05 L524.76 455.09 L525.06 455.12 L525.36 455.16 L525.66 455.19 L525.96 455.23 L526.25 455.26 L526.55 455.3 L526.85 455.34 L527.15 455.37 L527.45 455.41 L527.74 455.45 L528.04 455.49 L528.34 455.52 L528.64 455.56 L528.93 455.6 L529.23 455.64 L529.53 455.68 L529.83 455.72 L530.12 455.77 L530.42 455.81 L530.72 455.85 L531.02 455.89 L531.31 455.93 L531.61 455.98 L531.91 456.02 L532.2 456.07 L532.5 456.11 L532.8 456.16 L533.09 456.2 L533.39 456.25 L533.69 456.3 L533.98 456.35 L534.28 456.39 L534.58 456.44 L534.87 456.49 L535.17 456.54 L535.46 456.59 L535.76 456.65 L536.06 456.7 L536.35 456.75 L536.65 456.81 L536.94 456.86 L537.24 456.92 L537.53 456.97 L537.83 457.03 L538.12 457.09 L538.42 457.14 L538.71 457.2 L539 457.26 L539.3 457.32 L539.59 457.39 L539.89 457.45 L540.18 457.51 L540.47 457.58 L540.76 457.64 L541.06 457.71 L541.35 457.78 L541.64 457.84 L541.94 457.91 L542.23 457.98 L542.52 458.05 L542.81 458.13 L543.1 458.2 L543.39 458.27 L543.68 458.35 L543.97 458.42 L544.26 458.5 L544.55 458.58 L544.84 458.66 L545.13 458.74 L545.42 458.82 L545.71 458.91 L546 458.99 L546.28 459.08 L546.57 459.16 L546.86 459.25 L547.15 459.34 L547.43 459.43 L547.72 459.52 L548 459.62 L548.29 459.71 L548.57 459.81 L548.86 459.9 L549.14 460 L549.42 460.1 L549.71 460.2 L549.99 460.3 L550.27 460.41 L550.55 460.51 L550.83 460.62 L551.11 460.73 L551.39 460.84 L551.67 460.95 L551.95 461.06 L552.23 461.18 L552.5 461.29 L552.78 461.41 L553.06 461.53 L553.33 461.65 L553.6 461.77 L553.88 461.9 L554.15 462.02 L554.42 462.15 L554.69 462.28 L554.96 462.41 L555.23 462.54 L555.5 462.67 L555.77 462.81 L556.04 462.95 L556.3 463.09 L556.57 463.23 L556.83 463.37 L557.1 463.51 L557.36 463.66 L557.62 463.81 L557.88 463.96 L558.14 464.11 L558.4 464.26 L558.66 464.41 L558.92 464.57 L559.17 464.72 L559.43 464.88 L559.68 465.04 L559.94 465.2 L560.19 465.36 L560.44 465.53 L560.69 465.69 L560.94 465.86 L561.19 466.02 L561.44 466.19 L561.69 466.36 L561.93 466.53 L562.18 466.71 L562.42 466.88 L562.67 467.05 L562.91 467.23 L563.16 467.41 L563.4 467.58 L563.64 467.76 L563.88 467.94 L564.12 468.12 L564.36 468.3 L564.6 468.49 L564.83 468.67 L565.07 468.85 L565.31 469.04 L565.54 469.22 L565.78 469.41 L566.01 469.6 L566.25 469.79 L566.48 469.98 L566.71 470.16 L566.95 470.36 L567.18 470.55 L567.41 470.74 L567.64 470.93 L567.87 471.12 L568.1 471.32 L568.33 471.51 L568.55 471.71 L568.78 471.9 L569.01 472.1 L569.24 472.29 L569.46 472.49 L569.69 472.69 L569.92 472.89 L570.14 473.09 L570.37 473.28 L570.59 473.48 L570.81 473.68 L571.04 473.88 L571.26 474.08 L571.49 474.28 L571.71 474.49 L571.93 474.69 L572.15 474.89 L572.38 475.09 L572.6 475.29 L572.82 475.5 L573.04 475.7 L573.26 475.9 L573.48 476.1 L573.7 476.31 L573.93 476.51 L574.15 476.71 L574.37 476.92 L574.59 477.12 L574.81 477.32 L575.03 477.53 L575.25 477.73 L575.47 477.94 L575.69 478.14 L575.91 478.34 L576.13 478.55 L576.35 478.75 L576.57 478.96 L576.79 479.16 L577.01 479.36 L577.23 479.57 L577.45 479.77 L577.67 479.98 L577.89 480.18 L578.12 480.38 L578.34 480.58 L578.56 480.78 L578.79 480.98 L579.01 481.18 L579.24 481.38 L579.46 481.58 L579.69 481.77 L579.92 481.97 L580.15 482.16 L580.38 482.35 L580.61 482.54 L580.85 482.73 L581.08 482.92 L581.32 483.1 L581.56 483.28 L581.8 483.46 L582.04 483.64 L582.29 483.81 L582.53 483.98 L582.78 484.15 L583.03 484.32 L583.28 484.48 L583.54 484.64 L583.79 484.8 L584.05 484.95 L584.31 485.1 L584.58 485.24 L584.84 485.38 L585.11 485.52 L585.38 485.65 L585.65 485.78 L585.92 485.91 L586.2 486.03 L586.48 486.14 L586.75 486.25 L587.04 486.36 L587.32 486.46 L587.6 486.56 L587.89 486.65 L588.18 486.74 L588.46 486.82 L588.75 486.9 L589.04 486.97 L589.34 487.04 L589.63 487.1 L589.92 487.16 L590.22 487.22 L590.52 487.27 L590.81 487.32 L591.11 487.36 L591.41 487.4 L591.71 487.43 L592 487.45 L592.3 487.48 L592.6 487.49 L592.9 487.5 L593.2 487.51 L593.5 487.51 L593.8 487.51 L594.1 487.5 L594.4 487.48 L594.7 487.46 L595 487.43 L595.3 487.4 L595.6 487.36 L595.9 487.31 L596.19 487.26 L596.49 487.21 L596.78 487.14 L597.07 487.08 L597.36 487 L597.65 486.92 L597.94 486.84 L598.23 486.75 L598.51 486.66 L598.8 486.56 L599.08 486.45 L599.36 486.34 L599.64 486.23 L599.91 486.11 L600.19 485.99 L600.46 485.87 L600.73 485.74 L601 485.6 L601.27 485.46 L601.53 485.32 L601.79 485.18 L602.06 485.03 L602.31 484.88 L602.57 484.72 L602.83 484.57 L603.08 484.41 L603.33 484.24 L603.58 484.08 L603.83 483.91 L604.08 483.74 L604.33 483.57 L604.57 483.39 L604.81 483.21 L605.05 483.03 L605.29 482.85 L605.53 482.67 L605.77 482.49 L606 482.3 L606.24 482.11 L606.47 481.92 L606.7 481.73 L606.93 481.54 L607.16 481.35 L607.39 481.15 L607.62 480.95 L607.84 480.76 L608.07 480.56 L608.29 480.36 L608.52 480.16 L608.74 479.96 L608.96 479.76 L609.19 479.56 L609.41 479.35 L609.63 479.15 L609.85 478.95 L610.07 478.74 L610.29 478.54 L610.51 478.33 L610.73 478.13 L610.95 477.92 L611.17 477.72 L611.39 477.51 L611.6 477.31 L611.82 477.1 L612.04 476.9 L612.26 476.69 L612.48 476.49 L612.7 476.28 L612.92 476.07 L613.13 475.87 L613.35 475.66 L613.57 475.46 L613.79 475.25 L614.01 475.05 L614.23 474.84 L614.45 474.63 L614.67 474.43 L614.89 474.23 L615.11 474.02 L615.33 473.82 L615.55 473.61 L615.77 473.41 L615.99 473.21 L616.21 473 L616.43 472.8 L616.65 472.6 L616.88 472.4 L617.1 472.19 L617.32 471.99 L617.54 471.79 L617.77 471.59 L617.99 471.39 L618.22 471.19 L618.44 471 L618.67 470.8 L618.9 470.6 L619.12 470.41 L619.35 470.21 L619.58 470.02 L619.81 469.82 L620.04 469.63 L620.27 469.44 L620.5 469.24 L620.73 469.05 L620.97 468.86 L621.2 468.68 L621.43 468.49 L621.67 468.3 L621.9 468.11 L622.14 467.93 L622.38 467.75 L622.62 467.56 L622.86 467.38 L623.1 467.2 L623.34 467.02 L623.58 466.85 L623.82 466.67 L624.07 466.49 L624.31 466.32 L624.56 466.15 L624.8 465.98 L625.05 465.81 L625.3 465.64 L625.55 465.47 L625.8 465.31 L626.05 465.15 L626.31 464.98 L626.56 464.82 L626.82 464.67 L627.07 464.51 L627.33 464.35 L627.59 464.2 L627.85 464.05 L628.11 463.9 L628.37 463.75 L628.63 463.61 L628.9 463.47 L629.16 463.32 L629.43 463.19 L629.69 463.05 L629.96 462.91 L630.23 462.78 L630.5 462.65 L630.77 462.52 L631.05 462.4 L631.32 462.27 L631.59 462.15 L631.87 462.03 L632.15 461.91 L632.42 461.8 L632.7 461.69 L632.98 461.58 L633.26 461.47 L633.54 461.36 L633.82 461.26 L634.11 461.16 L634.39 461.06 L634.67 460.96 L634.96 460.87 L635.24 460.78 L635.53 460.69 L635.82 460.6 L636.11 460.51 L636.39 460.43 L636.68 460.35 L636.97 460.27 L637.26 460.19 L637.55 460.11 L637.84 460.04 L638.14 459.97 L638.43 459.9 L638.72 459.83 L639.01 459.77 L639.31 459.71 L639.6 459.65 L639.9 459.59 L640.19 459.53 L640.49 459.47 L640.78 459.42 L641.08 459.37 L641.37 459.32 L641.67 459.28 L641.97 459.23 L642.26 459.19 L642.56 459.15 L642.86 459.11 L643.16 459.07 L643.46 459.04 L643.75 459.01 L644.05 458.98 L644.35 458.95 L644.65 458.92 L644.95 458.9 L645.25 458.87 L645.55 458.85 L645.85 458.84 L646.15 458.82 L646.45 458.8 L646.75 458.79 L647.05 458.78 L647.35 458.77 L647.65 458.77 L647.95 458.76 L648.25 458.76 L648.55 458.76 L648.85 458.76 L649.15 458.77 L649.45 458.77 L649.75 458.78 L650.05 458.79 L650.35 458.8 L650.65 458.82 L650.95 458.83 L651.25 458.85 L651.55 458.87 L651.85 458.89 L652.15 458.92 L652.45 458.94 L652.75 458.97 L653.05 459 L653.34 459.03 L653.64 459.06 L653.94 459.09 L654.24 459.13 L654.54 459.17 L654.83 459.21 L655.13 459.25 L655.43 459.29 L655.73 459.34 L656.02 459.38 L656.32 459.43 L656.62 459.48 L656.91 459.53 L657.21 459.58 L657.5 459.64 L657.8 459.69 L658.09 459.75 L658.39 459.81 L658.68 459.87 L658.97 459.93 L659.27 459.99 L659.56 460.05 L659.85 460.12 L660.15 460.19 L660.44 460.25 L660.73 460.32 L661.02 460.39 L661.32 460.46 L661.61 460.54 L661.9 460.61 L662.19 460.68 L662.48 460.76 L662.77 460.84 L663.06 460.92 L663.35 460.99 L663.64 461.07 L663.93 461.16 L664.22 461.24 L664.5 461.32 L664.79 461.41 L665.08 461.49 L665.37 461.58 L665.66 461.66 L665.94 461.75 L666.23 461.84 L666.52 461.93 L666.8 462.02 L667.09 462.11 L667.38 462.2 L667.66 462.29 L667.95 462.39 L668.23 462.48 L668.52 462.58 L668.8 462.67 L669.09 462.77 L669.37 462.86 L669.65 462.96 L669.94 463.06 L670.22 463.16 L670.51 463.26 L670.79 463.35 L671.07 463.45 L671.35 463.55 L671.64 463.66 L671.92 463.76 L672.2 463.86 L672.49 463.96 L672.77 464.06 L673.05 464.16 L673.33 464.27 L673.61 464.37 L673.89 464.48 L674.18 464.58 L674.46 464.68 L674.74 464.79 L675.02 464.89 L675.3 465 L675.58 465.11 L675.86 465.21 L676.14 465.32 L676.42 465.43 L676.7 465.54 L676.98 465.64 L677.26 465.75 L677.54 465.86 L677.82 465.97 L678.1 466.08 L678.38 466.19 L678.66 466.3 L678.94 466.41 L679.22 466.52 L679.5 466.64 L679.78 466.75 L680.05 466.86 L680.33 466.97 L680.61 467.09 L680.89 467.2 L681.17 467.32 L681.44 467.43 L681.72 467.55 L682 467.66 L682.27 467.78 L682.55 467.89 L682.83 468.01 L683.1 468.13 L683.38 468.25 L683.66 468.36 L683.93 468.48 L684.21 468.6 L684.48 468.72 L684.76 468.84 L685.03 468.96 L685.31 469.08 L685.58 469.2 L685.86 469.33 L686.13 469.45 L686.41 469.57 L686.68 469.69 L686.95 469.82 L687.23 469.94 L687.5 470.06 L687.77 470.19 L688.05 470.32 L688.32 470.44 L688.59 470.57 L688.86 470.69 L689.13 470.82 L689.41 470.95 L689.68 471.08 L689.95 471.21 L690.22 471.33 L690.49 471.46 L690.76 471.59 L691.03 471.72 L691.3 471.86 L691.57 471.99 L691.84 472.12 L692.11 472.25 L692.38 472.38 L692.65 472.52 L692.92 472.65 L693.19 472.79 L693.46 472.92 L693.72 473.06 L693.99 473.19 L694.26 473.33 L694.53 473.46 L694.79 473.6 L695.06 473.74 L695.33 473.88 L695.59 474.02 L695.86 474.15 L696.12 474.29 L696.39 474.43 L696.66 474.58 L696.92 474.72 L697.19 474.86 L697.45 475 L697.71 475.14 L697.98 475.29 L698.24 475.43 L698.5 475.57 L698.77 475.72 L699.03 475.86 L699.29 476.01 L699.56 476.16 L699.82 476.3 L700.08 476.45 L700.34 476.6 L700.6 476.75 L700.86 476.89 L701.12 477.04 L701.38 477.19 L701.64 477.34 L701.9 477.5 L702.16 477.65 L702.42 477.8 L702.68 477.95 L702.94 478.1 L703.19 478.26 L703.45 478.41 L703.71 478.57 L703.97 478.72 L704.22 478.88 L704.48 479.03 L704.74 479.19 L704.99 479.35 L705.25 479.51 L705.5 479.66 L705.76 479.82 L706.01 479.98 L706.27 480.14 L706.52 480.3 L706.77 480.46 L707.03 480.62 L707.28 480.79 L707.53 480.95 L707.78 481.11 L708.03 481.28 L708.29 481.44 L708.54 481.61 L708.79 481.77 L709.04 481.94 L709.29 482.1 L709.54 482.27 L709.79 482.44 L710.03 482.61 L710.28 482.78 L710.53 482.94 L710.78 483.11 L711.03 483.28 L711.27 483.46 L711.52 483.63 L711.76 483.8 L712.01 483.97 L712.26 484.15 L712.5 484.32 L712.75 484.49 L712.99 484.67 L713.23 484.84 L713.48 485.02 L713.72 485.2 L713.96 485.37 L714.2 485.55 L714.45 485.73 L714.69 485.91 L714.93 486.09 L715.17 486.27 L715.41 486.45 L715.65 486.63 L715.89 486.81 L716.12 486.99 L716.36 487.18 L716.6 487.36 L716.84 487.54 L717.07 487.73 L717.31 487.91 L717.55 488.1 L717.78 488.28 L718.02 488.47 L718.25 488.66 L718.49 488.85 L718.72 489.03 L718.95 489.22 L719.19 489.41 L719.42 489.6 L719.65 489.79 L719.88 489.99 L720.11 490.18 L720.34 490.37 L720.57 490.56 L720.8 490.76 L721.03 490.95 L721.26 491.14 L721.49 491.34 L721.72 491.54 L721.94 491.73 L722.17 491.93 L722.4 492.13 L722.62 492.33 L722.85 492.52 L723.07 492.72 L723.29 492.92 L723.52 493.12 L723.74 493.32 L723.96 493.53 L724.19 493.73" stroke="#a52a2a" stroke-width="5.1" fill="none" stroke-linejoin="round"/>
<path d="M205.26 352.44 L205.5 351.94 L205.85 352.43 L206.12 352.06 L206.41 351.84 L206.73 352.15 L207.02 352 L207.32 352.13 L207.63 351.9 L207.93 352.07 L208.23 352.08 L208.53 351.82 L208.81 352.58 L209.13 352.03 L209.39 353.09 L209.7 352.72 L210.02 352.43 L210.3 353 L210.66 350.52 L210.92 352.29 L211.22 351.65 L211.53 352.37 L211.77 350.62 L212.12 351.98 L212.4 351.79 L212.76 352.41 L213.06 352.36 L213.25 351.52 L213.5 351.25 L213.65 350.46 L214.31 352.41 L214.71 352.78 L214.95 352.4 L215.04 351.48 L215.39 351.67 L215.69 351.63 L215.94 351.37 L216.12 350.93 L216.4 350.83 L216.84 351.26 L217.17 351.31 L217.85 352.58 L217.73 351.11 L218.08 351.24 L218.57 351.86 L218.2 349.42 L218.71 350.12 L218.9 349.67 L219.34 350.13 L219.65 350.15 L220.1 350.7 L220.59 351.43 L220.53 349.93 L220.71 349.37 L221.32 350.66 L221.22 348.85 L221.62 349.27 L221.8 348.63 L222.4 350.02 L222.67 349.88 L223.22 351.15 L223.47 350.86 L223.48 349.31 L223.69 348.73 L224.19 349.86 L224.47 349.74 L224.78 349.76 L224.95 348.93 L225.23 348.75 L225.81 350.71 L225.82 348.56 L226.18 349.01 L226.43 348.54 L226.82 349.33 L227.04 348.49 L227.28 347.84 L227.63 348.34 L228 349.1 L228.27 348.7 L228.59 348.96 L228.84 348.06 L229.23 349.6 L229.48 348.59 L229.75 347.99 L230.08 348.45 L230.38 348.34 L230.69 348.71 L230.99 348.89 L231.29 349.28 L231.59 349.49 L231.87 350.04 L232.2 348.46 L232.5 348.38 L232.81 348.32 L233.1 348.63 L233.41 348.61 L233.78 347.47 L233.91 350.05 L234.28 349.03 L234.61 348.77 L234.82 349.68 L235.09 349.98 L235.43 349.51 L235.8 348.98 L236.1 348.99 L236.28 349.94 L236.61 349.69 L237.12 348.25 L237.27 349.31 L237.52 349.66 L237.79 349.82 L238.04 350.14 L238.65 348.44 L238.7 349.82 L239.03 349.69 L239.36 349.55 L239.39 350.85 L240.03 349.3 L240.32 349.39 L240.46 350.15 L240.57 350.96 L241.19 349.66 L241.34 350.34 L241.96 349.14 L242.09 349.82 L242.18 350.63 L242.66 350.04 L242.68 351.06 L243.43 349.58 L243.29 351.1 L244.06 349.6 L244.27 349.95 L244.63 349.85 L244.52 351.18 L244.71 351.54 L244.71 352.49 L245.28 351.74 L245.7 351.42 L245.97 351.58 L245.79 352.96 L247.06 350.32 L246.89 351.66 L247.18 351.74 L247.34 352.19 L247.5 352.59 L248.44 351.01 L248.45 351.81 L248.56 352.36 L249.05 351.95 L249.14 352.54 L248.97 353.72 L249.71 352.72 L250.24 352.26 L250.27 352.95 L250.47 353.25 L251.05 352.67 L251.14 353.22 L251.64 352.84 L251.49 353.91 L251.83 353.89 L252.36 353.46 L252.63 353.59 L252.67 354.22 L253.33 353.54 L252.91 355.1 L253.51 354.55 L252.88 356.51 L253.94 355.04 L254.31 354.97 L254.92 354.42 L254.79 355.34 L254.95 355.69 L255.93 354.44 L255.67 355.61 L255.87 355.89 L255.78 356.7 L256.25 356.44 L256.62 356.38 L256.45 357.35 L256.76 357.39 L258.31 355.16 L257.14 357.95 L258.17 356.68 L257.77 358.04 L258.27 357.75 L258.71 357.56 L258.88 357.89 L258.73 358.77 L260.23 356.69 L259.22 359.11 L259.98 358.36 L260.62 357.86 L260.63 358.44 L261.33 357.83 L261.2 358.65 L261.72 358.35 L261.49 359.35 L261.73 359.53 L262.33 359.11 L262.44 359.51 L262.59 359.85 L262.51 360.58 L262.55 361.09 L262.64 361.53 L263.53 360.62 L263.91 360.56 L263.72 361.48 L264.6 360.57 L263.8 362.51 L265.25 360.66 L265.65 360.58 L265.56 361.32 L265.93 361.28 L266.35 361.18 L265.51 363.14 L266.4 362.24 L266.98 361.87 L266.36 363.46 L267.48 362.21 L267.52 362.71 L268.57 361.57 L267.82 363.38 L267.97 363.7 L268.16 363.96 L268.63 363.78 L269.66 362.68 L269.37 363.72 L269.71 363.73 L268.8 365.77 L270.36 363.83 L270.27 364.54 L270.39 364.92 L270.8 364.83 L270.43 365.98 L271.41 364.99 L271.96 364.68 L271.4 366.13 L272.09 365.59 L272.43 365.62 L272.43 366.18 L273.85 364.53 L272.74 366.81 L272.52 367.69 L273.43 366.84 L273.6 367.13 L274.22 366.72 L274.63 366.65 L274.19 367.86 L274.93 367.28 L275.76 366.58 L275.02 368.24 L275.51 368.04 L276.41 367.23 L275.84 368.63 L276.2 368.63 L276.41 368.85 L276.79 368.82 L277.81 367.85 L276.99 369.59 L277.93 368.74 L277.66 369.68 L277.86 369.92 L278 370.24 L279.42 368.71 L278.57 370.46 L278.82 370.64 L278.96 370.95 L279.75 370.35 L279.88 370.69 L280.16 370.81 L280.29 371.14 L280.92 370.77 L280.72 371.57 L280.78 372.01 L280.9 372.35 L282.41 370.77 L281.63 372.37 L282.1 372.23 L282.18 372.63 L282.85 372.21 L283.28 372.15 L283.16 372.81 L282.93 373.63 L283.52 373.34 L283.96 373.25 L283.7 374.1 L283.95 374.26 L284.13 374.53 L285.08 373.76 L285.56 373.62 L285.36 374.38 L284.84 375.56 L285.54 375.14 L285.27 375.99 L286.15 375.33 L286.27 375.67 L287.85 374.11 L286.55 376.29 L286.43 376.93 L288.05 375.34 L288 375.89 L287.92 376.48 L288.16 376.67 L287.87 377.51 L288.68 376.98 L288.37 377.84 L289.57 376.82 L289.98 376.79 L289.25 378.18 L288.97 379.01 L288.92 379.56 L290.26 378.36 L290.63 378.39 L290.59 378.91 L291.45 378.33 L290.73 379.69 L290.99 379.85 L292.27 378.75 L293.2 378.08 L291.63 380.49 L292.08 380.41 L292.25 380.67 L292.62 380.7 L293.74 379.8 L292.47 381.83 L293.51 381.04 L292.86 382.29 L294.42 380.88 L294.71 380.98 L295.34 380.7 L294.12 382.65 L294.77 382.33 L295.03 382.49 L294.74 383.32 L295.92 382.35 L295.79 382.98 L295.34 384 L295.31 384.51 L296.31 383.78 L297.2 383.16 L296.6 384.36 L297.32 383.96 L297.72 383.95 L297.59 384.58 L297.69 384.93 L298.02 384.99 L299.15 384.1 L297.9 386.09 L298.34 386.03 L299.19 385.47 L298.67 386.58 L298.5 387.26 L299.64 386.34 L299.95 386.43 L299.95 386.91 L299.59 387.83 L299.98 387.83 L301.08 386.94 L300.57 388.05 L300.95 388.06 L301.42 387.96 L302.26 387.4 L301.53 388.78 L301.84 388.88 L302.48 388.56 L302.91 388.5 L303.41 388.36 L302.83 389.56 L302.67 390.25 L304.48 388.46 L304.12 389.39 L304.33 389.61 L305.26 388.91 L305.19 389.48 L304.79 390.48 L305.18 390.47 L305.56 390.48 L305.55 390.97 L305.59 391.4 L306.68 390.5 L306.41 391.33 L306.55 391.64 L307.18 391.32 L307.06 391.96 L306.65 393 L306.82 393.26 L307.26 393.18 L307.81 392.95 L307.69 393.62 L308.79 392.66 L308.76 393.19 L308.99 393.38 L309.84 392.74 L309.18 394.14 L309.65 394.01 L310.76 393 L309.96 394.6 L310.41 394.49 L310.55 394.81 L310.77 395.02 L311.2 394.94 L311.58 394.93 L310.94 396.34 L311.53 396.03 L311.46 396.65 L312.2 396.12 L312.16 396.71 L313.26 395.65 L312.83 396.8 L313.87 395.82 L313.71 396.58 L313.26 397.77 L313.94 397.3 L313.95 397.83 L314.14 398.08 L314.84 397.59 L314.66 398.39 L315.66 397.43 L315.15 398.76 L316.02 397.97 L315.89 398.72 L315.64 399.67 L316.61 398.71 L316.99 398.67 L317.95 397.73 L317.53 398.94 L316.56 401.04 L318.33 398.8 L318.65 398.85 L318.18 400.17 L318.63 400.01 L318.93 400.09 L318.54 401.3 L319.46 400.38 L319.71 400.54 L320.28 400.18 L320.43 400.51 L320.75 400.56 L321.02 400.69 L321.1 401.15 L321.15 401.64 L321.56 401.54 L321.85 401.63 L321.82 402.28 L322.46 401.78 L323.37 400.82 L323.09 401.89 L323.14 402.39 L323.27 402.77 L323.65 402.72 L323.52 403.54 L323.96 403.38 L324.53 402.98 L324.61 403.45 L324.92 403.51 L324.59 404.7 L325.28 404.1 L325.94 403.54 L325.89 404.24 L325.79 405.04 L326.23 404.86 L327.13 403.87 L326.8 405.07 L327.15 405.06 L327.12 405.73 L327.99 404.78 L327.85 405.66 L328.74 404.66 L328.63 405.49 L328.77 405.86 L328.78 406.45 L328.98 406.71 L329.82 405.82 L329.28 407.42 L330.41 405.98 L330.13 407.12 L330.5 407.06 L331.12 406.56 L331.36 406.75 L331.48 407.16 L331.71 407.36 L332.04 407.38 L331.56 408.9 L331.9 408.89 L332.3 408.79 L332.38 409.28 L332.51 409.66 L333.96 407.61 L333.66 408.8 L334.01 408.78 L334.34 408.8 L334.22 409.65 L334.71 409.38 L334.88 409.69 L335.11 409.9 L335.54 409.74 L335.76 409.97 L336.55 409.13 L335.82 411.13 L336.72 410.08 L337.16 409.9 L337.14 410.56 L337.82 409.94 L337.34 411.46 L337.74 411.35 L338.42 410.73 L338.8 410.66 L338.36 412.09 L339.38 410.86 L339.14 411.92 L339.73 411.46 L340.35 410.96 L340.27 411.73 L340.96 411.1 L340.33 412.88 L340.5 413.18 L340.89 413.1 L341.24 413.09 L341.46 413.31 L342.18 412.62 L342.56 412.56 L342.58 413.14 L342.29 414.29 L342.84 413.91 L342.88 414.45 L343.95 413.15 L343.71 414.21 L344.36 413.64 L344.3 414.37 L344.37 414.86 L345.2 414 L344.71 415.47 L345.32 415.02 L345.69 414.97 L346.1 414.86 L345.43 416.64 L347.59 413.45 L346.94 415.2 L346.9 415.87 L346.39 417.37 L347.46 416.11 L347.76 416.18 L347.86 416.62 L348 416.98 L348.55 416.63 L348.76 416.86 L348.92 417.19 L349.83 416.2 L349.9 416.69 L349.39 418.16 L350.05 417.63 L350.21 417.95 L350.78 417.57 L350.61 418.46 L351.14 418.15 L350.51 419.82 L351.33 419.01 L351.17 419.87 L351.92 419.19 L352.59 418.63 L353.15 418.28 L353.24 418.71 L353.13 419.5 L353.18 420 L353.96 419.27 L354.69 418.62 L354.46 419.61 L354.8 419.62 L354.27 421.1 L355.07 420.35 L355.68 419.9 L355.25 421.22 L355.88 420.75 L355.94 421.23 L355.96 421.79 L356.64 421.23 L356.53 422.01 L356.6 422.48 L357.46 421.62 L357.11 422.8 L357.69 422.41 L357.59 423.16 L358.07 422.94 L358.73 422.41 L358.4 423.55 L358.72 423.61 L359.79 422.39 L359.54 423.41 L359.86 423.45 L360.15 423.56 L359.56 425.14 L361.08 423.15 L360.8 424.23 L360.92 424.62 L361.1 424.9 L361.36 425.04 L362.45 423.79 L362.13 424.93 L362.68 424.58 L361.87 426.54 L362.05 426.84 L363.1 425.64 L363.53 425.5 L363.14 426.76 L364.08 425.74 L363.77 426.87 L365.05 425.29 L365.68 424.8 L365.47 425.76 L365.3 426.64 L365.56 426.78 L365.93 426.75 L366.54 426.31 L365.71 428.32 L366.34 427.83 L366.75 427.72 L366.86 428.14 L367.08 428.35 L367.48 428.27 L368.52 427.08 L368.18 428.25 L369.2 427.1 L368.29 429.26 L369.04 428.57 L368.48 430.14 L369.4 429.14 L369.15 430.17 L370.16 429.03 L369.91 430.06 L370.7 429.3 L370.64 430 L371.65 428.85 L371.5 429.71 L371.53 430.26 L371.77 430.45 L372.28 430.16 L372.38 430.58 L372.49 430.99 L372.7 431.24 L372.84 431.63 L373 431.97 L373.69 431.32 L374.09 431.19 L373.85 432.31 L375.11 430.47 L374.88 431.6 L374.74 432.58 L375.27 432.16 L375.86 431.57 L376.41 431.04 L376.45 431.68 L376.32 432.75 L376.99 431.85 L376.86 433.01 L377.59 431.85 L377.47 433.09 L377.67 433.47 L377.78 434.16 L378.36 433.25 L378.66 433.26 L378.88 433.62 L379.47 432.22 L379.5 433.6 L379.82 433.45 L380.1 433.57 L380.37 433.8 L380.76 432.45 L380.94 434.77 L381.27 434.85 L381.54 432.88 L381.84 433.35 L382.15 433.59 L382.49 433.94 L382.82 434.08 L383.35 435.25 L383.18 432.8 L383.77 434.05 L383.74 432.74 L384.24 433.43 L384.4 432.96 L385.29 434.58 L385.48 434.15 L385.21 432.62 L385.85 433.37 L385.89 432.7 L386.14 432.55 L386.89 433.32 L386.52 431.99 L386.84 431.96 L387.52 432.5 L387.18 431.41" stroke="#a52a2a" stroke-width="6.0" fill="none" stroke-linejoin="round" stroke-linecap="round"/>
</g>
<g fill="none" stroke-linecap="round" stroke-linejoin="round">
<path transform="translate(130.92 530.95)" d="M7.42 -16.74 L4.95 -15.94 L3.3 -13.55 L2.47 -9.56 L2.47 -7.17 L3.3 -3.19 L4.95 -0.8 L7.42 0 L9.07 0 L11.55 -0.8 L13.2 -3.19 L14.02 -7.17 L14.02 -9.56 L13.2 -13.55 L11.55 -15.94 L9.07 -16.74 L7.42 -16.74" stroke="#000" stroke-width="1.9"/>
<path transform="translate(224.15 530.95)" d="M3.3 -12.75 L3.3 -13.55 L4.12 -15.14 L4.95 -15.94 L6.6 -16.74 L9.9 -16.74 L11.55 -15.94 L12.38 -15.14 L13.2 -13.55 L13.2 -11.96 L12.38 -10.36 L10.72 -7.97 L2.47 0 L14.02 0 M23.93 -16.74 L21.45 -15.94 L19.8 -13.55 L18.98 -9.56 L18.98 -7.17 L19.8 -3.19 L21.45 -0.8 L23.93 0 L25.57 0 L28.05 -0.8 L29.7 -3.19 L30.52 -7.17 L30.52 -9.56 L29.7 -13.55 L28.05 -15.94 L25.57 -16.74 L23.93 -16.74" stroke="#000" stroke-width="1.9"/>
<path transform="translate(325.64 530.95)" d="M10.72 -16.74 L2.47 -5.58 L14.85 -5.58 M10.72 -16.74 L10.72 0 M23.93 -16.74 L21.45 -15.94 L19.8 -13.55 L18.98 -9.56 L18.98 -7.17 L19.8 -3.19 L21.45 -0.8 L23.93 0 L25.57 0 L28.05 -0.8 L29.7 -3.19 L30.52 -7.17 L30.52 -9.56 L29.7 -13.55 L28.05 -15.94 L25.57 -16.74 L23.93 -16.74" stroke="#000" stroke-width="1.9"/>
<path transform="translate(427.12 530.95)" d="M13.2 -14.35 L12.38 -15.94 L9.9 -16.74 L8.25 -16.74 L5.77 -15.94 L4.12 -13.55 L3.3 -9.56 L3.3 -5.58 L4.12 -2.39 L5.77 -0.8 L8.25 0 L9.07 0 L11.55 -0.8 L13.2 -2.39 L14.02 -4.78 L14.02 -5.58 L13.2 -7.97 L11.55 -9.56 L9.07 -10.36 L8.25 -10.36 L5.77 -9.56 L4.12 -7.97 L3.3 -5.58 M23.93 -16.74 L21.45 -15.94 L19.8 -13.55 L18.98 -9.56 L18.98 -7.17 L19.8 -3.19 L21.45 -0.8 L23.93 0 L25.57 0 L28.05 -0.8 L29.7 -3.19 L30.52 -7.17 L30.52 -9.56 L29.7 -13.55 L28.05 -15.94 L25.57 -16.74 L23.93 -16.74" stroke="#000" stroke-width="1.9"/>
<path transform="translate(528.6 530.95)" d="M6.6 -16.74 L4.12 -15.94 L3.3 -14.35 L3.3 -12.75 L4.12 -11.16 L5.77 -10.36 L9.07 -9.56 L11.55 -8.77 L13.2 -7.17 L14.02 -5.58 L14.02 -3.19 L13.2 -1.59 L12.38 -0.8 L9.9 0 L6.6 0 L4.12 -0.8 L3.3 -1.59 L2.47 -3.19 L2.47 -5.58 L3.3 -7.17 L4.95 -8.77 L7.42 -9.56 L10.72 -10.36 L12.38 -11.16 L13.2 -12.75 L13.2 -14.35 L12.38 -15.94 L9.9 -16.74 L6.6 -16.74 M23.93 -16.74 L21.45 -15.94 L19.8 -13.55 L18.98 -9.56 L18.98 -7.17 L19.8 -3.19 L21.45 -0.8 L23.93 0 L25.57 0 L28.05 -0.8 L29.7 -3.19 L30.52 -7.17 L30.52 -9.56 L29.7 -13.55 L28.05 -15.94 L25.57 -16.74 L23.93 -16.74" stroke="#000" stroke-width="1.9"/>
<path transform="translate(621.83 530.95)" d="M4.95 -13.55 L6.6 -14.35 L9.07 -16.74 L9.07 0 M23.93 -16.74 L21.45 -15.94 L19.8 -13.55 L18.98 -9.56 L18.98 -7.17 L19.8 -3.19 L21.45 -0.8 L23.93 0 L25.57 0 L28.05 -0.8 L29.7 -3.19 L30.52 -7.17 L30.52 -9.56 L29.7 -13.55 L28.05 -15.94 L25.57 -16.74 L23.93 -16.74 M40.42 -16.74 L37.95 -15.94 L36.3 -13.55 L35.48 -9.56 L35.48 -7.17 L36.3 -3.19 L37.95 -0.8 L40.42 0 L42.08 0 L44.55 -0.8 L46.2 -3.19 L47.02 -7.17 L47.02 -9.56 L46.2 -13.55 L44.55 -15.94 L42.08 -16.74 L40.42 -16.74" stroke="#000" stroke-width="1.9"/>
<path transform="translate(723.31 530.95)" d="M4.95 -13.55 L6.6 -14.35 L9.07 -16.74 L9.07 0 M19.8 -12.75 L19.8 -13.55 L20.62 -15.14 L21.45 -15.94 L23.1 -16.74 L26.4 -16.74 L28.05 -15.94 L28.88 -15.14 L29.7 -13.55 L29.7 -11.96 L28.88 -10.36 L27.23 -7.97 L18.98 0 L30.52 0 M40.42 -16.74 L37.95 -15.94 L36.3 -13.55 L35.48 -9.56 L35.48 -7.17 L36.3 -3.19 L37.95 -0.8 L40.42 0 L42.08 0 L44.55 -0.8 L46.2 -3.19 L47.02 -7.17 L47.02 -9.56 L46.2 -13.55 L44.55 -15.94 L42.08 -16.74 L40.42 -16.74" stroke="#000" stroke-width="1.9"/>
<path transform="translate(77.5 33.2)" d="M4.95 -13.55 L6.6 -14.35 L9.07 -16.74 L9.07 0 M23.93 -16.74 L21.45 -15.94 L19.8 -13.55 L18.98 -9.56 L18.98 -7.17 L19.8 -3.19 L21.45 -0.8 L23.93 0 L25.57 0 L28.05 -0.8 L29.7 -3.19 L30.52 -7.17 L30.52 -9.56 L29.7 -13.55 L28.05 -15.94 L25.57 -16.74 L23.93 -16.74 M40.42 -16.74 L37.95 -15.94 L36.3 -13.55 L35.48 -9.56 L35.48 -7.17 L36.3 -3.19 L37.95 -0.8 L40.42 0 L42.08 0 L44.55 -0.8 L46.2 -3.19 L47.02 -7.17 L47.02 -9.56 L46.2 -13.55 L44.55 -15.94 L42.08 -16.74 L40.42 -16.74" stroke="#000" stroke-width="1.9"/>
<path transform="translate(94 174.2)" d="M4.95 -13.55 L6.6 -14.35 L9.07 -16.74 L9.07 0 M23.93 -16.74 L21.45 -15.94 L19.8 -13.55 L18.98 -9.56 L18.98 -7.17 L19.8 -3.19 L21.45 -0.8 L23.93 0 L25.57 0 L28.05 -0.8 L29.7 -3.19 L30.52 -7.17 L30.52 -9.56 L29.7 -13.55 L28.05 -15.94 L25.57 -16.74 L23.93 -16.74" stroke="#000" stroke-width="1.9"/>
<path transform="translate(110.5 322.6)" d="M4.95 -13.55 L6.6 -14.35 L9.07 -16.74 L9.07 0" stroke="#000" stroke-width="1.9"/>
<path transform="translate(85.75 471)" d="M7.42 -16.74 L4.95 -15.94 L3.3 -13.55 L2.47 -9.56 L2.47 -7.17 L3.3 -3.19 L4.95 -0.8 L7.42 0 L9.07 0 L11.55 -0.8 L13.2 -3.19 L14.02 -7.17 L14.02 -9.56 L13.2 -13.55 L11.55 -15.94 L9.07 -16.74 L7.42 -16.74 M20.62 -1.59 L19.8 -0.8 L20.62 0 L21.45 -0.8 L20.62 -1.59 M29.7 -13.55 L31.35 -14.35 L33.83 -16.74 L33.83 0" stroke="#000" stroke-width="1.9"/>
<path transform="translate(414.45 563.4)" d="M4.07 -16.74 L4.07 -3.19 L4.89 -0.8 L6.52 0 L8.15 0 M1.63 -11.16 L7.33 -11.16 M31.79 -19.93 L30.16 -18.33 L28.52 -15.94 L26.89 -12.75 L26.08 -8.77 L26.08 -5.58 L26.89 -1.59 L28.52 1.59 L30.16 3.99 L31.79 5.58 M46.46 -16.74 L46.46 0 M46.46 -8.77 L44.83 -10.36 L43.2 -11.16 L40.75 -11.16 L39.12 -10.36 L37.49 -8.77 L36.68 -6.38 L36.68 -4.78 L37.49 -2.39 L39.12 -0.8 L40.75 0 L43.2 0 L44.83 -0.8 L46.46 -2.39 M61.94 -11.16 L61.94 0 M61.94 -8.77 L60.31 -10.36 L58.68 -11.16 L56.23 -11.16 L54.61 -10.36 L52.98 -8.77 L52.16 -6.38 L52.16 -4.78 L52.98 -2.39 L54.61 -0.8 L56.23 0 L58.68 0 L60.31 -0.8 L61.94 -2.39 M66.83 -11.16 L71.72 0 M76.61 -11.16 L71.72 0 L70.09 3.19 L68.46 4.78 L66.83 5.58 L66.02 5.58 M89.65 -8.77 L88.84 -10.36 L86.39 -11.16 L83.95 -11.16 L81.5 -10.36 L80.69 -8.77 L81.5 -7.17 L83.13 -6.38 L87.21 -5.58 L88.84 -4.78 L89.65 -3.19 L89.65 -2.39 L88.84 -0.8 L86.39 0 L83.95 0 L81.5 -0.8 L80.69 -2.39 M94.54 -19.93 L96.17 -18.33 L97.8 -15.94 L99.43 -12.75 L100.25 -8.77 L100.25 -5.58 L99.43 -1.59 L97.8 1.59 L96.17 3.99 L94.54 5.58" stroke="#000" stroke-width="1.9"/>
<path transform="translate(273 88.3)" d="M3.28 -16.53 L3.28 0 M3.28 -16.53 L10.66 -16.53 L13.12 -15.74 L13.94 -14.95 L14.76 -13.38 L14.76 -11.8 L13.94 -10.23 L13.12 -9.44 L10.66 -8.66 L3.28 -8.66 M9.02 -8.66 L14.76 0 M25.01 1.97 L24.52 1.07 L23.04 0.62 L21.56 0.62 L20.09 1.07 L19.6 1.97 L20.09 2.87 L21.07 3.32 L23.53 3.77 L24.52 4.22 L25.01 5.12 L25.01 5.58 L24.52 6.48 L23.04 6.93 L21.56 6.93 L20.09 6.48 L19.6 5.58 M28.45 -2.53 L28.45 6.93 M28.45 2.42 L29.93 1.07 L30.91 0.62 L32.39 0.62 L33.37 1.07 L33.86 2.42 L33.86 6.93 M52.23 -19.68 L37.47 5.51 M66.17 -11.02 L66.17 0 M66.17 -8.66 L64.53 -10.23 L62.89 -11.02 L60.43 -11.02 L58.79 -10.23 L57.15 -8.66 L56.33 -6.3 L56.33 -4.72 L57.15 -2.36 L58.79 -0.79 L60.43 0 L62.89 0 L64.53 -0.79 L66.17 -2.36" stroke="#00f" stroke-width="1.65"/>
<path transform="translate(273.5 165.5)" d="M6.56 -16.53 L6.56 0 M1.31 -16.53 L11.81 -16.53 M21 0.62 L21 6.93 M21 1.97 L20.02 1.07 L19.03 0.62 L17.56 0.62 L16.57 1.07 L15.59 1.97 L15.1 3.32 L15.1 4.22 L15.59 5.58 L16.57 6.48 L17.56 6.93 L19.03 6.93 L20.02 6.48 L21 5.58 M23.95 0.62 L26.9 6.93 M29.86 0.62 L26.9 6.93 M38.22 0.62 L38.22 7.83 L37.73 9.18 L37.24 9.63 L36.25 10.08 L34.78 10.08 L33.79 9.63 M38.22 1.97 L37.24 1.07 L36.25 0.62 L34.78 0.62 L33.79 1.07 L32.81 1.97 L32.32 3.32 L32.32 4.22 L32.81 5.58 L33.79 6.48 L34.78 6.93 L36.25 6.93 L37.24 6.48 L38.22 5.58 M56.59 -19.68 L41.83 5.51 M63.15 -13.38 L64.79 -14.17 L67.25 -16.53 L67.25 0 M82.01 -16.53 L79.55 -15.74 L77.91 -13.38 L77.09 -9.44 L77.09 -7.08 L77.91 -3.15 L79.55 -0.79 L82.01 0 L83.65 0 L86.11 -0.79 L87.75 -3.15 L88.57 -7.08 L88.57 -9.44 L87.75 -13.38 L86.11 -15.74 L83.65 -16.53 L82.01 -16.53 M93.49 -22.36 L98.9 -22.36 L95.95 -18.52 L97.42 -18.52 L98.41 -18.04 L98.9 -17.56 L99.39 -16.12 L99.39 -15.16 L98.9 -13.72 L97.92 -12.76 L96.44 -12.28 L94.96 -12.28 L93.49 -12.76 L93 -13.24 L92.5 -14.2 M117.27 -16.53 L117.27 0 M128.75 -16.53 L117.27 -5.51 M121.37 -9.44 L128.75 0" stroke="#f00" stroke-width="1.65"/>
<path transform="translate(248.4 266.3)" d="M6.56 -16.53 L6.56 0 M1.31 -16.53 L11.81 -16.53 M15.59 0.62 L15.59 10.08 M15.59 1.97 L16.57 1.07 L17.56 0.62 L19.03 0.62 L20.02 1.07 L21 1.97 L21.49 3.32 L21.49 4.22 L21 5.58 L20.02 6.48 L19.03 6.93 L17.56 6.93 L16.57 6.48 L15.59 5.58 M24.94 -2.53 L24.94 6.93 M24.94 2.42 L26.41 1.07 L27.4 0.62 L28.87 0.62 L29.86 1.07 L30.35 2.42 L30.35 6.93 M48.72 -19.68 L33.96 5.51 M55.28 -13.38 L56.92 -14.17 L59.38 -16.53 L59.38 0 M74.14 -16.53 L71.68 -15.74 L70.04 -13.38 L69.22 -9.44 L69.22 -7.08 L70.04 -3.15 L71.68 -0.79 L74.14 0 L75.78 0 L78.24 -0.79 L79.88 -3.15 L80.7 -7.08 L80.7 -9.44 L79.88 -13.38 L78.24 -15.74 L75.78 -16.53 L74.14 -16.53 M85.62 -22.36 L91.03 -22.36 L88.08 -18.52 L89.55 -18.52 L90.54 -18.04 L91.03 -17.56 L91.52 -16.12 L91.52 -15.16 L91.03 -13.72 L90.04 -12.76 L88.57 -12.28 L87.09 -12.28 L85.62 -12.76 L85.12 -13.24 L84.63 -14.2 M109.4 -16.53 L109.4 0 M120.88 -16.53 L109.4 -5.51 M113.5 -9.44 L120.88 0" stroke="#000" stroke-width="1.65"/>
<path transform="translate(522 325.2)" d="M0.82 -16.53 L7.38 0 M13.94 -16.53 L7.38 0 M22.55 1.97 L22.06 1.07 L20.58 0.62 L19.1 0.62 L17.63 1.07 L17.14 1.97 L17.63 2.87 L18.61 3.32 L21.07 3.77 L22.06 4.22 L22.55 5.12 L22.55 5.58 L22.06 6.48 L20.58 6.93 L19.1 6.93 L17.63 6.48 L17.14 5.58 M25.99 -2.53 L25.99 6.93 M25.99 2.42 L27.47 1.07 L28.45 0.62 L29.93 0.62 L30.91 1.07 L31.4 2.42 L31.4 6.93 M49.77 -19.68 L35.01 5.51 M56.33 -13.38 L57.97 -14.17 L60.43 -16.53 L60.43 0 M75.19 -16.53 L72.73 -15.74 L71.09 -13.38 L70.27 -9.44 L70.27 -7.08 L71.09 -3.15 L72.73 -0.79 L75.19 0 L76.83 0 L79.29 -0.79 L80.93 -3.15 L81.75 -7.08 L81.75 -9.44 L80.93 -13.38 L79.29 -15.74 L76.83 -16.53 L75.19 -16.53 M91.59 -16.53 L89.13 -15.74 L87.49 -13.38 L86.67 -9.44 L86.67 -7.08 L87.49 -3.15 L89.13 -0.79 L91.59 0 L93.23 0 L95.69 -0.79 L97.33 -3.15 L98.15 -7.08 L98.15 -9.44 L97.33 -13.38 L95.69 -15.74 L93.23 -16.53 L91.59 -16.53 M117.01 -16.53 L117.01 0 M125.21 -11.02 L117.01 -3.15 M120.29 -6.3 L126.03 0 M130.95 -11.02 L130.95 0 M130.95 -7.87 L133.41 -10.23 L135.05 -11.02 L137.51 -11.02 L139.15 -10.23 L139.97 -7.87 L139.97 0 M139.97 -7.87 L142.43 -10.23 L144.07 -11.02 L146.53 -11.02 L148.17 -10.23 L148.99 -7.87 L148.99 0 M176.87 -8.66 L176.05 -10.23 L173.59 -11.02 L171.13 -11.02 L168.67 -10.23 L167.85 -8.66 L168.67 -7.08 L170.31 -6.3 L174.41 -5.51 L176.05 -4.72 L176.87 -3.15 L176.87 -2.36 L176.05 -0.79 L173.59 0 L171.13 0 L168.67 -0.79 L167.85 -2.36 M181.3 -16.6 L190.16 -16.6 M195.08 -20.44 L196.06 -20.92 L197.54 -22.36 L197.54 -12.28" stroke="#ffa500" stroke-width="1.65"/>
<path transform="translate(332 385.2)" d="M4.92 -11.02 L1.64 0 M13.12 -10.23 L12.3 -11.02 L11.48 -11.02 L9.84 -10.23 L6.56 -7.08 L4.92 -6.3 L4.1 -6.3 M4.1 -6.3 L5.74 -5.51 L6.56 -4.72 L8.2 -0.79 L9.02 0 L9.84 0 L10.66 -0.79 M22.64 0.62 L22.64 6.93 M22.64 1.97 L21.66 1.07 L20.67 0.62 L19.2 0.62 L18.21 1.07 L17.23 1.97 L16.74 3.32 L16.74 4.22 L17.23 5.58 L18.21 6.48 L19.2 6.93 L20.67 6.93 L21.66 6.48 L22.64 5.58 M25.59 0.62 L28.54 6.93 M31.5 0.62 L28.54 6.93 M39.86 0.62 L39.86 7.83 L39.37 9.18 L38.88 9.63 L37.89 10.08 L36.42 10.08 L35.43 9.63 M39.86 1.97 L38.88 1.07 L37.89 0.62 L36.42 0.62 L35.43 1.07 L34.45 1.97 L33.96 3.32 L33.96 4.22 L34.45 5.58 L35.43 6.48 L36.42 6.93 L37.89 6.93 L38.88 6.48 L39.86 5.58 M58.23 -19.68 L43.47 5.51 M72.17 -8.66 L70.53 -10.23 L68.89 -11.02 L66.43 -11.02 L64.79 -10.23 L63.15 -8.66 L62.33 -6.3 L62.33 -4.72 L63.15 -2.36 L64.79 -0.79 L66.43 0 L68.89 0 L70.53 -0.79 L72.17 -2.36 M77.91 -11.02 L77.91 0 M77.91 -7.87 L80.37 -10.23 L82.01 -11.02 L84.47 -11.02 L86.11 -10.23 L86.93 -7.87 L86.93 0 M86.93 -7.87 L89.39 -10.23 L91.03 -11.02 L93.49 -11.02 L95.13 -10.23 L95.95 -7.87 L95.95 0 M101.2 -19.96 L101.2 -20.44 L101.69 -21.4 L102.18 -21.88 L103.16 -22.36 L105.13 -22.36 L106.12 -21.88 L106.61 -21.4 L107.1 -20.44 L107.1 -19.48 L106.61 -18.52 L105.62 -17.08 L100.7 -12.28 L107.59 -12.28 M121.37 -11.02 L121.37 1.57 L120.55 3.94 L119.73 4.72 L118.09 5.51 L115.63 5.51 L113.99 4.72 M121.37 -8.66 L119.73 -10.23 L118.09 -11.02 L115.63 -11.02 L113.99 -10.23 L112.35 -8.66 L111.53 -6.3 L111.53 -4.72 L112.35 -2.36 L113.99 -0.79 L115.63 0 L118.09 0 L119.73 -0.79 L121.37 -2.36 M126.62 -16.6 L135.47 -16.6 M140.39 -20.44 L141.38 -20.92 L142.85 -22.36 L142.85 -12.28" stroke="#a52a2a" stroke-width="1.65"/>
</g>
</svg>
</body></html>
